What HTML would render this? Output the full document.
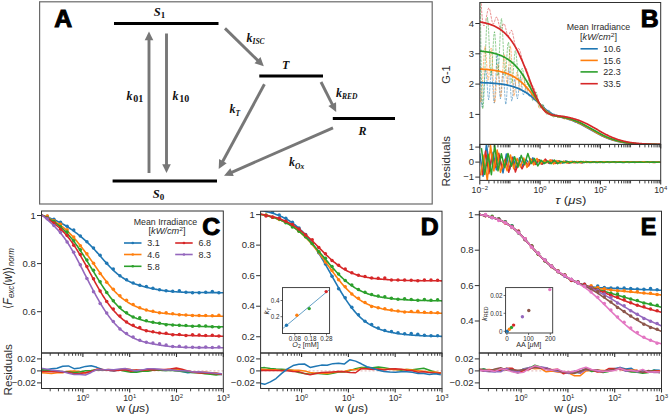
<!DOCTYPE html><html><head><meta charset="utf-8"><style>html,body{margin:0;padding:0;background:#fff;width:669px;height:416px;overflow:hidden}svg{display:block}text{stroke:none}</style></head><body>
<svg width="669" height="416" viewBox="0 0 669 416">
<rect x="0" y="0" width="669" height="416" fill="#fff"/>
<rect x="39.6" y="1.8" width="392.6" height="202.2" fill="none" stroke="#6a6a6a" stroke-width="1.2"/>
<text x="54.3" y="27.2" font-size="24.8" text-anchor="start" font-weight="bold" font-style="normal" font-family='"Liberation Sans", sans-serif' fill="#000" style="stroke:#000;stroke-width:1.0px">A</text>
<line x1="114" y1="23.6" x2="218.5" y2="23.6" stroke="#000" stroke-width="3" />
<line x1="112.6" y1="181" x2="217" y2="181" stroke="#000" stroke-width="3" />
<line x1="259.3" y1="76" x2="323" y2="76" stroke="#000" stroke-width="3" />
<line x1="332.8" y1="118.5" x2="395" y2="118.5" stroke="#000" stroke-width="3" />
<line x1="149" y1="173" x2="149" y2="39.3" stroke="#777777" stroke-width="2.9" />
<path d="M149,31.5 L153.3,40.3 L144.7,40.3 Z" fill="#777777"/>
<line x1="166.5" y1="33.5" x2="166.5" y2="165.2" stroke="#777777" stroke-width="2.9" />
<path d="M166.5,173 L162.2,164.2 L170.8,164.2 Z" fill="#777777"/>
<line x1="225" y1="28.4" x2="258.22" y2="60.85" stroke="#777777" stroke-width="2.9" />
<path d="M263.8,66.3 L254.5,63.23 L260.51,57.07 Z" fill="#777777"/>
<line x1="264.4" y1="84.3" x2="222.41" y2="162.04" stroke="#777777" stroke-width="2.9" />
<path d="M218.7,168.9 L219.1,159.11 L226.67,163.2 Z" fill="#777777"/>
<line x1="321" y1="82" x2="332.67" y2="105.04" stroke="#777777" stroke-width="2.9" />
<path d="M336.2,112 L328.39,106.09 L336.06,102.21 Z" fill="#777777"/>
<line x1="333" y1="127.8" x2="231.14" y2="172.56" stroke="#777777" stroke-width="2.9" />
<path d="M224,175.7 L230.33,168.22 L233.79,176.1 Z" fill="#777777"/>
<text x="126.6" y="99.5" font-family='"Liberation Serif", serif' fill="#111"><tspan font-size="12" font-weight="bold" font-style="italic">k</tspan><tspan font-size="10" font-weight="bold" font-style="normal" dy="2.5" dx="0.6">01</tspan></text>
<text x="172.6" y="99.5" font-family='"Liberation Serif", serif' fill="#111"><tspan font-size="12" font-weight="bold" font-style="italic">k</tspan><tspan font-size="10" font-weight="bold" font-style="normal" dy="2.5" dx="0.6">10</tspan></text>
<text x="246.5" y="41.5" font-family='"Liberation Serif", serif' fill="#111"><tspan font-size="12" font-weight="bold" font-style="italic">k</tspan><tspan font-size="7.5" font-weight="bold" font-style="italic" dy="2.5" dx="0">ISC</tspan></text>
<text x="229.5" y="113" font-family='"Liberation Serif", serif' fill="#111"><tspan font-size="12" font-weight="bold" font-style="italic">k</tspan><tspan font-size="7.5" font-weight="bold" font-style="italic" dy="2.5" dx="0">T</tspan></text>
<text x="336" y="96.5" font-family='"Liberation Serif", serif' fill="#111"><tspan font-size="12" font-weight="bold" font-style="italic">k</tspan><tspan font-size="7.5" font-weight="bold" font-style="italic" dy="2.5" dx="0">RED</tspan></text>
<text x="289" y="166" font-family='"Liberation Serif", serif' fill="#111"><tspan font-size="12" font-weight="bold" font-style="italic">k</tspan><tspan font-size="7.5" font-weight="bold" font-style="italic" dy="2.5" dx="0">Ox</tspan></text>
<text x="153.8" y="16.3" font-family='"Liberation Serif", serif' fill="#111"><tspan font-size="12.5" font-weight="bold" font-style="italic">S</tspan><tspan font-size="9" font-weight="bold" dy="2">1</tspan></text>
<text x="152.8" y="197.8" font-family='"Liberation Serif", serif' fill="#111"><tspan font-size="12.5" font-weight="bold" font-style="italic">S</tspan><tspan font-size="9" font-weight="bold" dy="2">0</tspan></text>
<text x="282" y="69" font-size="12" text-anchor="start" font-weight="bold" font-style="italic" font-family='"Liberation Serif", serif' fill="#111" >T</text>
<text x="358.5" y="135" font-size="12" text-anchor="start" font-weight="bold" font-style="italic" font-family='"Liberation Serif", serif' fill="#111" >R</text>
<defs>
<clipPath id="cB"><rect x="479.8" y="2.5" width="180.9" height="141.9"/></clipPath>
<clipPath id="cBr"><rect x="479.8" y="144.4" width="180.9" height="36"/></clipPath>
<clipPath id="cC"><rect x="41.5" y="211" width="181.8" height="142"/></clipPath>
<clipPath id="cCr"><rect x="41.5" y="353" width="181.8" height="35.5"/></clipPath>
<clipPath id="cD"><rect x="260.6" y="211.2" width="181.4" height="141.8"/></clipPath>
<clipPath id="cDr"><rect x="260.6" y="353" width="181.4" height="35.5"/></clipPath>
<clipPath id="cE"><rect x="479.3" y="211.2" width="182.2" height="141.8"/></clipPath>
<clipPath id="cEr"><rect x="479.3" y="353" width="182.2" height="35.5"/></clipPath>
</defs>
<g clip-path="url(#cB)">
<path d="M479.8,40.86 L480.39,73.38 L480.98,93.92 L481.57,104.51 L482.15,107.16 L482.74,103.89 L483.33,96.72 L483.92,87.66 L484.51,78.74 L485.1,71.97 L485.69,69.36 L486.28,72.54 L486.86,80.05 L487.45,89.01 L488.04,96.54 L488.63,99.74 L489.22,96.55 L489.81,88.89 L490.4,80 L490.99,73.06 L491.57,71.31 L492.16,76.57 L492.75,86.08 L493.34,96.12 L493.93,102.97 L494.52,102.9 L495.11,94.43 L495.7,81.1 L496.28,67.16 L496.87,56.87 L497.46,54.42 L498.05,60.94 L498.64,72.75 L499.23,85.71 L499.82,95.72 L500.41,98.78 L500.99,94.44 L501.58,86.1 L502.17,77.38 L502.76,71.9 L503.35,73.01 L503.94,80.26 L504.53,90.25 L505.12,99.48 L505.7,104.48 L506.29,102.23 L506.88,93.92 L507.47,83.04 L508.06,73.11 L508.65,67.63 L509.24,69.37 L509.83,76.78 L510.41,86.66 L511,95.84 L511.59,101.13 L512.18,100.32 L512.77,95.09 L513.36,88.05 L513.95,81.84 L514.53,79.07 L515.12,81.19 L515.71,86.46 L516.3,92.65 L516.89,97.52 L517.48,98.84 L518.07,95.78 L518.66,90.07 L519.24,83.72 L519.83,78.73 L520.42,77.05 L521.01,79.15 L521.6,83.56 L522.19,88.7 L522.78,92.97 L523.37,94.87 L523.95,94.23 L524.54,92.09 L525.13,89.53 L525.72,87.63 L526.31,87.4 L526.9,88.78 L527.49,91.06 L528.08,93.52 L528.66,95.44 L529.25,96.21 L529.84,96 L530.43,95.3 L531.02,94.6 L531.61,94.41 L532.2,95.1 L532.79,96.43 L533.37,97.99 L533.96,99.38 L534.55,100.17 L535.14,100.14 L535.73,99.59 L536.32,98.93 L536.91,98.57 L537.5,98.91 L538.08,100.12 L538.67,101.85 L539.26,103.66 L539.85,105.14 L540.44,105.87 L541.03,105.76 L541.62,105.19 L542.21,104.58 L542.79,104.37 L543.38,104.97 L543.97,106.38 L544.56,108.21 L545.15,110.04 L545.74,111.46 L546.33,112.07 L546.91,111.92 L547.5,111.34 L548.09,110.67 L548.68,110.26 L549.27,110.4 L549.86,111.04 L550.45,111.95 L551.04,112.9 L551.62,113.65 L552.21,114.01 L552.8,114.07 L553.39,114 L553.98,113.97 L554.57,114.17 L555.16,114.71 L555.75,115.45 L556.33,116.23 L556.92,116.87 L557.51,117.18 L558.1,117.08 L558.69,116.73 L559.28,116.3 L559.87,115.97 L560.46,115.93 L561.04,116.24 L561.63,116.77 L562.22,117.36 L562.81,117.85 L563.4,118.1 L563.99,118.08 L564.58,117.91 L565.17,117.73 L565.75,117.67 L566.34,117.85 L566.93,118.26 L567.52,118.79 L568.11,119.32 L568.7,119.7 L569.29,119.85 L569.88,119.78 L570.46,119.64 L571.05,119.56 L571.64,119.66 L572.23,120.05 L572.82,120.65 L573.41,121.34 L574,121.97 L574.59,122.39 L575.17,122.51 L575.76,122.42 L576.35,122.24 L576.94,122.1 L577.53,122.13 L578.12,122.41 L578.71,122.89 L579.3,123.49" fill="none" stroke="#1f77b4" stroke-width="0.6" stroke-linejoin="round" stroke-dasharray="2.6,1" opacity="0.85"/>
<path d="M479.8,89.54 L480.39,99.93 L480.98,102.16 L481.57,98.12 L482.15,89.66 L482.74,78.66 L483.33,66.96 L483.92,56.44 L484.51,48.97 L485.1,46.4 L485.69,49.91 L486.28,57.67 L486.86,67.06 L487.45,75.44 L488.04,80.19 L488.63,78.87 L489.22,72.07 L489.81,62.69 L490.4,53.7 L490.99,48.07 L491.57,48.77 L492.16,56.89 L492.75,69.63 L493.34,83.7 L493.93,95.8 L494.52,102.64 L495.11,101.58 L495.7,94.13 L496.28,83.48 L496.87,72.82 L497.46,65.33 L498.05,64.09 L498.64,69.36 L499.23,78.3 L499.82,87.92 L500.41,95.25 L500.99,97.28 L501.58,92.32 L502.17,82.58 L502.76,71.01 L503.35,60.59 L503.94,54.27 L504.53,54.67 L505.12,60.88 L505.7,69.98 L506.29,79.06 L506.88,85.18 L507.47,85.45 L508.06,79.16 L508.65,69.06 L509.24,58.14 L509.83,49.42 L510.41,45.91 L511,49.76 L511.59,59.22 L512.18,71.44 L512.77,83.55 L513.36,92.7 L513.95,96.19 L514.53,94 L515.12,88.29 L515.71,81.29 L516.3,75.21 L516.89,72.27 L517.48,73.58 L518.07,77.79 L518.66,83.24 L519.24,88.27 L519.83,91.21 L520.42,90.68 L521.01,87.29 L521.6,82.48 L522.19,77.71 L522.78,74.41 L523.37,73.98 L523.95,76.63 L524.54,81.15 L525.13,86.28 L525.72,90.73 L526.31,93.26 L526.9,93.05 L527.49,90.89 L528.08,87.85 L528.66,85.01 L529.25,83.45 L529.84,84.15 L530.43,86.89 L531.02,90.74 L531.61,94.79 L532.2,98.1 L532.79,99.75 L533.37,99.44 L533.96,97.89 L534.55,95.89 L535.14,94.26 L535.73,93.81 L536.32,95.12 L536.91,97.81 L537.5,101.18 L538.08,104.55 L538.67,107.21 L539.26,108.52 L539.85,108.45 L540.44,107.53 L541.03,106.3 L541.62,105.29 L542.21,105.05 L542.79,105.85 L543.38,107.38 L543.97,109.25 L544.56,111.05 L545.15,112.38 L545.74,112.91 L546.33,112.74 L546.91,112.19 L547.5,111.57 L548.09,111.17 L548.68,111.3 L549.27,112.02 L549.86,113.11 L550.45,114.32 L551.04,115.4 L551.62,116.13 L552.21,116.33 L552.8,116.13 L553.39,115.73 L553.98,115.31 L554.57,115.05 L555.16,115.14 L555.75,115.54 L556.33,116.1 L556.92,116.69 L557.51,117.14 L558.1,117.3 L558.69,117.15 L559.28,116.8 L559.87,116.41 L560.46,116.14 L561.04,116.13 L561.63,116.5 L562.22,117.14 L562.81,117.9 L563.4,118.59 L563.99,119.06 L564.58,119.14 L565.17,118.85 L565.75,118.35 L566.34,117.8 L566.93,117.38 L567.52,117.25 L568.11,117.5 L568.7,118.02 L569.29,118.68 L569.88,119.34 L570.46,119.87 L571.05,120.15 L571.64,120.22 L572.23,120.16 L572.82,120.08 L573.41,120.07 L574,120.23 L574.59,120.59 L575.17,121.1 L575.76,121.7 L576.35,122.32 L576.94,122.92 L577.53,123.44 L578.12,123.82 L578.71,123.99 L579.3,123.91" fill="none" stroke="#ff7f0e" stroke-width="0.6" stroke-linejoin="round" stroke-dasharray="2.6,1" opacity="0.85"/>
<path d="M479.8,-59.28 L480.39,6.1 L480.98,53.36 L481.57,84.74 L482.15,102.48 L482.74,108.82 L483.33,106 L483.92,96.24 L484.51,81.79 L485.1,64.88 L485.69,47.76 L486.28,32.65 L486.86,21.8 L487.45,17.44 L488.04,21.21 L488.63,31.33 L489.22,44.8 L489.81,58.61 L490.4,69.77 L490.99,75.28 L491.57,73.08 L492.16,65.05 L492.75,54.04 L493.34,42.91 L493.93,34.53 L494.52,31.76 L495.11,36.18 L495.7,45.59 L496.28,57.13 L496.87,67.92 L497.46,75.07 L498.05,75.74 L498.64,68.76 L499.23,56.71 L499.82,42.62 L500.41,29.54 L500.99,20.52 L501.58,18.55 L502.17,24.49 L502.76,35.74 L503.35,49.41 L503.94,62.59 L504.53,72.4 L505.12,76 L505.7,72.94 L506.29,65.55 L506.88,56.33 L507.47,47.78 L508.06,42.39 L508.65,42.55 L509.24,48.22 L509.83,57.26 L510.41,67.46 L511,76.6 L511.59,82.46 L512.18,83.02 L512.77,78.64 L513.36,71.26 L513.95,62.86 L514.53,55.39 L515.12,50.83 L515.71,50.89 L516.3,55.07 L516.89,61.78 L517.48,69.43 L518.07,76.43 L518.66,81.2 L519.24,82.46 L519.83,80.75 L520.42,77.29 L521.01,73.26 L521.6,69.87 L522.19,68.32 L522.78,69.47 L523.37,72.74 L523.95,77.16 L524.54,81.79 L525.13,85.65 L525.72,87.81 L526.31,87.69 L526.9,85.94 L527.49,83.42 L528.08,80.99 L528.66,79.53 L529.25,79.87 L529.84,82.41 L530.43,86.43 L531.02,91.12 L531.61,95.63 L532.2,99.14 L532.79,100.81 L533.37,100.4 L533.96,98.57 L534.55,96.09 L535.14,93.7 L535.73,92.16 L536.32,92.21 L536.91,93.97 L537.5,96.9 L538.08,100.36 L538.67,103.75 L539.26,106.46 L539.85,107.89 L540.44,108.01 L541.03,107.27 L541.62,106.15 L542.21,105.1 L542.79,104.61 L543.38,105.09 L543.97,106.51 L544.56,108.48 L545.15,110.64 L545.74,112.59 L546.33,113.98 L546.91,114.45 L547.5,114.13 L548.09,113.32 L548.68,112.35 L549.27,111.52 L549.86,111.15 L550.45,111.51 L551.04,112.46 L551.62,113.75 L552.21,115.12 L552.8,116.3 L553.39,117.05 L553.98,117.18 L554.57,116.8 L555.16,116.13 L555.75,115.37 L556.33,114.74 L556.92,114.42 L557.51,114.57 L558.1,115.05 L558.69,115.73 L559.28,116.44 L559.87,117.04 L560.46,117.37 L561.04,117.36 L561.63,117.1 L562.22,116.72 L562.81,116.33 L563.4,116.05 L563.99,116.01 L564.58,116.25 L565.17,116.69 L565.75,117.23 L566.34,117.8 L566.93,118.3 L567.52,118.64 L568.11,118.8 L568.7,118.84 L569.29,118.83 L569.88,118.82 L570.46,118.89 L571.05,119.1 L571.64,119.44 L572.23,119.86 L572.82,120.3 L573.41,120.72 L574,121.06 L574.59,121.25 L575.17,121.32 L575.76,121.29 L576.35,121.22 L576.94,121.14 L577.53,121.1 L578.12,121.13 L578.71,121.29 L579.3,121.6" fill="none" stroke="#2ca02c" stroke-width="0.6" stroke-linejoin="round" stroke-dasharray="2.6,1" opacity="0.85"/>
<path d="M479.8,-32.72 L480.39,-15.01 L480.98,-1.02 L481.57,9.64 L482.15,17.3 L482.74,22.34 L483.33,25.13 L483.92,26.01 L484.51,25.35 L485.1,23.52 L485.69,20.88 L486.28,17.79 L486.86,14.61 L487.45,11.7 L488.04,9.43 L488.63,8.16 L489.22,8.25 L489.81,9.83 L490.4,12.48 L490.99,15.68 L491.57,18.94 L492.16,21.74 L492.75,23.57 L493.34,24.01 L493.93,23.22 L494.52,21.66 L495.11,19.8 L495.7,18.11 L496.28,17.06 L496.87,17.1 L497.46,18.34 L498.05,20.41 L498.64,22.89 L499.23,25.36 L499.82,27.41 L500.41,28.61 L500.99,28.68 L501.58,27.86 L502.17,26.54 L502.76,25.12 L503.35,24.01 L503.94,23.58 L504.53,24.23 L505.12,25.9 L505.7,28.21 L506.29,30.76 L506.88,33.14 L507.47,34.97 L508.06,35.85 L508.65,35.57 L509.24,34.49 L509.83,33.02 L510.41,31.56 L511,30.55 L511.59,30.38 L512.18,31.43 L512.77,33.56 L513.36,36.39 L513.95,39.55 L514.53,42.66 L515.12,45.35 L515.71,47.23 L516.3,48.21 L516.89,48.53 L517.48,48.49 L518.07,48.38 L518.66,48.47 L519.24,49.07 L519.83,50.38 L520.42,52.3 L521.01,54.6 L521.6,57.08 L522.19,59.54 L522.78,61.75 L523.37,63.53 L523.95,64.85 L524.54,65.88 L525.13,66.75 L525.72,67.62 L526.31,68.64 L526.9,69.97 L527.49,71.69 L528.08,73.68 L528.66,75.83 L529.25,77.99 L529.84,80.04 L530.43,81.84 L531.02,83.27 L531.61,84.38 L532.2,85.3 L532.79,86.14 L533.37,87.03 L533.96,88.1 L534.55,89.47 L535.14,91.17 L535.73,93.09 L536.32,95.11 L536.91,97.11 L537.5,98.97 L538.08,100.57 L538.67,101.82 L539.26,102.78 L539.85,103.52 L540.44,104.14 L541.03,104.73 L541.62,105.38 L542.21,106.17 L542.79,107.11 L543.38,108.13 L543.97,109.18 L544.56,110.19 L545.15,111.09 L545.74,111.83 L546.33,112.36 L546.91,112.72 L547.5,112.96 L548.09,113.12 L548.68,113.26 L549.27,113.41 L549.86,113.62 L550.45,113.89 L551.04,114.19 L551.62,114.5 L552.21,114.79 L552.8,115.02 L553.39,115.18 L553.98,115.26 L554.57,115.27 L555.16,115.25 L555.75,115.23 L556.33,115.21 L556.92,115.24 L557.51,115.32 L558.1,115.45 L558.69,115.61 L559.28,115.78 L559.87,115.94 L560.46,116.07 L561.04,116.15 L561.63,116.18 L562.22,116.19 L562.81,116.18 L563.4,116.18 L563.99,116.21 L564.58,116.28 L565.17,116.4 L565.75,116.57 L566.34,116.76 L566.93,116.96 L567.52,117.15 L568.11,117.32 L568.7,117.46 L569.29,117.57 L569.88,117.66 L570.46,117.75 L571.05,117.84 L571.64,117.95 L572.23,118.1 L572.82,118.28 L573.41,118.49 L574,118.71 L574.59,118.93 L575.17,119.14 L575.76,119.32 L576.35,119.48 L576.94,119.6 L577.53,119.71 L578.12,119.81 L578.71,119.92 L579.3,120.05" fill="none" stroke="#d62728" stroke-width="0.6" stroke-linejoin="round" stroke-dasharray="2.6,1" opacity="0.85"/>
<path d="M479.8,82.64 L480.25,82.65 L480.71,82.67 L481.16,82.68 L481.61,82.69 L482.07,82.71 L482.52,82.72 L482.97,82.74 L483.43,82.75 L483.88,82.77 L484.33,82.79 L484.79,82.8 L485.24,82.82 L485.69,82.84 L486.15,82.86 L486.6,82.88 L487.05,82.9 L487.51,82.92 L487.96,82.95 L488.41,82.97 L488.87,82.99 L489.32,83.02 L489.77,83.04 L490.23,83.07 L490.68,83.1 L491.13,83.13 L491.59,83.16 L492.04,83.19 L492.49,83.22 L492.95,83.25 L493.4,83.28 L493.85,83.32 L494.31,83.35 L494.76,83.39 L495.22,83.43 L495.67,83.47 L496.12,83.51 L496.58,83.55 L497.03,83.6 L497.48,83.64 L497.94,83.69 L498.39,83.74 L498.84,83.79 L499.3,83.84 L499.75,83.89 L500.2,83.95 L500.66,84.01 L501.11,84.07 L501.56,84.13 L502.02,84.19 L502.47,84.25 L502.92,84.32 L503.38,84.39 L503.83,84.46 L504.28,84.54 L504.74,84.61 L505.19,84.69 L505.64,84.78 L506.1,84.86 L506.55,84.95 L507,85.04 L507.46,85.13 L507.91,85.23 L508.36,85.32 L508.82,85.43 L509.27,85.53 L509.72,85.64 L510.18,85.75 L510.63,85.87 L511.08,85.99 L511.54,86.11 L511.99,86.24 L512.44,86.37 L512.9,86.5 L513.35,86.64 L513.8,86.78 L514.26,86.93 L514.71,87.08 L515.16,87.23 L515.62,87.4 L516.07,87.56 L516.52,87.73 L516.98,87.91 L517.43,88.08 L517.88,88.27 L518.34,88.46 L518.79,88.66 L519.24,88.86 L519.7,89.06 L520.15,89.27 L520.6,89.49 L521.06,89.72 L521.51,89.94 L521.96,90.18 L522.42,90.42 L522.87,90.67 L523.32,90.92 L523.78,91.18 L524.23,91.45 L524.68,91.72 L525.14,92 L525.59,92.28 L526.05,92.58 L526.5,92.87 L526.95,93.18 L527.41,93.49 L527.86,93.81 L528.31,94.13 L528.77,94.46 L529.22,94.8 L529.67,95.14 L530.13,95.49 L530.58,95.84 L531.03,96.2 L531.49,96.57 L531.94,96.94 L532.39,97.32 L532.85,97.71 L533.3,98.09 L533.75,98.49 L534.21,98.89 L534.66,99.29 L535.11,99.7 L535.57,100.11 L536.02,100.52 L536.47,100.94 L536.93,101.36 L537.38,101.78 L537.83,102.21 L538.29,102.64 L538.74,103.06 L539.19,103.49 L539.65,103.92 L540.1,104.35 L540.55,104.78 L541.01,105.2 L541.46,105.63 L541.91,106.05 L542.37,106.47 L542.82,106.89 L543.27,107.3 L543.73,107.71 L544.18,108.11 L544.63,108.51 L545.09,108.9 L545.54,109.29 L545.99,109.67 L546.45,110.04 L546.9,110.4 L547.35,110.75 L547.81,111.1 L548.26,111.43 L548.71,111.76 L549.17,112.08 L549.62,112.38 L550.07,112.68 L550.53,112.97 L550.98,113.24 L551.43,113.51 L551.89,113.77 L552.34,114.01 L552.79,114.25 L553.25,114.47 L553.7,114.69 L554.15,114.89 L554.61,115.09 L555.06,115.28 L555.52,115.45 L555.97,115.63 L556.42,115.79 L556.88,115.95 L557.33,116.1 L557.78,116.24 L558.24,116.38 L558.69,116.51 L559.14,116.64 L559.6,116.77 L560.05,116.89 L560.5,117.01 L560.96,117.13 L561.41,117.24 L561.86,117.36 L562.32,117.47 L562.77,117.59 L563.22,117.7 L563.68,117.82 L564.13,117.93 L564.58,118.05 L565.04,118.17 L565.49,118.29 L565.94,118.41 L566.4,118.54 L566.85,118.66 L567.3,118.8 L567.76,118.93 L568.21,119.06 L568.66,119.2 L569.12,119.35 L569.57,119.49 L570.02,119.64 L570.48,119.79 L570.93,119.95 L571.38,120.11 L571.84,120.27 L572.29,120.43 L572.74,120.6 L573.2,120.78 L573.65,120.95 L574.1,121.13 L574.56,121.31 L575.01,121.5 L575.46,121.69 L575.92,121.88 L576.37,122.08 L576.82,122.28 L577.28,122.48 L577.73,122.69 L578.18,122.9 L578.64,123.11 L579.09,123.33 L579.54,123.55 L580,123.77 L580.45,124 L580.9,124.23 L581.36,124.46 L581.81,124.69 L582.26,124.93 L582.72,125.17 L583.17,125.41 L583.62,125.65 L584.08,125.9 L584.53,126.15 L584.98,126.4 L585.44,126.65 L585.89,126.9 L586.35,127.16 L586.8,127.41 L587.25,127.67 L587.71,127.93 L588.16,128.19 L588.61,128.45 L589.07,128.71 L589.52,128.97 L589.97,129.24 L590.43,129.5 L590.88,129.76 L591.33,130.02 L591.79,130.29 L592.24,130.55 L592.69,130.81 L593.15,131.07 L593.6,131.33 L594.05,131.58 L594.51,131.84 L594.96,132.1 L595.41,132.35 L595.87,132.6 L596.32,132.85 L596.77,133.1 L597.23,133.35 L597.68,133.6 L598.13,133.84 L598.59,134.08 L599.04,134.32 L599.49,134.55 L599.95,134.78 L600.4,135.01 L600.85,135.24 L601.31,135.46 L601.76,135.68 L602.21,135.9 L602.67,136.12 L603.12,136.33 L603.57,136.54 L604.03,136.74 L604.48,136.94 L604.93,137.14 L605.39,137.33 L605.84,137.53 L606.29,137.71 L606.75,137.9 L607.2,138.08 L607.65,138.26 L608.11,138.43 L608.56,138.6 L609.01,138.77 L609.47,138.93 L609.92,139.09 L610.37,139.25 L610.83,139.4 L611.28,139.55 L611.73,139.7 L612.19,139.84 L612.64,139.98 L613.09,140.12 L613.55,140.25 L614,140.38 L614.45,140.51 L614.91,140.63 L615.36,140.75 L615.82,140.87 L616.27,140.98 L616.72,141.09 L617.18,141.2 L617.63,141.31 L618.08,141.41 L618.54,141.51 L618.99,141.61 L619.44,141.7 L619.9,141.79 L620.35,141.88 L620.8,141.97 L621.26,142.06 L621.71,142.14 L622.16,142.22 L622.62,142.3 L623.07,142.37 L623.52,142.45 L623.98,142.52 L624.43,142.59 L624.88,142.65 L625.34,142.72 L625.79,142.78 L626.24,142.84 L626.7,142.9 L627.15,142.96 L627.6,143.02 L628.06,143.07 L628.51,143.12 L628.96,143.17 L629.42,143.22 L629.87,143.27 L630.32,143.32 L630.78,143.36 L631.23,143.41 L631.68,143.45 L632.14,143.49 L632.59,143.53 L633.04,143.57 L633.5,143.6 L633.95,143.64 L634.4,143.67 L634.86,143.71 L635.31,143.74 L635.76,143.77 L636.22,143.8 L636.67,143.83 L637.12,143.86 L637.58,143.89 L638.03,143.92 L638.48,143.94 L638.94,143.97 L639.39,143.99 L639.84,144.02 L640.3,144.04 L640.75,144.06 L641.2,144.08 L641.66,144.1 L642.11,144.12 L642.56,144.14 L643.02,144.16 L643.47,144.18 L643.92,144.2 L644.38,144.21 L644.83,144.23 L645.28,144.24 L645.74,144.26 L646.19,144.27 L646.65,144.29 L647.1,144.3 L647.55,144.32 L648.01,144.33 L648.46,144.34 L648.91,144.35 L649.37,144.37 L649.82,144.38 L650.27,144.39 L650.73,144.4 L651.18,144.41 L651.63,144.42 L652.09,144.43 L652.54,144.44 L652.99,144.45 L653.45,144.45 L653.9,144.46 L654.35,144.47 L654.81,144.48 L655.26,144.49 L655.71,144.49 L656.17,144.5 L656.62,144.51 L657.07,144.51 L657.53,144.52 L657.98,144.53 L658.43,144.53 L658.89,144.54 L659.34,144.54 L659.79,144.55 L660.25,144.55 L660.7,144.56" fill="none" stroke="#1f77b4" stroke-width="1.7" stroke-linejoin="round" />
<path d="M479.8,69.03 L480.25,69.05 L480.71,69.07 L481.16,69.1 L481.61,69.13 L482.07,69.15 L482.52,69.18 L482.97,69.21 L483.43,69.24 L483.88,69.27 L484.33,69.31 L484.79,69.34 L485.24,69.37 L485.69,69.41 L486.15,69.45 L486.6,69.49 L487.05,69.52 L487.51,69.57 L487.96,69.61 L488.41,69.65 L488.87,69.7 L489.32,69.74 L489.77,69.79 L490.23,69.84 L490.68,69.9 L491.13,69.95 L491.59,70 L492.04,70.06 L492.49,70.12 L492.95,70.18 L493.4,70.25 L493.85,70.31 L494.31,70.38 L494.76,70.45 L495.22,70.52 L495.67,70.6 L496.12,70.67 L496.58,70.75 L497.03,70.84 L497.48,70.92 L497.94,71.01 L498.39,71.1 L498.84,71.2 L499.3,71.29 L499.75,71.39 L500.2,71.5 L500.66,71.6 L501.11,71.72 L501.56,71.83 L502.02,71.95 L502.47,72.07 L502.92,72.2 L503.38,72.33 L503.83,72.46 L504.28,72.6 L504.74,72.74 L505.19,72.89 L505.64,73.04 L506.1,73.2 L506.55,73.36 L507,73.52 L507.46,73.69 L507.91,73.87 L508.36,74.05 L508.82,74.24 L509.27,74.44 L509.72,74.64 L510.18,74.84 L510.63,75.05 L511.08,75.27 L511.54,75.49 L511.99,75.73 L512.44,75.96 L512.9,76.21 L513.35,76.46 L513.8,76.72 L514.26,76.98 L514.71,77.26 L515.16,77.54 L515.62,77.83 L516.07,78.12 L516.52,78.43 L516.98,78.74 L517.43,79.06 L517.88,79.39 L518.34,79.73 L518.79,80.08 L519.24,80.43 L519.7,80.8 L520.15,81.17 L520.6,81.55 L521.06,81.94 L521.51,82.34 L521.96,82.75 L522.42,83.16 L522.87,83.59 L523.32,84.03 L523.78,84.47 L524.23,84.93 L524.68,85.39 L525.14,85.86 L525.59,86.34 L526.05,86.83 L526.5,87.33 L526.95,87.83 L527.41,88.35 L527.86,88.87 L528.31,89.4 L528.77,89.94 L529.22,90.48 L529.67,91.03 L530.13,91.59 L530.58,92.16 L531.03,92.73 L531.49,93.3 L531.94,93.88 L532.39,94.47 L532.85,95.06 L533.3,95.65 L533.75,96.25 L534.21,96.84 L534.66,97.44 L535.11,98.04 L535.57,98.65 L536.02,99.25 L536.47,99.84 L536.93,100.44 L537.38,101.04 L537.83,101.63 L538.29,102.21 L538.74,102.79 L539.19,103.37 L539.65,103.94 L540.1,104.5 L540.55,105.05 L541.01,105.6 L541.46,106.13 L541.91,106.66 L542.37,107.17 L542.82,107.67 L543.27,108.16 L543.73,108.63 L544.18,109.09 L544.63,109.54 L545.09,109.97 L545.54,110.39 L545.99,110.79 L546.45,111.18 L546.9,111.55 L547.35,111.91 L547.81,112.25 L548.26,112.57 L548.71,112.88 L549.17,113.17 L549.62,113.44 L550.07,113.71 L550.53,113.95 L550.98,114.19 L551.43,114.4 L551.89,114.61 L552.34,114.8 L552.79,114.98 L553.25,115.15 L553.7,115.32 L554.15,115.47 L554.61,115.61 L555.06,115.74 L555.52,115.87 L555.97,115.99 L556.42,116.1 L556.88,116.21 L557.33,116.32 L557.78,116.42 L558.24,116.52 L558.69,116.61 L559.14,116.71 L559.6,116.8 L560.05,116.89 L560.5,116.99 L560.96,117.08 L561.41,117.18 L561.86,117.27 L562.32,117.37 L562.77,117.46 L563.22,117.56 L563.68,117.67 L564.13,117.77 L564.58,117.88 L565.04,117.99 L565.49,118.1 L565.94,118.21 L566.4,118.33 L566.85,118.45 L567.3,118.57 L567.76,118.7 L568.21,118.83 L568.66,118.96 L569.12,119.1 L569.57,119.24 L570.02,119.38 L570.48,119.52 L570.93,119.67 L571.38,119.82 L571.84,119.98 L572.29,120.14 L572.74,120.3 L573.2,120.47 L573.65,120.64 L574.1,120.81 L574.56,120.99 L575.01,121.17 L575.46,121.35 L575.92,121.54 L576.37,121.73 L576.82,121.93 L577.28,122.12 L577.73,122.32 L578.18,122.53 L578.64,122.74 L579.09,122.95 L579.54,123.16 L580,123.38 L580.45,123.6 L580.9,123.82 L581.36,124.05 L581.81,124.28 L582.26,124.51 L582.72,124.74 L583.17,124.98 L583.62,125.22 L584.08,125.46 L584.53,125.71 L584.98,125.95 L585.44,126.2 L585.89,126.45 L586.35,126.7 L586.8,126.96 L587.25,127.21 L587.71,127.47 L588.16,127.73 L588.61,127.99 L589.07,128.25 L589.52,128.51 L589.97,128.77 L590.43,129.03 L590.88,129.29 L591.33,129.55 L591.79,129.82 L592.24,130.08 L592.69,130.34 L593.15,130.6 L593.6,130.86 L594.05,131.12 L594.51,131.38 L594.96,131.64 L595.41,131.9 L595.87,132.15 L596.32,132.41 L596.77,132.66 L597.23,132.91 L597.68,133.16 L598.13,133.4 L598.59,133.65 L599.04,133.89 L599.49,134.13 L599.95,134.37 L600.4,134.6 L600.85,134.83 L601.31,135.06 L601.76,135.29 L602.21,135.51 L602.67,135.73 L603.12,135.95 L603.57,136.16 L604.03,136.37 L604.48,136.58 L604.93,136.78 L605.39,136.98 L605.84,137.18 L606.29,137.38 L606.75,137.57 L607.2,137.75 L607.65,137.94 L608.11,138.12 L608.56,138.29 L609.01,138.47 L609.47,138.64 L609.92,138.8 L610.37,138.97 L610.83,139.13 L611.28,139.28 L611.73,139.43 L612.19,139.58 L612.64,139.73 L613.09,139.87 L613.55,140.01 L614,140.14 L614.45,140.28 L614.91,140.41 L615.36,140.53 L615.82,140.66 L616.27,140.77 L616.72,140.89 L617.18,141.01 L617.63,141.12 L618.08,141.22 L618.54,141.33 L618.99,141.43 L619.44,141.53 L619.9,141.63 L620.35,141.72 L620.8,141.81 L621.26,141.9 L621.71,141.99 L622.16,142.07 L622.62,142.16 L623.07,142.24 L623.52,142.31 L623.98,142.39 L624.43,142.46 L624.88,142.53 L625.34,142.6 L625.79,142.67 L626.24,142.73 L626.7,142.79 L627.15,142.86 L627.6,142.91 L628.06,142.97 L628.51,143.03 L628.96,143.08 L629.42,143.13 L629.87,143.18 L630.32,143.23 L630.78,143.28 L631.23,143.33 L631.68,143.37 L632.14,143.41 L632.59,143.46 L633.04,143.5 L633.5,143.54 L633.95,143.57 L634.4,143.61 L634.86,143.65 L635.31,143.68 L635.76,143.72 L636.22,143.75 L636.67,143.78 L637.12,143.81 L637.58,143.84 L638.03,143.87 L638.48,143.9 L638.94,143.92 L639.39,143.95 L639.84,143.97 L640.3,144 L640.75,144.02 L641.2,144.04 L641.66,144.06 L642.11,144.09 L642.56,144.11 L643.02,144.13 L643.47,144.15 L643.92,144.16 L644.38,144.18 L644.83,144.2 L645.28,144.22 L645.74,144.23 L646.19,144.25 L646.65,144.26 L647.1,144.28 L647.55,144.29 L648.01,144.31 L648.46,144.32 L648.91,144.33 L649.37,144.34 L649.82,144.36 L650.27,144.37 L650.73,144.38 L651.18,144.39 L651.63,144.4 L652.09,144.41 L652.54,144.42 L652.99,144.43 L653.45,144.44 L653.9,144.45 L654.35,144.46 L654.81,144.46 L655.26,144.47 L655.71,144.48 L656.17,144.49 L656.62,144.49 L657.07,144.5 L657.53,144.51 L657.98,144.51 L658.43,144.52 L658.89,144.53 L659.34,144.53 L659.79,144.54 L660.25,144.54 L660.7,144.55" fill="none" stroke="#ff7f0e" stroke-width="1.7" stroke-linejoin="round" />
<path d="M479.8,51.04 L480.25,51.08 L480.71,51.12 L481.16,51.17 L481.61,51.21 L482.07,51.26 L482.52,51.31 L482.97,51.36 L483.43,51.41 L483.88,51.46 L484.33,51.52 L484.79,51.58 L485.24,51.64 L485.69,51.7 L486.15,51.76 L486.6,51.83 L487.05,51.9 L487.51,51.97 L487.96,52.04 L488.41,52.11 L488.87,52.19 L489.32,52.27 L489.77,52.36 L490.23,52.44 L490.68,52.53 L491.13,52.62 L491.59,52.72 L492.04,52.82 L492.49,52.92 L492.95,53.02 L493.4,53.13 L493.85,53.24 L494.31,53.36 L494.76,53.48 L495.22,53.6 L495.67,53.73 L496.12,53.86 L496.58,54 L497.03,54.14 L497.48,54.29 L497.94,54.44 L498.39,54.59 L498.84,54.75 L499.3,54.92 L499.75,55.09 L500.2,55.27 L500.66,55.45 L501.11,55.64 L501.56,55.83 L502.02,56.03 L502.47,56.24 L502.92,56.45 L503.38,56.67 L503.83,56.9 L504.28,57.13 L504.74,57.37 L505.19,57.62 L505.64,57.87 L506.1,58.14 L506.55,58.41 L507,58.69 L507.46,58.98 L507.91,59.27 L508.36,59.58 L508.82,59.89 L509.27,60.22 L509.72,60.55 L510.18,60.89 L510.63,61.25 L511.08,61.61 L511.54,61.98 L511.99,62.36 L512.44,62.76 L512.9,63.16 L513.35,63.58 L513.8,64 L514.26,64.44 L514.71,64.89 L515.16,65.35 L515.62,65.83 L516.07,66.31 L516.52,66.81 L516.98,67.32 L517.43,67.84 L517.88,68.37 L518.34,68.92 L518.79,69.48 L519.24,70.05 L519.7,70.63 L520.15,71.23 L520.6,71.84 L521.06,72.46 L521.51,73.09 L521.96,73.74 L522.42,74.4 L522.87,75.07 L523.32,75.75 L523.78,76.44 L524.23,77.15 L524.68,77.87 L525.14,78.6 L525.59,79.34 L526.05,80.09 L526.5,80.84 L526.95,81.61 L527.41,82.39 L527.86,83.18 L528.31,83.97 L528.77,84.77 L529.22,85.58 L529.67,86.39 L530.13,87.21 L530.58,88.04 L531.03,88.86 L531.49,89.69 L531.94,90.52 L532.39,91.36 L532.85,92.19 L533.3,93.02 L533.75,93.85 L534.21,94.67 L534.66,95.49 L535.11,96.31 L535.57,97.12 L536.02,97.92 L536.47,98.71 L536.93,99.49 L537.38,100.27 L537.83,101.02 L538.29,101.77 L538.74,102.5 L539.19,103.22 L539.65,103.92 L540.1,104.6 L540.55,105.26 L541.01,105.91 L541.46,106.53 L541.91,107.14 L542.37,107.72 L542.82,108.28 L543.27,108.82 L543.73,109.34 L544.18,109.83 L544.63,110.3 L545.09,110.75 L545.54,111.18 L545.99,111.58 L546.45,111.96 L546.9,112.32 L547.35,112.65 L547.81,112.96 L548.26,113.26 L548.71,113.53 L549.17,113.79 L549.62,114.02 L550.07,114.24 L550.53,114.44 L550.98,114.63 L551.43,114.8 L551.89,114.96 L552.34,115.11 L552.79,115.25 L553.25,115.37 L553.7,115.49 L554.15,115.6 L554.61,115.7 L555.06,115.8 L555.52,115.89 L555.97,115.98 L556.42,116.06 L556.88,116.14 L557.33,116.22 L557.78,116.3 L558.24,116.37 L558.69,116.45 L559.14,116.53 L559.6,116.6 L560.05,116.68 L560.5,116.76 L560.96,116.84 L561.41,116.92 L561.86,117 L562.32,117.09 L562.77,117.17 L563.22,117.26 L563.68,117.35 L564.13,117.45 L564.58,117.55 L565.04,117.64 L565.49,117.75 L565.94,117.85 L566.4,117.96 L566.85,118.07 L567.3,118.18 L567.76,118.3 L568.21,118.42 L568.66,118.54 L569.12,118.66 L569.57,118.79 L570.02,118.92 L570.48,119.06 L570.93,119.2 L571.38,119.34 L571.84,119.48 L572.29,119.63 L572.74,119.78 L573.2,119.94 L573.65,120.1 L574.1,120.26 L574.56,120.42 L575.01,120.59 L575.46,120.76 L575.92,120.94 L576.37,121.12 L576.82,121.3 L577.28,121.49 L577.73,121.68 L578.18,121.87 L578.64,122.07 L579.09,122.27 L579.54,122.47 L580,122.68 L580.45,122.89 L580.9,123.1 L581.36,123.32 L581.81,123.54 L582.26,123.76 L582.72,123.99 L583.17,124.21 L583.62,124.45 L584.08,124.68 L584.53,124.92 L584.98,125.15 L585.44,125.4 L585.89,125.64 L586.35,125.89 L586.8,126.13 L587.25,126.38 L587.71,126.63 L588.16,126.89 L588.61,127.14 L589.07,127.4 L589.52,127.66 L589.97,127.92 L590.43,128.18 L590.88,128.44 L591.33,128.7 L591.79,128.96 L592.24,129.22 L592.69,129.48 L593.15,129.75 L593.6,130.01 L594.05,130.27 L594.51,130.53 L594.96,130.79 L595.41,131.05 L595.87,131.31 L596.32,131.57 L596.77,131.83 L597.23,132.08 L597.68,132.34 L598.13,132.59 L598.59,132.84 L599.04,133.09 L599.49,133.34 L599.95,133.58 L600.4,133.82 L600.85,134.06 L601.31,134.3 L601.76,134.54 L602.21,134.77 L602.67,135 L603.12,135.23 L603.57,135.45 L604.03,135.67 L604.48,135.89 L604.93,136.1 L605.39,136.31 L605.84,136.52 L606.29,136.73 L606.75,136.93 L607.2,137.13 L607.65,137.32 L608.11,137.51 L608.56,137.7 L609.01,137.89 L609.47,138.07 L609.92,138.25 L610.37,138.42 L610.83,138.59 L611.28,138.76 L611.73,138.92 L612.19,139.08 L612.64,139.24 L613.09,139.39 L613.55,139.54 L614,139.69 L614.45,139.83 L614.91,139.97 L615.36,140.11 L615.82,140.24 L616.27,140.37 L616.72,140.5 L617.18,140.62 L617.63,140.74 L618.08,140.86 L618.54,140.97 L618.99,141.09 L619.44,141.2 L619.9,141.3 L620.35,141.4 L620.8,141.5 L621.26,141.6 L621.71,141.7 L622.16,141.79 L622.62,141.88 L623.07,141.97 L623.52,142.05 L623.98,142.13 L624.43,142.21 L624.88,142.29 L625.34,142.37 L625.79,142.44 L626.24,142.51 L626.7,142.58 L627.15,142.65 L627.6,142.71 L628.06,142.78 L628.51,142.84 L628.96,142.9 L629.42,142.96 L629.87,143.01 L630.32,143.07 L630.78,143.12 L631.23,143.17 L631.68,143.22 L632.14,143.27 L632.59,143.31 L633.04,143.36 L633.5,143.4 L633.95,143.45 L634.4,143.49 L634.86,143.53 L635.31,143.56 L635.76,143.6 L636.22,143.64 L636.67,143.67 L637.12,143.71 L637.58,143.74 L638.03,143.77 L638.48,143.8 L638.94,143.83 L639.39,143.86 L639.84,143.89 L640.3,143.91 L640.75,143.94 L641.2,143.97 L641.66,143.99 L642.11,144.01 L642.56,144.04 L643.02,144.06 L643.47,144.08 L643.92,144.1 L644.38,144.12 L644.83,144.14 L645.28,144.16 L645.74,144.18 L646.19,144.19 L646.65,144.21 L647.1,144.23 L647.55,144.24 L648.01,144.26 L648.46,144.27 L648.91,144.29 L649.37,144.3 L649.82,144.32 L650.27,144.33 L650.73,144.34 L651.18,144.35 L651.63,144.36 L652.09,144.38 L652.54,144.39 L652.99,144.4 L653.45,144.41 L653.9,144.42 L654.35,144.43 L654.81,144.44 L655.26,144.45 L655.71,144.45 L656.17,144.46 L656.62,144.47 L657.07,144.48 L657.53,144.49 L657.98,144.49 L658.43,144.5 L658.89,144.51 L659.34,144.51 L659.79,144.52 L660.25,144.53 L660.7,144.53" fill="none" stroke="#2ca02c" stroke-width="1.7" stroke-linejoin="round" />
<path d="M479.8,21.95 L480.25,22.02 L480.71,22.1 L481.16,22.18 L481.61,22.26 L482.07,22.34 L482.52,22.43 L482.97,22.52 L483.43,22.61 L483.88,22.7 L484.33,22.8 L484.79,22.9 L485.24,23.01 L485.69,23.12 L486.15,23.23 L486.6,23.35 L487.05,23.47 L487.51,23.59 L487.96,23.72 L488.41,23.85 L488.87,23.99 L489.32,24.13 L489.77,24.28 L490.23,24.43 L490.68,24.59 L491.13,24.75 L491.59,24.92 L492.04,25.09 L492.49,25.27 L492.95,25.45 L493.4,25.65 L493.85,25.84 L494.31,26.05 L494.76,26.26 L495.22,26.47 L495.67,26.7 L496.12,26.93 L496.58,27.17 L497.03,27.42 L497.48,27.67 L497.94,27.93 L498.39,28.21 L498.84,28.49 L499.3,28.77 L499.75,29.07 L500.2,29.38 L500.66,29.7 L501.11,30.02 L501.56,30.36 L502.02,30.71 L502.47,31.07 L502.92,31.44 L503.38,31.82 L503.83,32.21 L504.28,32.62 L504.74,33.03 L505.19,33.46 L505.64,33.9 L506.1,34.36 L506.55,34.83 L507,35.31 L507.46,35.8 L507.91,36.31 L508.36,36.84 L508.82,37.38 L509.27,37.93 L509.72,38.5 L510.18,39.09 L510.63,39.69 L511.08,40.3 L511.54,40.94 L511.99,41.59 L512.44,42.26 L512.9,42.94 L513.35,43.64 L513.8,44.36 L514.26,45.1 L514.71,45.85 L515.16,46.62 L515.62,47.42 L516.07,48.22 L516.52,49.05 L516.98,49.9 L517.43,50.76 L517.88,51.64 L518.34,52.54 L518.79,53.46 L519.24,54.4 L519.7,55.35 L520.15,56.33 L520.6,57.32 L521.06,58.32 L521.51,59.35 L521.96,60.39 L522.42,61.44 L522.87,62.52 L523.32,63.6 L523.78,64.71 L524.23,65.82 L524.68,66.95 L525.14,68.09 L525.59,69.25 L526.05,70.41 L526.5,71.58 L526.95,72.76 L527.41,73.95 L527.86,75.15 L528.31,76.35 L528.77,77.56 L529.22,78.77 L529.67,79.98 L530.13,81.19 L530.58,82.39 L531.03,83.6 L531.49,84.8 L531.94,86 L532.39,87.18 L532.85,88.36 L533.3,89.53 L533.75,90.68 L534.21,91.82 L534.66,92.94 L535.11,94.05 L535.57,95.13 L536.02,96.2 L536.47,97.24 L536.93,98.26 L537.38,99.25 L537.83,100.22 L538.29,101.16 L538.74,102.07 L539.19,102.95 L539.65,103.79 L540.1,104.61 L540.55,105.39 L541.01,106.14 L541.46,106.85 L541.91,107.53 L542.37,108.18 L542.82,108.79 L543.27,109.37 L543.73,109.91 L544.18,110.42 L544.63,110.89 L545.09,111.34 L545.54,111.75 L545.99,112.13 L546.45,112.48 L546.9,112.81 L547.35,113.11 L547.81,113.38 L548.26,113.63 L548.71,113.85 L549.17,114.06 L549.62,114.24 L550.07,114.41 L550.53,114.56 L550.98,114.7 L551.43,114.82 L551.89,114.93 L552.34,115.03 L552.79,115.13 L553.25,115.21 L553.7,115.29 L554.15,115.36 L554.61,115.42 L555.06,115.48 L555.52,115.54 L555.97,115.6 L556.42,115.65 L556.88,115.71 L557.33,115.76 L557.78,115.81 L558.24,115.86 L558.69,115.92 L559.14,115.97 L559.6,116.02 L560.05,116.08 L560.5,116.14 L560.96,116.2 L561.41,116.26 L561.86,116.32 L562.32,116.38 L562.77,116.45 L563.22,116.51 L563.68,116.58 L564.13,116.65 L564.58,116.73 L565.04,116.8 L565.49,116.88 L565.94,116.96 L566.4,117.04 L566.85,117.13 L567.3,117.21 L567.76,117.3 L568.21,117.4 L568.66,117.49 L569.12,117.59 L569.57,117.69 L570.02,117.79 L570.48,117.9 L570.93,118 L571.38,118.12 L571.84,118.23 L572.29,118.35 L572.74,118.47 L573.2,118.59 L573.65,118.72 L574.1,118.85 L574.56,118.98 L575.01,119.12 L575.46,119.26 L575.92,119.4 L576.37,119.55 L576.82,119.7 L577.28,119.85 L577.73,120.01 L578.18,120.17 L578.64,120.33 L579.09,120.5 L579.54,120.67 L580,120.84 L580.45,121.02 L580.9,121.2 L581.36,121.38 L581.81,121.57 L582.26,121.76 L582.72,121.96 L583.17,122.15 L583.62,122.36 L584.08,122.56 L584.53,122.77 L584.98,122.98 L585.44,123.19 L585.89,123.41 L586.35,123.63 L586.8,123.86 L587.25,124.08 L587.71,124.31 L588.16,124.55 L588.61,124.78 L589.07,125.02 L589.52,125.26 L589.97,125.5 L590.43,125.74 L590.88,125.99 L591.33,126.24 L591.79,126.49 L592.24,126.74 L592.69,127 L593.15,127.25 L593.6,127.51 L594.05,127.77 L594.51,128.03 L594.96,128.29 L595.41,128.55 L595.87,128.81 L596.32,129.07 L596.77,129.33 L597.23,129.6 L597.68,129.86 L598.13,130.12 L598.59,130.38 L599.04,130.64 L599.49,130.9 L599.95,131.16 L600.4,131.42 L600.85,131.68 L601.31,131.94 L601.76,132.19 L602.21,132.45 L602.67,132.7 L603.12,132.95 L603.57,133.2 L604.03,133.44 L604.48,133.69 L604.93,133.93 L605.39,134.17 L605.84,134.4 L606.29,134.64 L606.75,134.87 L607.2,135.1 L607.65,135.32 L608.11,135.54 L608.56,135.76 L609.01,135.98 L609.47,136.19 L609.92,136.4 L610.37,136.61 L610.83,136.82 L611.28,137.02 L611.73,137.21 L612.19,137.41 L612.64,137.6 L613.09,137.78 L613.55,137.97 L614,138.15 L614.45,138.32 L614.91,138.49 L615.36,138.66 L615.82,138.83 L616.27,138.99 L616.72,139.15 L617.18,139.31 L617.63,139.46 L618.08,139.61 L618.54,139.75 L618.99,139.89 L619.44,140.03 L619.9,140.17 L620.35,140.3 L620.8,140.43 L621.26,140.55 L621.71,140.67 L622.16,140.79 L622.62,140.91 L623.07,141.02 L623.52,141.13 L623.98,141.24 L624.43,141.35 L624.88,141.45 L625.34,141.55 L625.79,141.64 L626.24,141.74 L626.7,141.83 L627.15,141.92 L627.6,142 L628.06,142.09 L628.51,142.17 L628.96,142.25 L629.42,142.32 L629.87,142.4 L630.32,142.47 L630.78,142.54 L631.23,142.61 L631.68,142.68 L632.14,142.74 L632.59,142.8 L633.04,142.86 L633.5,142.92 L633.95,142.98 L634.4,143.04 L634.86,143.09 L635.31,143.14 L635.76,143.19 L636.22,143.24 L636.67,143.29 L637.12,143.33 L637.58,143.38 L638.03,143.42 L638.48,143.46 L638.94,143.5 L639.39,143.54 L639.84,143.58 L640.3,143.62 L640.75,143.65 L641.2,143.69 L641.66,143.72 L642.11,143.75 L642.56,143.78 L643.02,143.81 L643.47,143.84 L643.92,143.87 L644.38,143.9 L644.83,143.93 L645.28,143.95 L645.74,143.98 L646.19,144 L646.65,144.02 L647.1,144.05 L647.55,144.07 L648.01,144.09 L648.46,144.11 L648.91,144.13 L649.37,144.15 L649.82,144.17 L650.27,144.18 L650.73,144.2 L651.18,144.22 L651.63,144.23 L652.09,144.25 L652.54,144.27 L652.99,144.28 L653.45,144.29 L653.9,144.31 L654.35,144.32 L654.81,144.33 L655.26,144.35 L655.71,144.36 L656.17,144.37 L656.62,144.38 L657.07,144.39 L657.53,144.4 L657.98,144.41 L658.43,144.42 L658.89,144.43 L659.34,144.44 L659.79,144.45 L660.25,144.46 L660.7,144.47" fill="none" stroke="#d62728" stroke-width="1.7" stroke-linejoin="round" />
</g>
<rect x="479.8" y="2.5" width="180.9" height="141.9" fill="none" stroke="#303030" stroke-width="1.0"/>
<line x1="475.3" y1="114.4" x2="479.8" y2="114.4" stroke="#303030" stroke-width="1.0" />
<text x="474.1" y="117.6" font-size="9.5" text-anchor="end" font-weight="normal" font-style="normal" font-family='"Liberation Sans", sans-serif' fill="#2b2b2b" >1</text>
<line x1="475.3" y1="84.1" x2="479.8" y2="84.1" stroke="#303030" stroke-width="1.0" />
<text x="474.1" y="87.3" font-size="9.5" text-anchor="end" font-weight="normal" font-style="normal" font-family='"Liberation Sans", sans-serif' fill="#2b2b2b" >2</text>
<line x1="475.3" y1="53.8" x2="479.8" y2="53.8" stroke="#303030" stroke-width="1.0" />
<text x="474.1" y="57" font-size="9.5" text-anchor="end" font-weight="normal" font-style="normal" font-family='"Liberation Sans", sans-serif' fill="#2b2b2b" >3</text>
<line x1="475.3" y1="23.5" x2="479.8" y2="23.5" stroke="#303030" stroke-width="1.0" />
<text x="474.1" y="26.7" font-size="9.5" text-anchor="end" font-weight="normal" font-style="normal" font-family='"Liberation Sans", sans-serif' fill="#2b2b2b" >4</text>
<g clip-path="url(#cBr)">
<path d="M479.8,153.34 L483.12,176.29 L486.43,144.45 L489.75,167.91 L493.07,152.3 L496.38,169.88 L499.7,158.28 L503.02,172.89 L506.33,154.09 L509.65,169.76 L512.97,157.04 L516.28,169.02 L519.6,157.78 L522.91,166.41 L526.23,159.65 L529.55,164.15 L532.86,157.77 L536.18,164.22 L539.5,159.79 L542.81,163.98 L546.13,160.6 L549.45,163.43 L552.76,160.34 L556.08,163.28 L559.4,161 L562.71,163.12 L566.03,160.9 L569.35,162.98 L572.66,161.38 L575.98,162.59 L579.3,161.8 L582.61,162.77 L585.93,161.49 L589.24,162.5 L592.56,161.66 L595.88,162.52 L599.19,161.73 L602.51,162.45 L605.83,161.88 L609.14,162.49 L612.46,161.95 L615.78,162.43 L619.09,161.81 L622.41,162.42 L625.73,161.71 L629.04,162.46 L632.36,161.96 L635.68,162.2 L638.99,161.81 L642.31,162.25 L645.63,161.88 L648.94,162.38 L652.26,162 L655.57,162.16 L658.89,161.88" fill="none" stroke="#1f77b4" stroke-width="1.5" stroke-linejoin="round" />
<path d="M482.24,175.24 L485.56,150.89 L488.88,173.72 L492.19,154.46 L495.51,167.08 L498.82,153.29 L502.14,168.32 L505.46,159.02 L508.77,172.31 L512.09,157.45 L515.41,172.08 L518.72,161.74 L522.04,168.82 L525.36,161.72 L528.67,166.03 L531.99,159.51 L535.31,164.37 L538.62,159.72 L541.94,164.29 L545.26,159.1 L548.57,162.98 L551.89,160.16 L555.21,163.41 L558.52,160.91 L561.84,162.64 L565.15,161.34 L568.47,163.04 L571.79,161.46 L575.1,162.73 L578.42,161.59 L581.74,162.82 L585.05,161.63 L588.37,162.22 L591.69,161.8 L595,162.22 L598.32,162.08 L601.64,162.32 L604.95,161.72 L608.27,162.37 L611.59,161.94 L614.9,162.27 L618.22,161.76 L621.54,162.36 L624.85,161.85 L628.17,162.33 L631.48,161.86 L634.8,162.39 L638.12,161.83 L641.43,162.34 L644.75,161.96 L648.07,162.35 L651.38,161.94 L654.7,162.39 L658.02,161.98 L661.33,162.29" fill="none" stroke="#d62728" stroke-width="1.5" stroke-linejoin="round" />
<path d="M480.61,175.39 L483.93,155.08 L487.25,180.72 L490.56,145.61 L493.88,170.85 L497.2,149.89 L500.51,172.37 L503.83,161 L507.15,170.69 L510.46,154.94 L513.78,168.85 L517.1,158.37 L520.41,166.73 L523.73,158.02 L527.05,167.38 L530.36,158.4 L533.68,164.98 L536.99,158.41 L540.31,163.74 L543.63,160.48 L546.94,162.78 L550.26,159.71 L553.58,163.98 L556.89,160.44 L560.21,163.48 L563.53,161.09 L566.84,162.99 L570.16,161.48 L573.48,162.69 L576.79,161.5 L580.11,162.92 L583.43,161.51 L586.74,162.54 L590.06,161.77 L593.38,162.39 L596.69,161.61 L600.01,162.42 L603.32,161.83 L606.64,162.33 L609.96,161.94 L613.27,162.35 L616.59,161.77 L619.91,162.32 L623.22,161.87 L626.54,162.32 L629.86,161.85 L633.17,162.21 L636.49,161.89 L639.81,162.26 L643.12,161.81 L646.44,162.26 L649.76,161.84 L653.07,162.42 L656.39,161.91 L659.71,162.26" fill="none" stroke="#ff7f0e" stroke-width="1.5" stroke-linejoin="round" />
<path d="M481.43,148.13 L484.74,174.48 L488.06,154.31 L491.38,174.68 L494.69,145.1 L498.01,170.84 L501.33,153.74 L504.64,167.56 L507.96,153.49 L511.28,166.15 L514.59,156.79 L517.91,167.3 L521.23,155.39 L524.54,164.46 L527.86,153.44 L531.18,163.63 L534.49,158.43 L537.81,165.94 L541.13,160.25 L544.44,163.57 L547.76,161.18 L551.07,163.65 L554.39,160.03 L557.71,163.73 L561.02,161.35 L564.34,162.77 L567.66,161.44 L570.97,162.83 L574.29,161.52 L577.61,162.72 L580.92,161.52 L584.24,162.54 L587.56,161.66 L590.87,162.53 L594.19,161.76 L597.51,162.46 L600.82,161.66 L604.14,162.42 L607.46,161.83 L610.77,162.21 L614.09,161.81 L617.4,162.19 L620.72,161.97 L624.04,162.41 L627.35,161.8 L630.67,162.32 L633.99,162 L637.3,162.3 L640.62,161.93 L643.94,162.37 L647.25,161.72 L650.57,162.33 L653.89,161.94 L657.2,162.23 L660.52,161.9" fill="none" stroke="#2ca02c" stroke-width="1.5" stroke-linejoin="round" />
</g>
<rect x="479.8" y="144.4" width="180.9" height="36" fill="none" stroke="#303030" stroke-width="1.0"/>
<line x1="475.3" y1="177.1" x2="479.8" y2="177.1" stroke="#303030" stroke-width="1.0" />
<text x="474.1" y="180.3" font-size="9.5" text-anchor="end" font-weight="normal" font-style="normal" font-family='"Liberation Sans", sans-serif' fill="#2b2b2b" >−1</text>
<line x1="475.3" y1="162.1" x2="479.8" y2="162.1" stroke="#303030" stroke-width="1.0" />
<text x="474.1" y="165.3" font-size="9.5" text-anchor="end" font-weight="normal" font-style="normal" font-family='"Liberation Sans", sans-serif' fill="#2b2b2b" >0</text>
<line x1="475.3" y1="147.1" x2="479.8" y2="147.1" stroke="#303030" stroke-width="1.0" />
<text x="474.1" y="150.3" font-size="9.5" text-anchor="end" font-weight="normal" font-style="normal" font-family='"Liberation Sans", sans-serif' fill="#2b2b2b" >1</text>
<line x1="479.8" y1="144.4" x2="479.8" y2="148.4" stroke="#303030" stroke-width="1.1" />
<line x1="488.88" y1="144.4" x2="488.88" y2="147.4" stroke="#303030" stroke-width="0.9" />
<line x1="494.19" y1="144.4" x2="494.19" y2="147.4" stroke="#303030" stroke-width="0.9" />
<line x1="497.95" y1="144.4" x2="497.95" y2="147.4" stroke="#303030" stroke-width="0.9" />
<line x1="500.87" y1="144.4" x2="500.87" y2="147.4" stroke="#303030" stroke-width="0.9" />
<line x1="503.26" y1="144.4" x2="503.26" y2="147.4" stroke="#303030" stroke-width="0.9" />
<line x1="505.28" y1="144.4" x2="505.28" y2="147.4" stroke="#303030" stroke-width="0.9" />
<line x1="507.03" y1="144.4" x2="507.03" y2="147.4" stroke="#303030" stroke-width="0.9" />
<line x1="508.57" y1="144.4" x2="508.57" y2="147.4" stroke="#303030" stroke-width="0.9" />
<line x1="509.95" y1="144.4" x2="509.95" y2="147.4" stroke="#303030" stroke-width="0.9" />
<line x1="519.03" y1="144.4" x2="519.03" y2="147.4" stroke="#303030" stroke-width="0.9" />
<line x1="524.34" y1="144.4" x2="524.34" y2="147.4" stroke="#303030" stroke-width="0.9" />
<line x1="528.1" y1="144.4" x2="528.1" y2="147.4" stroke="#303030" stroke-width="0.9" />
<line x1="531.02" y1="144.4" x2="531.02" y2="147.4" stroke="#303030" stroke-width="0.9" />
<line x1="533.41" y1="144.4" x2="533.41" y2="147.4" stroke="#303030" stroke-width="0.9" />
<line x1="535.43" y1="144.4" x2="535.43" y2="147.4" stroke="#303030" stroke-width="0.9" />
<line x1="537.18" y1="144.4" x2="537.18" y2="147.4" stroke="#303030" stroke-width="0.9" />
<line x1="538.72" y1="144.4" x2="538.72" y2="147.4" stroke="#303030" stroke-width="0.9" />
<line x1="540.1" y1="144.4" x2="540.1" y2="148.4" stroke="#303030" stroke-width="1.1" />
<line x1="549.18" y1="144.4" x2="549.18" y2="147.4" stroke="#303030" stroke-width="0.9" />
<line x1="554.49" y1="144.4" x2="554.49" y2="147.4" stroke="#303030" stroke-width="0.9" />
<line x1="558.25" y1="144.4" x2="558.25" y2="147.4" stroke="#303030" stroke-width="0.9" />
<line x1="561.17" y1="144.4" x2="561.17" y2="147.4" stroke="#303030" stroke-width="0.9" />
<line x1="563.56" y1="144.4" x2="563.56" y2="147.4" stroke="#303030" stroke-width="0.9" />
<line x1="565.58" y1="144.4" x2="565.58" y2="147.4" stroke="#303030" stroke-width="0.9" />
<line x1="567.33" y1="144.4" x2="567.33" y2="147.4" stroke="#303030" stroke-width="0.9" />
<line x1="568.87" y1="144.4" x2="568.87" y2="147.4" stroke="#303030" stroke-width="0.9" />
<line x1="570.25" y1="144.4" x2="570.25" y2="147.4" stroke="#303030" stroke-width="0.9" />
<line x1="579.33" y1="144.4" x2="579.33" y2="147.4" stroke="#303030" stroke-width="0.9" />
<line x1="584.64" y1="144.4" x2="584.64" y2="147.4" stroke="#303030" stroke-width="0.9" />
<line x1="588.4" y1="144.4" x2="588.4" y2="147.4" stroke="#303030" stroke-width="0.9" />
<line x1="591.32" y1="144.4" x2="591.32" y2="147.4" stroke="#303030" stroke-width="0.9" />
<line x1="593.71" y1="144.4" x2="593.71" y2="147.4" stroke="#303030" stroke-width="0.9" />
<line x1="595.73" y1="144.4" x2="595.73" y2="147.4" stroke="#303030" stroke-width="0.9" />
<line x1="597.48" y1="144.4" x2="597.48" y2="147.4" stroke="#303030" stroke-width="0.9" />
<line x1="599.02" y1="144.4" x2="599.02" y2="147.4" stroke="#303030" stroke-width="0.9" />
<line x1="600.4" y1="144.4" x2="600.4" y2="148.4" stroke="#303030" stroke-width="1.1" />
<line x1="609.48" y1="144.4" x2="609.48" y2="147.4" stroke="#303030" stroke-width="0.9" />
<line x1="614.79" y1="144.4" x2="614.79" y2="147.4" stroke="#303030" stroke-width="0.9" />
<line x1="618.55" y1="144.4" x2="618.55" y2="147.4" stroke="#303030" stroke-width="0.9" />
<line x1="621.47" y1="144.4" x2="621.47" y2="147.4" stroke="#303030" stroke-width="0.9" />
<line x1="623.86" y1="144.4" x2="623.86" y2="147.4" stroke="#303030" stroke-width="0.9" />
<line x1="625.88" y1="144.4" x2="625.88" y2="147.4" stroke="#303030" stroke-width="0.9" />
<line x1="627.63" y1="144.4" x2="627.63" y2="147.4" stroke="#303030" stroke-width="0.9" />
<line x1="629.17" y1="144.4" x2="629.17" y2="147.4" stroke="#303030" stroke-width="0.9" />
<line x1="630.55" y1="144.4" x2="630.55" y2="147.4" stroke="#303030" stroke-width="0.9" />
<line x1="639.63" y1="144.4" x2="639.63" y2="147.4" stroke="#303030" stroke-width="0.9" />
<line x1="644.94" y1="144.4" x2="644.94" y2="147.4" stroke="#303030" stroke-width="0.9" />
<line x1="648.7" y1="144.4" x2="648.7" y2="147.4" stroke="#303030" stroke-width="0.9" />
<line x1="651.62" y1="144.4" x2="651.62" y2="147.4" stroke="#303030" stroke-width="0.9" />
<line x1="654.01" y1="144.4" x2="654.01" y2="147.4" stroke="#303030" stroke-width="0.9" />
<line x1="656.03" y1="144.4" x2="656.03" y2="147.4" stroke="#303030" stroke-width="0.9" />
<line x1="657.78" y1="144.4" x2="657.78" y2="147.4" stroke="#303030" stroke-width="0.9" />
<line x1="659.32" y1="144.4" x2="659.32" y2="147.4" stroke="#303030" stroke-width="0.9" />
<line x1="660.7" y1="144.4" x2="660.7" y2="148.4" stroke="#303030" stroke-width="1.1" />
<line x1="479.8" y1="180.4" x2="479.8" y2="184.4" stroke="#303030" stroke-width="1.1" />
<line x1="488.88" y1="180.4" x2="488.88" y2="183.4" stroke="#303030" stroke-width="0.9" />
<line x1="494.19" y1="180.4" x2="494.19" y2="183.4" stroke="#303030" stroke-width="0.9" />
<line x1="497.95" y1="180.4" x2="497.95" y2="183.4" stroke="#303030" stroke-width="0.9" />
<line x1="500.87" y1="180.4" x2="500.87" y2="183.4" stroke="#303030" stroke-width="0.9" />
<line x1="503.26" y1="180.4" x2="503.26" y2="183.4" stroke="#303030" stroke-width="0.9" />
<line x1="505.28" y1="180.4" x2="505.28" y2="183.4" stroke="#303030" stroke-width="0.9" />
<line x1="507.03" y1="180.4" x2="507.03" y2="183.4" stroke="#303030" stroke-width="0.9" />
<line x1="508.57" y1="180.4" x2="508.57" y2="183.4" stroke="#303030" stroke-width="0.9" />
<line x1="509.95" y1="180.4" x2="509.95" y2="183.4" stroke="#303030" stroke-width="0.9" />
<line x1="519.03" y1="180.4" x2="519.03" y2="183.4" stroke="#303030" stroke-width="0.9" />
<line x1="524.34" y1="180.4" x2="524.34" y2="183.4" stroke="#303030" stroke-width="0.9" />
<line x1="528.1" y1="180.4" x2="528.1" y2="183.4" stroke="#303030" stroke-width="0.9" />
<line x1="531.02" y1="180.4" x2="531.02" y2="183.4" stroke="#303030" stroke-width="0.9" />
<line x1="533.41" y1="180.4" x2="533.41" y2="183.4" stroke="#303030" stroke-width="0.9" />
<line x1="535.43" y1="180.4" x2="535.43" y2="183.4" stroke="#303030" stroke-width="0.9" />
<line x1="537.18" y1="180.4" x2="537.18" y2="183.4" stroke="#303030" stroke-width="0.9" />
<line x1="538.72" y1="180.4" x2="538.72" y2="183.4" stroke="#303030" stroke-width="0.9" />
<line x1="540.1" y1="180.4" x2="540.1" y2="184.4" stroke="#303030" stroke-width="1.1" />
<line x1="549.18" y1="180.4" x2="549.18" y2="183.4" stroke="#303030" stroke-width="0.9" />
<line x1="554.49" y1="180.4" x2="554.49" y2="183.4" stroke="#303030" stroke-width="0.9" />
<line x1="558.25" y1="180.4" x2="558.25" y2="183.4" stroke="#303030" stroke-width="0.9" />
<line x1="561.17" y1="180.4" x2="561.17" y2="183.4" stroke="#303030" stroke-width="0.9" />
<line x1="563.56" y1="180.4" x2="563.56" y2="183.4" stroke="#303030" stroke-width="0.9" />
<line x1="565.58" y1="180.4" x2="565.58" y2="183.4" stroke="#303030" stroke-width="0.9" />
<line x1="567.33" y1="180.4" x2="567.33" y2="183.4" stroke="#303030" stroke-width="0.9" />
<line x1="568.87" y1="180.4" x2="568.87" y2="183.4" stroke="#303030" stroke-width="0.9" />
<line x1="570.25" y1="180.4" x2="570.25" y2="183.4" stroke="#303030" stroke-width="0.9" />
<line x1="579.33" y1="180.4" x2="579.33" y2="183.4" stroke="#303030" stroke-width="0.9" />
<line x1="584.64" y1="180.4" x2="584.64" y2="183.4" stroke="#303030" stroke-width="0.9" />
<line x1="588.4" y1="180.4" x2="588.4" y2="183.4" stroke="#303030" stroke-width="0.9" />
<line x1="591.32" y1="180.4" x2="591.32" y2="183.4" stroke="#303030" stroke-width="0.9" />
<line x1="593.71" y1="180.4" x2="593.71" y2="183.4" stroke="#303030" stroke-width="0.9" />
<line x1="595.73" y1="180.4" x2="595.73" y2="183.4" stroke="#303030" stroke-width="0.9" />
<line x1="597.48" y1="180.4" x2="597.48" y2="183.4" stroke="#303030" stroke-width="0.9" />
<line x1="599.02" y1="180.4" x2="599.02" y2="183.4" stroke="#303030" stroke-width="0.9" />
<line x1="600.4" y1="180.4" x2="600.4" y2="184.4" stroke="#303030" stroke-width="1.1" />
<line x1="609.48" y1="180.4" x2="609.48" y2="183.4" stroke="#303030" stroke-width="0.9" />
<line x1="614.79" y1="180.4" x2="614.79" y2="183.4" stroke="#303030" stroke-width="0.9" />
<line x1="618.55" y1="180.4" x2="618.55" y2="183.4" stroke="#303030" stroke-width="0.9" />
<line x1="621.47" y1="180.4" x2="621.47" y2="183.4" stroke="#303030" stroke-width="0.9" />
<line x1="623.86" y1="180.4" x2="623.86" y2="183.4" stroke="#303030" stroke-width="0.9" />
<line x1="625.88" y1="180.4" x2="625.88" y2="183.4" stroke="#303030" stroke-width="0.9" />
<line x1="627.63" y1="180.4" x2="627.63" y2="183.4" stroke="#303030" stroke-width="0.9" />
<line x1="629.17" y1="180.4" x2="629.17" y2="183.4" stroke="#303030" stroke-width="0.9" />
<line x1="630.55" y1="180.4" x2="630.55" y2="183.4" stroke="#303030" stroke-width="0.9" />
<line x1="639.63" y1="180.4" x2="639.63" y2="183.4" stroke="#303030" stroke-width="0.9" />
<line x1="644.94" y1="180.4" x2="644.94" y2="183.4" stroke="#303030" stroke-width="0.9" />
<line x1="648.7" y1="180.4" x2="648.7" y2="183.4" stroke="#303030" stroke-width="0.9" />
<line x1="651.62" y1="180.4" x2="651.62" y2="183.4" stroke="#303030" stroke-width="0.9" />
<line x1="654.01" y1="180.4" x2="654.01" y2="183.4" stroke="#303030" stroke-width="0.9" />
<line x1="656.03" y1="180.4" x2="656.03" y2="183.4" stroke="#303030" stroke-width="0.9" />
<line x1="657.78" y1="180.4" x2="657.78" y2="183.4" stroke="#303030" stroke-width="0.9" />
<line x1="659.32" y1="180.4" x2="659.32" y2="183.4" stroke="#303030" stroke-width="0.9" />
<line x1="660.7" y1="180.4" x2="660.7" y2="184.4" stroke="#303030" stroke-width="1.1" />
<text x="479.8" y="192.6" font-family='"Liberation Sans", sans-serif' fill="#2b2b2b" text-anchor="middle"><tspan font-size="8.7">10</tspan><tspan font-size="5.92" dy="-3.1">−2</tspan></text>
<text x="540.1" y="192.6" font-family='"Liberation Sans", sans-serif' fill="#2b2b2b" text-anchor="middle"><tspan font-size="8.7">10</tspan><tspan font-size="5.92" dy="-3.1">0</tspan></text>
<text x="600.4" y="192.6" font-family='"Liberation Sans", sans-serif' fill="#2b2b2b" text-anchor="middle"><tspan font-size="8.7">10</tspan><tspan font-size="5.92" dy="-3.1">2</tspan></text>
<text x="660.7" y="192.6" font-family='"Liberation Sans", sans-serif' fill="#2b2b2b" text-anchor="middle"><tspan font-size="8.7">10</tspan><tspan font-size="5.92" dy="-3.1">4</tspan></text>
<text x="570.8" y="204.3" font-size="11.8" text-anchor="middle" font-weight="normal" font-style="normal" font-family='"Liberation Sans", sans-serif' fill="#2b2b2b" textLength="31" lengthAdjust="spacingAndGlyphs"><tspan font-style="italic">τ</tspan> (<tspan font-style="italic">μ</tspan>s)</text>
<text x="450" y="74.5" font-size="11" text-anchor="middle" font-weight="normal" font-style="normal" font-family='"Liberation Sans", sans-serif' fill="#2b2b2b" transform="rotate(-90 450 74.5)" dy="0">G-1</text>
<text x="450" y="161.3" font-size="11.3" text-anchor="middle" font-weight="normal" font-style="normal" font-family='"Liberation Sans", sans-serif' fill="#2b2b2b" transform="rotate(-90 450 161.3)" textLength="50.5" lengthAdjust="spacingAndGlyphs">Residuals</text>
<text x="640.8" y="26.6" font-size="24.8" text-anchor="start" font-weight="bold" font-style="normal" font-family='"Liberation Sans", sans-serif' fill="#000" style="stroke:#000;stroke-width:1.0px">B</text>
<text x="598.5" y="30" font-size="8.2" text-anchor="middle" font-weight="normal" font-style="normal" font-family='"Liberation Sans", sans-serif' fill="#2b2b2b" textLength="63.5" lengthAdjust="spacingAndGlyphs">Mean Irradiance</text>
<text x="598.5" y="39.5" font-size="8.2" text-anchor="middle" font-family='"Liberation Sans", sans-serif' fill="#2b2b2b" textLength="37" lengthAdjust="spacingAndGlyphs">[<tspan font-style="italic">kW/cm</tspan><tspan font-size="6" dy="-3">2</tspan><tspan dy="3">]</tspan></text>
<line x1="580.5" y1="48.8" x2="597.8" y2="48.8" stroke="#1f77b4" stroke-width="1.6" />
<text x="603.3" y="52" font-size="9" text-anchor="start" font-weight="normal" font-style="normal" font-family='"Liberation Sans", sans-serif' fill="#2b2b2b" >10.6</text>
<line x1="580.5" y1="60.4" x2="597.8" y2="60.4" stroke="#ff7f0e" stroke-width="1.6" />
<text x="603.3" y="63.6" font-size="9" text-anchor="start" font-weight="normal" font-style="normal" font-family='"Liberation Sans", sans-serif' fill="#2b2b2b" >15.6</text>
<line x1="580.5" y1="71.9" x2="597.8" y2="71.9" stroke="#2ca02c" stroke-width="1.6" />
<text x="603.3" y="75.1" font-size="9" text-anchor="start" font-weight="normal" font-style="normal" font-family='"Liberation Sans", sans-serif' fill="#2b2b2b" >22.3</text>
<line x1="580.5" y1="83.7" x2="597.8" y2="83.7" stroke="#d62728" stroke-width="1.6" />
<text x="603.3" y="86.9" font-size="9" text-anchor="start" font-weight="normal" font-style="normal" font-family='"Liberation Sans", sans-serif' fill="#2b2b2b" >33.5</text>
<g clip-path="url(#cC)">
<path d="M38.44,215.07 L39.29,215.07 L40.15,215.07 L41,215.07 L41.86,215.21 L42.71,215.5 L43.57,215.8 L44.42,216.1 L45.28,216.4 L46.13,216.71 L46.99,217.01 L47.84,217.33 L48.7,217.64 L49.55,217.97 L50.41,218.3 L51.26,218.63 L52.12,218.97 L52.97,219.33 L53.83,219.69 L54.68,220.05 L55.54,220.43 L56.39,220.82 L57.25,221.22 L58.1,221.63 L58.96,222.05 L59.81,222.48 L60.66,222.92 L61.52,223.37 L62.37,223.84 L63.23,224.31 L64.08,224.8 L64.94,225.3 L65.79,225.81 L66.65,226.33 L67.5,226.86 L68.36,227.4 L69.21,227.96 L70.07,228.53 L70.92,229.11 L71.78,229.7 L72.63,230.3 L73.49,230.92 L74.34,231.54 L75.2,232.18 L76.05,232.82 L76.91,233.48 L77.76,234.14 L78.62,234.82 L79.47,235.5 L80.32,236.2 L81.18,236.9 L82.03,237.62 L82.89,238.35 L83.74,239.09 L84.6,239.84 L85.45,240.61 L86.31,241.39 L87.16,242.18 L88.02,242.99 L88.87,243.82 L89.73,244.65 L90.58,245.51 L91.44,246.38 L92.29,247.26 L93.15,248.16 L94,249.08 L94.86,250 L95.71,250.94 L96.57,251.89 L97.42,252.85 L98.28,253.82 L99.13,254.79 L99.99,255.77 L100.84,256.75 L101.69,257.73 L102.55,258.72 L103.4,259.69 L104.26,260.67 L105.11,261.63 L105.97,262.59 L106.82,263.54 L107.68,264.47 L108.53,265.39 L109.39,266.3 L110.24,267.19 L111.1,268.06 L111.95,268.91 L112.81,269.75 L113.66,270.56 L114.52,271.35 L115.37,272.13 L116.23,272.87 L117.08,273.6 L117.94,274.3 L118.79,274.98 L119.65,275.63 L120.5,276.26 L121.36,276.87 L122.21,277.45 L123.06,278.01 L123.92,278.55 L124.77,279.07 L125.63,279.57 L126.48,280.05 L127.34,280.51 L128.19,280.95 L129.05,281.37 L129.9,281.78 L130.76,282.17 L131.61,282.55 L132.47,282.91 L133.32,283.26 L134.18,283.59 L135.03,283.91 L135.89,284.22 L136.74,284.52 L137.6,284.81 L138.45,285.09 L139.31,285.35 L140.16,285.61 L141.02,285.86 L141.87,286.1 L142.72,286.34 L143.58,286.57 L144.43,286.79 L145.29,287 L146.14,287.21 L147,287.42 L147.85,287.62 L148.71,287.82 L149.56,288.02 L150.42,288.2 L151.27,288.39 L152.13,288.57 L152.98,288.74 L153.84,288.91 L154.69,289.08 L155.55,289.24 L156.4,289.4 L157.26,289.55 L158.11,289.7 L158.97,289.84 L159.82,289.98 L160.68,290.12 L161.53,290.25 L162.39,290.37 L163.24,290.5 L164.09,290.61 L164.95,290.73 L165.8,290.84 L166.66,290.94 L167.51,291.04 L168.37,291.14 L169.22,291.23 L170.08,291.32 L170.93,291.4 L171.79,291.48 L172.64,291.55 L173.5,291.63 L174.35,291.69 L175.21,291.76 L176.06,291.82 L176.92,291.87 L177.77,291.93 L178.63,291.98 L179.48,292.03 L180.34,292.07 L181.19,292.11 L182.05,292.15 L182.9,292.19 L183.76,292.22 L184.61,292.25 L185.46,292.28 L186.32,292.31 L187.17,292.33 L188.03,292.35 L188.88,292.37 L189.74,292.39 L190.59,292.41 L191.45,292.43 L192.3,292.44 L193.16,292.46 L194.01,292.47 L194.87,292.48 L195.72,292.49 L196.58,292.5 L197.43,292.51 L198.29,292.52 L199.14,292.53 L200,292.53 L200.85,292.54 L201.71,292.55 L202.56,292.56 L203.42,292.56 L204.27,292.57 L205.12,292.58 L205.98,292.58 L206.83,292.59 L207.69,292.6 L208.54,292.6 L209.4,292.61 L210.25,292.61 L211.11,292.62 L211.96,292.62 L212.82,292.63 L213.67,292.64 L214.53,292.64 L215.38,292.65 L216.24,292.65 L217.09,292.66 L217.95,292.66 L218.8,292.67 L219.66,292.67 L220.51,292.68 L221.37,292.68 L222.22,292.69 L223.08,292.69 L223.93,292.7 L224.79,292.7 L225.64,292.7" fill="none" stroke="#1f77b4" stroke-width="1.6" stroke-linejoin="round" />
<circle cx="47.33" cy="216.25" r="1.75" fill="#1f77b4"/>
<circle cx="53.93" cy="219.2" r="1.75" fill="#1f77b4"/>
<circle cx="60.53" cy="222.18" r="1.75" fill="#1f77b4"/>
<circle cx="67.13" cy="226.27" r="1.75" fill="#1f77b4"/>
<circle cx="73.73" cy="230.09" r="1.75" fill="#1f77b4"/>
<circle cx="80.33" cy="235.92" r="1.75" fill="#1f77b4"/>
<circle cx="86.92" cy="241.63" r="1.75" fill="#1f77b4"/>
<circle cx="93.52" cy="248.09" r="1.75" fill="#1f77b4"/>
<circle cx="100.12" cy="255.31" r="1.75" fill="#1f77b4"/>
<circle cx="106.72" cy="263.3" r="1.75" fill="#1f77b4"/>
<circle cx="113.32" cy="269.01" r="1.75" fill="#1f77b4"/>
<circle cx="119.92" cy="275.67" r="1.75" fill="#1f77b4"/>
<circle cx="126.52" cy="279.79" r="1.75" fill="#1f77b4"/>
<circle cx="133.12" cy="282.92" r="1.75" fill="#1f77b4"/>
<circle cx="139.72" cy="285.27" r="1.75" fill="#1f77b4"/>
<circle cx="146.31" cy="286.53" r="1.75" fill="#1f77b4"/>
<circle cx="152.91" cy="288.2" r="1.75" fill="#1f77b4"/>
<circle cx="159.51" cy="289.85" r="1.75" fill="#1f77b4"/>
<circle cx="166.11" cy="290.69" r="1.75" fill="#1f77b4"/>
<circle cx="172.71" cy="291.26" r="1.75" fill="#1f77b4"/>
<circle cx="179.31" cy="290.86" r="1.75" fill="#1f77b4"/>
<circle cx="185.91" cy="292.16" r="1.75" fill="#1f77b4"/>
<circle cx="192.51" cy="292.63" r="1.75" fill="#1f77b4"/>
<circle cx="199.1" cy="292.63" r="1.75" fill="#1f77b4"/>
<circle cx="205.7" cy="292.3" r="1.75" fill="#1f77b4"/>
<circle cx="212.3" cy="291.45" r="1.75" fill="#1f77b4"/>
<circle cx="218.9" cy="292.74" r="1.75" fill="#1f77b4"/>
<circle cx="225.5" cy="292.23" r="1.75" fill="#1f77b4"/>
<path d="M38.44,214.84 L39.29,214.84 L40.15,214.84 L41,214.84 L41.86,215.02 L42.71,215.41 L43.57,215.8 L44.42,216.2 L45.28,216.59 L46.13,217 L46.99,217.41 L47.84,217.82 L48.7,218.24 L49.55,218.68 L50.41,219.12 L51.26,219.57 L52.12,220.03 L52.97,220.51 L53.83,220.99 L54.68,221.5 L55.54,222.01 L56.39,222.55 L57.25,223.1 L58.1,223.67 L58.96,224.25 L59.81,224.86 L60.66,225.48 L61.52,226.12 L62.37,226.78 L63.23,227.47 L64.08,228.17 L64.94,228.89 L65.79,229.64 L66.65,230.41 L67.5,231.21 L68.36,232.03 L69.21,232.87 L70.07,233.73 L70.92,234.61 L71.78,235.52 L72.63,236.45 L73.49,237.39 L74.34,238.36 L75.2,239.34 L76.05,240.34 L76.91,241.36 L77.76,242.39 L78.62,243.44 L79.47,244.51 L80.32,245.59 L81.18,246.69 L82.03,247.79 L82.89,248.91 L83.74,250.05 L84.6,251.19 L85.45,252.34 L86.31,253.51 L87.16,254.68 L88.02,255.86 L88.87,257.05 L89.73,258.25 L90.58,259.45 L91.44,260.66 L92.29,261.88 L93.15,263.1 L94,264.32 L94.86,265.55 L95.71,266.78 L96.57,268 L97.42,269.23 L98.28,270.45 L99.13,271.66 L99.99,272.86 L100.84,274.06 L101.69,275.24 L102.55,276.41 L103.4,277.57 L104.26,278.72 L105.11,279.85 L105.97,280.97 L106.82,282.06 L107.68,283.15 L108.53,284.21 L109.39,285.26 L110.24,286.28 L111.1,287.29 L111.95,288.27 L112.81,289.24 L113.66,290.18 L114.52,291.09 L115.37,291.99 L116.23,292.86 L117.08,293.71 L117.94,294.53 L118.79,295.33 L119.65,296.1 L120.5,296.84 L121.36,297.56 L122.21,298.26 L123.06,298.93 L123.92,299.57 L124.77,300.19 L125.63,300.79 L126.48,301.37 L127.34,301.93 L128.19,302.47 L129.05,302.98 L129.9,303.48 L130.76,303.96 L131.61,304.42 L132.47,304.86 L133.32,305.29 L134.18,305.7 L135.03,306.1 L135.89,306.48 L136.74,306.85 L137.6,307.2 L138.45,307.54 L139.31,307.87 L140.16,308.18 L141.02,308.48 L141.87,308.77 L142.72,309.05 L143.58,309.32 L144.43,309.58 L145.29,309.82 L146.14,310.06 L147,310.29 L147.85,310.51 L148.71,310.72 L149.56,310.93 L150.42,311.12 L151.27,311.31 L152.13,311.49 L152.98,311.66 L153.84,311.82 L154.69,311.98 L155.55,312.13 L156.4,312.28 L157.26,312.42 L158.11,312.55 L158.97,312.68 L159.82,312.8 L160.68,312.91 L161.53,313.03 L162.39,313.13 L163.24,313.23 L164.09,313.33 L164.95,313.43 L165.8,313.52 L166.66,313.61 L167.51,313.69 L168.37,313.77 L169.22,313.85 L170.08,313.93 L170.93,314.01 L171.79,314.08 L172.64,314.15 L173.5,314.23 L174.35,314.3 L175.21,314.36 L176.06,314.43 L176.92,314.5 L177.77,314.56 L178.63,314.62 L179.48,314.69 L180.34,314.75 L181.19,314.81 L182.05,314.86 L182.9,314.92 L183.76,314.97 L184.61,315.03 L185.46,315.08 L186.32,315.13 L187.17,315.18 L188.03,315.23 L188.88,315.28 L189.74,315.32 L190.59,315.37 L191.45,315.41 L192.3,315.45 L193.16,315.49 L194.01,315.53 L194.87,315.57 L195.72,315.6 L196.58,315.64 L197.43,315.67 L198.29,315.71 L199.14,315.74 L200,315.77 L200.85,315.8 L201.71,315.83 L202.56,315.85 L203.42,315.88 L204.27,315.9 L205.12,315.93 L205.98,315.95 L206.83,315.97 L207.69,315.99 L208.54,316.01 L209.4,316.03 L210.25,316.05 L211.11,316.07 L211.96,316.09 L212.82,316.1 L213.67,316.12 L214.53,316.13 L215.38,316.15 L216.24,316.16 L217.09,316.17 L217.95,316.19 L218.8,316.2 L219.66,316.21 L220.51,316.23 L221.37,316.24 L222.22,316.25 L223.08,316.26 L223.93,316.27 L224.79,316.28 L225.64,316.3" fill="none" stroke="#ff7f0e" stroke-width="1.6" stroke-linejoin="round" />
<circle cx="47.33" cy="215.91" r="1.75" fill="#ff7f0e"/>
<circle cx="53.93" cy="220.84" r="1.75" fill="#ff7f0e"/>
<circle cx="60.53" cy="224.23" r="1.75" fill="#ff7f0e"/>
<circle cx="67.13" cy="229.81" r="1.75" fill="#ff7f0e"/>
<circle cx="73.73" cy="236.94" r="1.75" fill="#ff7f0e"/>
<circle cx="80.33" cy="245.83" r="1.75" fill="#ff7f0e"/>
<circle cx="86.92" cy="253.77" r="1.75" fill="#ff7f0e"/>
<circle cx="93.52" cy="263.37" r="1.75" fill="#ff7f0e"/>
<circle cx="100.12" cy="273.53" r="1.75" fill="#ff7f0e"/>
<circle cx="106.72" cy="282.33" r="1.75" fill="#ff7f0e"/>
<circle cx="113.32" cy="289.35" r="1.75" fill="#ff7f0e"/>
<circle cx="119.92" cy="295.82" r="1.75" fill="#ff7f0e"/>
<circle cx="126.52" cy="300.36" r="1.75" fill="#ff7f0e"/>
<circle cx="133.12" cy="304.44" r="1.75" fill="#ff7f0e"/>
<circle cx="139.72" cy="307.83" r="1.75" fill="#ff7f0e"/>
<circle cx="146.31" cy="309.91" r="1.75" fill="#ff7f0e"/>
<circle cx="152.91" cy="311.3" r="1.75" fill="#ff7f0e"/>
<circle cx="159.51" cy="312.85" r="1.75" fill="#ff7f0e"/>
<circle cx="166.11" cy="312.76" r="1.75" fill="#ff7f0e"/>
<circle cx="172.71" cy="313.73" r="1.75" fill="#ff7f0e"/>
<circle cx="179.31" cy="314.64" r="1.75" fill="#ff7f0e"/>
<circle cx="185.91" cy="315" r="1.75" fill="#ff7f0e"/>
<circle cx="192.51" cy="315.6" r="1.75" fill="#ff7f0e"/>
<circle cx="199.1" cy="315.54" r="1.75" fill="#ff7f0e"/>
<circle cx="205.7" cy="315.39" r="1.75" fill="#ff7f0e"/>
<circle cx="212.3" cy="315.87" r="1.75" fill="#ff7f0e"/>
<circle cx="218.9" cy="315.3" r="1.75" fill="#ff7f0e"/>
<circle cx="225.5" cy="315.07" r="1.75" fill="#ff7f0e"/>
<path d="M38.44,214.75 L39.29,214.75 L40.15,214.75 L41,214.75 L41.86,214.95 L42.71,215.41 L43.57,215.87 L44.42,216.33 L45.28,216.79 L46.13,217.26 L46.99,217.74 L47.84,218.23 L48.7,218.72 L49.55,219.22 L50.41,219.73 L51.26,220.26 L52.12,220.79 L52.97,221.35 L53.83,221.91 L54.68,222.5 L55.54,223.1 L56.39,223.72 L57.25,224.36 L58.1,225.01 L58.96,225.69 L59.81,226.39 L60.66,227.11 L61.52,227.86 L62.37,228.62 L63.23,229.41 L64.08,230.23 L64.94,231.07 L65.79,231.93 L66.65,232.83 L67.5,233.75 L68.36,234.7 L69.21,235.67 L70.07,236.67 L70.92,237.7 L71.78,238.75 L72.63,239.83 L73.49,240.93 L74.34,242.05 L75.2,243.2 L76.05,244.37 L76.91,245.56 L77.76,246.77 L78.62,248 L79.47,249.26 L80.32,250.53 L81.18,251.82 L82.03,253.12 L82.89,254.44 L83.74,255.78 L84.6,257.13 L85.45,258.49 L86.31,259.86 L87.16,261.23 L88.02,262.62 L88.87,264.01 L89.73,265.41 L90.58,266.82 L91.44,268.22 L92.29,269.63 L93.15,271.04 L94,272.45 L94.86,273.86 L95.71,275.27 L96.57,276.67 L97.42,278.06 L98.28,279.44 L99.13,280.82 L99.99,282.18 L100.84,283.53 L101.69,284.86 L102.55,286.18 L103.4,287.49 L104.26,288.77 L105.11,290.04 L105.97,291.28 L106.82,292.51 L107.68,293.71 L108.53,294.89 L109.39,296.05 L110.24,297.18 L111.1,298.29 L111.95,299.36 L112.81,300.42 L113.66,301.44 L114.52,302.43 L115.37,303.39 L116.23,304.33 L117.08,305.23 L117.94,306.11 L118.79,306.95 L119.65,307.76 L120.5,308.54 L121.36,309.3 L122.21,310.02 L123.06,310.71 L123.92,311.38 L124.77,312.01 L125.63,312.62 L126.48,313.21 L127.34,313.77 L128.19,314.3 L129.05,314.81 L129.9,315.3 L130.76,315.76 L131.61,316.2 L132.47,316.62 L133.32,317.02 L134.18,317.4 L135.03,317.77 L135.89,318.11 L136.74,318.44 L137.6,318.75 L138.45,319.04 L139.31,319.32 L140.16,319.59 L141.02,319.84 L141.87,320.08 L142.72,320.31 L143.58,320.53 L144.43,320.74 L145.29,320.94 L146.14,321.14 L147,321.32 L147.85,321.5 L148.71,321.67 L149.56,321.84 L150.42,322 L151.27,322.15 L152.13,322.3 L152.98,322.44 L153.84,322.58 L154.69,322.71 L155.55,322.84 L156.4,322.97 L157.26,323.09 L158.11,323.21 L158.97,323.33 L159.82,323.45 L160.68,323.56 L161.53,323.67 L162.39,323.78 L163.24,323.89 L164.09,323.99 L164.95,324.09 L165.8,324.19 L166.66,324.29 L167.51,324.38 L168.37,324.47 L169.22,324.56 L170.08,324.65 L170.93,324.73 L171.79,324.81 L172.64,324.89 L173.5,324.97 L174.35,325.04 L175.21,325.11 L176.06,325.18 L176.92,325.25 L177.77,325.32 L178.63,325.38 L179.48,325.44 L180.34,325.5 L181.19,325.55 L182.05,325.61 L182.9,325.66 L183.76,325.71 L184.61,325.76 L185.46,325.81 L186.32,325.85 L187.17,325.9 L188.03,325.94 L188.88,325.98 L189.74,326.02 L190.59,326.06 L191.45,326.09 L192.3,326.13 L193.16,326.16 L194.01,326.19 L194.87,326.22 L195.72,326.25 L196.58,326.28 L197.43,326.31 L198.29,326.34 L199.14,326.36 L200,326.39 L200.85,326.41 L201.71,326.44 L202.56,326.46 L203.42,326.48 L204.27,326.5 L205.12,326.52 L205.98,326.54 L206.83,326.56 L207.69,326.58 L208.54,326.6 L209.4,326.61 L210.25,326.63 L211.11,326.65 L211.96,326.66 L212.82,326.68 L213.67,326.69 L214.53,326.71 L215.38,326.72 L216.24,326.73 L217.09,326.75 L217.95,326.76 L218.8,326.77 L219.66,326.79 L220.51,326.8 L221.37,326.81 L222.22,326.82 L223.08,326.83 L223.93,326.85 L224.79,326.86 L225.64,326.87" fill="none" stroke="#2ca02c" stroke-width="1.6" stroke-linejoin="round" />
<circle cx="47.33" cy="217.83" r="1.75" fill="#2ca02c"/>
<circle cx="53.93" cy="221.56" r="1.75" fill="#2ca02c"/>
<circle cx="60.53" cy="226.75" r="1.75" fill="#2ca02c"/>
<circle cx="67.13" cy="232.09" r="1.75" fill="#2ca02c"/>
<circle cx="73.73" cy="240.66" r="1.75" fill="#2ca02c"/>
<circle cx="80.33" cy="249.83" r="1.75" fill="#2ca02c"/>
<circle cx="86.92" cy="260.02" r="1.75" fill="#2ca02c"/>
<circle cx="93.52" cy="270.14" r="1.75" fill="#2ca02c"/>
<circle cx="100.12" cy="281.83" r="1.75" fill="#2ca02c"/>
<circle cx="106.72" cy="292.41" r="1.75" fill="#2ca02c"/>
<circle cx="113.32" cy="300.82" r="1.75" fill="#2ca02c"/>
<circle cx="119.92" cy="307.32" r="1.75" fill="#2ca02c"/>
<circle cx="126.52" cy="312.82" r="1.75" fill="#2ca02c"/>
<circle cx="133.12" cy="316.91" r="1.75" fill="#2ca02c"/>
<circle cx="139.72" cy="317.67" r="1.75" fill="#2ca02c"/>
<circle cx="146.31" cy="320.71" r="1.75" fill="#2ca02c"/>
<circle cx="152.91" cy="322.3" r="1.75" fill="#2ca02c"/>
<circle cx="159.51" cy="323.35" r="1.75" fill="#2ca02c"/>
<circle cx="166.11" cy="324.68" r="1.75" fill="#2ca02c"/>
<circle cx="172.71" cy="325.07" r="1.75" fill="#2ca02c"/>
<circle cx="179.31" cy="325.18" r="1.75" fill="#2ca02c"/>
<circle cx="185.91" cy="325.58" r="1.75" fill="#2ca02c"/>
<circle cx="192.51" cy="326.13" r="1.75" fill="#2ca02c"/>
<circle cx="199.1" cy="325.69" r="1.75" fill="#2ca02c"/>
<circle cx="205.7" cy="326.11" r="1.75" fill="#2ca02c"/>
<circle cx="212.3" cy="326.72" r="1.75" fill="#2ca02c"/>
<circle cx="218.9" cy="327.35" r="1.75" fill="#2ca02c"/>
<circle cx="225.5" cy="326.39" r="1.75" fill="#2ca02c"/>
<path d="M38.44,214.81 L39.29,214.81 L40.15,214.81 L41,214.81 L41.86,215.05 L42.71,215.6 L43.57,216.15 L44.42,216.7 L45.28,217.25 L46.13,217.81 L46.99,218.38 L47.84,218.95 L48.7,219.53 L49.55,220.12 L50.41,220.72 L51.26,221.33 L52.12,221.95 L52.97,222.59 L53.83,223.24 L54.68,223.9 L55.54,224.59 L56.39,225.28 L57.25,226 L58.1,226.74 L58.96,227.5 L59.81,228.28 L60.66,229.08 L61.52,229.9 L62.37,230.76 L63.23,231.63 L64.08,232.54 L64.94,233.47 L65.79,234.43 L66.65,235.43 L67.5,236.45 L68.36,237.51 L69.21,238.6 L70.07,239.72 L70.92,240.87 L71.78,242.05 L72.63,243.25 L73.49,244.49 L74.34,245.75 L75.2,247.04 L76.05,248.36 L76.91,249.71 L77.76,251.08 L78.62,252.47 L79.47,253.89 L80.32,255.33 L81.18,256.8 L82.03,258.29 L82.89,259.79 L83.74,261.31 L84.6,262.85 L85.45,264.4 L86.31,265.96 L87.16,267.54 L88.02,269.12 L88.87,270.71 L89.73,272.3 L90.58,273.89 L91.44,275.48 L92.29,277.07 L93.15,278.66 L94,280.23 L94.86,281.8 L95.71,283.35 L96.57,284.89 L97.42,286.41 L98.28,287.91 L99.13,289.39 L99.99,290.86 L100.84,292.3 L101.69,293.71 L102.55,295.1 L103.4,296.46 L104.26,297.79 L105.11,299.1 L105.97,300.38 L106.82,301.63 L107.68,302.84 L108.53,304.03 L109.39,305.19 L110.24,306.31 L111.1,307.41 L111.95,308.47 L112.81,309.5 L113.66,310.5 L114.52,311.47 L115.37,312.41 L116.23,313.32 L117.08,314.21 L117.94,315.06 L118.79,315.88 L119.65,316.68 L120.5,317.45 L121.36,318.19 L122.21,318.9 L123.06,319.59 L123.92,320.25 L124.77,320.89 L125.63,321.51 L126.48,322.1 L127.34,322.67 L128.19,323.21 L129.05,323.74 L129.9,324.24 L130.76,324.72 L131.61,325.18 L132.47,325.63 L133.32,326.05 L134.18,326.46 L135.03,326.85 L135.89,327.22 L136.74,327.58 L137.6,327.92 L138.45,328.24 L139.31,328.55 L140.16,328.85 L141.02,329.13 L141.87,329.4 L142.72,329.66 L143.58,329.91 L144.43,330.15 L145.29,330.37 L146.14,330.59 L147,330.8 L147.85,331 L148.71,331.19 L149.56,331.37 L150.42,331.54 L151.27,331.71 L152.13,331.87 L152.98,332.02 L153.84,332.17 L154.69,332.32 L155.55,332.46 L156.4,332.59 L157.26,332.72 L158.11,332.84 L158.97,332.97 L159.82,333.09 L160.68,333.2 L161.53,333.31 L162.39,333.42 L163.24,333.53 L164.09,333.64 L164.95,333.74 L165.8,333.83 L166.66,333.93 L167.51,334.02 L168.37,334.11 L169.22,334.19 L170.08,334.28 L170.93,334.36 L171.79,334.43 L172.64,334.51 L173.5,334.58 L174.35,334.65 L175.21,334.71 L176.06,334.78 L176.92,334.84 L177.77,334.89 L178.63,334.95 L179.48,335 L180.34,335.05 L181.19,335.1 L182.05,335.15 L182.9,335.2 L183.76,335.24 L184.61,335.28 L185.46,335.32 L186.32,335.36 L187.17,335.39 L188.03,335.43 L188.88,335.46 L189.74,335.49 L190.59,335.52 L191.45,335.55 L192.3,335.58 L193.16,335.61 L194.01,335.63 L194.87,335.66 L195.72,335.68 L196.58,335.7 L197.43,335.73 L198.29,335.75 L199.14,335.77 L200,335.79 L200.85,335.81 L201.71,335.83 L202.56,335.85 L203.42,335.87 L204.27,335.88 L205.12,335.9 L205.98,335.92 L206.83,335.93 L207.69,335.95 L208.54,335.97 L209.4,335.98 L210.25,336 L211.11,336.01 L211.96,336.03 L212.82,336.04 L213.67,336.06 L214.53,336.07 L215.38,336.09 L216.24,336.1 L217.09,336.11 L217.95,336.13 L218.8,336.14 L219.66,336.15 L220.51,336.17 L221.37,336.18 L222.22,336.19 L223.08,336.2 L223.93,336.22 L224.79,336.23 L225.64,336.24" fill="none" stroke="#d62728" stroke-width="1.6" stroke-linejoin="round" />
<circle cx="47.33" cy="218.18" r="1.75" fill="#d62728"/>
<circle cx="53.93" cy="223.02" r="1.75" fill="#d62728"/>
<circle cx="60.53" cy="229.22" r="1.75" fill="#d62728"/>
<circle cx="67.13" cy="235.58" r="1.75" fill="#d62728"/>
<circle cx="73.73" cy="245.18" r="1.75" fill="#d62728"/>
<circle cx="80.33" cy="254.45" r="1.75" fill="#d62728"/>
<circle cx="86.92" cy="266.6" r="1.75" fill="#d62728"/>
<circle cx="93.52" cy="278.85" r="1.75" fill="#d62728"/>
<circle cx="100.12" cy="291.08" r="1.75" fill="#d62728"/>
<circle cx="106.72" cy="301.6" r="1.75" fill="#d62728"/>
<circle cx="113.32" cy="308.95" r="1.75" fill="#d62728"/>
<circle cx="119.92" cy="316.07" r="1.75" fill="#d62728"/>
<circle cx="126.52" cy="321.89" r="1.75" fill="#d62728"/>
<circle cx="133.12" cy="325.22" r="1.75" fill="#d62728"/>
<circle cx="139.72" cy="327.53" r="1.75" fill="#d62728"/>
<circle cx="146.31" cy="330.75" r="1.75" fill="#d62728"/>
<circle cx="152.91" cy="331.86" r="1.75" fill="#d62728"/>
<circle cx="159.51" cy="332.89" r="1.75" fill="#d62728"/>
<circle cx="166.11" cy="333.23" r="1.75" fill="#d62728"/>
<circle cx="172.71" cy="334.63" r="1.75" fill="#d62728"/>
<circle cx="179.31" cy="334.47" r="1.75" fill="#d62728"/>
<circle cx="185.91" cy="335.49" r="1.75" fill="#d62728"/>
<circle cx="192.51" cy="334.73" r="1.75" fill="#d62728"/>
<circle cx="199.1" cy="334.94" r="1.75" fill="#d62728"/>
<circle cx="205.7" cy="335.61" r="1.75" fill="#d62728"/>
<circle cx="212.3" cy="335.28" r="1.75" fill="#d62728"/>
<circle cx="218.9" cy="336.08" r="1.75" fill="#d62728"/>
<circle cx="225.5" cy="335.97" r="1.75" fill="#d62728"/>
<path d="M38.44,214.68 L39.29,214.68 L40.15,214.68 L41,214.68 L41.86,215 L42.71,215.72 L43.57,216.44 L44.42,217.17 L45.28,217.9 L46.13,218.63 L46.99,219.38 L47.84,220.13 L48.7,220.88 L49.55,221.65 L50.41,222.44 L51.26,223.23 L52.12,224.04 L52.97,224.86 L53.83,225.7 L54.68,226.56 L55.54,227.44 L56.39,228.34 L57.25,229.26 L58.1,230.2 L58.96,231.17 L59.81,232.17 L60.66,233.19 L61.52,234.24 L62.37,235.32 L63.23,236.44 L64.08,237.58 L64.94,238.76 L65.79,239.98 L66.65,241.24 L67.5,242.53 L68.36,243.86 L69.21,245.23 L70.07,246.63 L70.92,248.06 L71.78,249.52 L72.63,251.02 L73.49,252.53 L74.34,254.08 L75.2,255.64 L76.05,257.23 L76.91,258.83 L77.76,260.45 L78.62,262.08 L79.47,263.73 L80.32,265.39 L81.18,267.06 L82.03,268.73 L82.89,270.41 L83.74,272.09 L84.6,273.77 L85.45,275.45 L86.31,277.13 L87.16,278.81 L88.02,280.47 L88.87,282.14 L89.73,283.79 L90.58,285.43 L91.44,287.07 L92.29,288.69 L93.15,290.3 L94,291.9 L94.86,293.49 L95.71,295.06 L96.57,296.61 L97.42,298.15 L98.28,299.66 L99.13,301.16 L99.99,302.63 L100.84,304.08 L101.69,305.5 L102.55,306.89 L103.4,308.26 L104.26,309.6 L105.11,310.91 L105.97,312.19 L106.82,313.43 L107.68,314.65 L108.53,315.84 L109.39,316.99 L110.24,318.11 L111.1,319.21 L111.95,320.27 L112.81,321.3 L113.66,322.3 L114.52,323.27 L115.37,324.22 L116.23,325.13 L117.08,326.02 L117.94,326.87 L118.79,327.7 L119.65,328.5 L120.5,329.28 L121.36,330.02 L122.21,330.74 L123.06,331.43 L123.92,332.1 L124.77,332.74 L125.63,333.36 L126.48,333.95 L127.34,334.52 L128.19,335.07 L129.05,335.59 L129.9,336.09 L130.76,336.57 L131.61,337.03 L132.47,337.47 L133.32,337.89 L134.18,338.29 L135.03,338.67 L135.89,339.04 L136.74,339.39 L137.6,339.72 L138.45,340.04 L139.31,340.34 L140.16,340.64 L141.02,340.91 L141.87,341.18 L142.72,341.44 L143.58,341.68 L144.43,341.92 L145.29,342.15 L146.14,342.37 L147,342.59 L147.85,342.79 L148.71,342.99 L149.56,343.19 L150.42,343.37 L151.27,343.56 L152.13,343.73 L152.98,343.9 L153.84,344.07 L154.69,344.23 L155.55,344.38 L156.4,344.53 L157.26,344.68 L158.11,344.83 L158.97,344.97 L159.82,345.1 L160.68,345.24 L161.53,345.37 L162.39,345.49 L163.24,345.61 L164.09,345.73 L164.95,345.85 L165.8,345.96 L166.66,346.06 L167.51,346.16 L168.37,346.26 L169.22,346.36 L170.08,346.44 L170.93,346.53 L171.79,346.61 L172.64,346.69 L173.5,346.76 L174.35,346.82 L175.21,346.89 L176.06,346.95 L176.92,347 L177.77,347.06 L178.63,347.11 L179.48,347.15 L180.34,347.2 L181.19,347.24 L182.05,347.27 L182.9,347.31 L183.76,347.34 L184.61,347.37 L185.46,347.4 L186.32,347.42 L187.17,347.44 L188.03,347.46 L188.88,347.48 L189.74,347.5 L190.59,347.52 L191.45,347.53 L192.3,347.54 L193.16,347.55 L194.01,347.56 L194.87,347.57 L195.72,347.58 L196.58,347.59 L197.43,347.6 L198.29,347.6 L199.14,347.61 L200,347.62 L200.85,347.62 L201.71,347.63 L202.56,347.63 L203.42,347.64 L204.27,347.65 L205.12,347.65 L205.98,347.66 L206.83,347.66 L207.69,347.67 L208.54,347.68 L209.4,347.68 L210.25,347.69 L211.11,347.69 L211.96,347.7 L212.82,347.7 L213.67,347.71 L214.53,347.71 L215.38,347.72 L216.24,347.72 L217.09,347.73 L217.95,347.73 L218.8,347.74 L219.66,347.74 L220.51,347.75 L221.37,347.75 L222.22,347.76 L223.08,347.76 L223.93,347.77 L224.79,347.77 L225.64,347.78" fill="none" stroke="#9467bd" stroke-width="1.6" stroke-linejoin="round" />
<circle cx="47.33" cy="218.81" r="1.75" fill="#9467bd"/>
<circle cx="53.93" cy="225.44" r="1.75" fill="#9467bd"/>
<circle cx="60.53" cy="232.45" r="1.75" fill="#9467bd"/>
<circle cx="67.13" cy="242.01" r="1.75" fill="#9467bd"/>
<circle cx="73.73" cy="252.25" r="1.75" fill="#9467bd"/>
<circle cx="80.33" cy="264.77" r="1.75" fill="#9467bd"/>
<circle cx="86.92" cy="278.55" r="1.75" fill="#9467bd"/>
<circle cx="93.52" cy="291.73" r="1.75" fill="#9467bd"/>
<circle cx="100.12" cy="303.46" r="1.75" fill="#9467bd"/>
<circle cx="106.72" cy="312.92" r="1.75" fill="#9467bd"/>
<circle cx="113.32" cy="321.61" r="1.75" fill="#9467bd"/>
<circle cx="119.92" cy="329.12" r="1.75" fill="#9467bd"/>
<circle cx="126.52" cy="333.51" r="1.75" fill="#9467bd"/>
<circle cx="133.12" cy="336.9" r="1.75" fill="#9467bd"/>
<circle cx="139.72" cy="340.14" r="1.75" fill="#9467bd"/>
<circle cx="146.31" cy="342.24" r="1.75" fill="#9467bd"/>
<circle cx="152.91" cy="343.07" r="1.75" fill="#9467bd"/>
<circle cx="159.51" cy="343.83" r="1.75" fill="#9467bd"/>
<circle cx="166.11" cy="344.88" r="1.75" fill="#9467bd"/>
<circle cx="172.71" cy="346.62" r="1.75" fill="#9467bd"/>
<circle cx="179.31" cy="346.36" r="1.75" fill="#9467bd"/>
<circle cx="185.91" cy="346.94" r="1.75" fill="#9467bd"/>
<circle cx="192.51" cy="347.25" r="1.75" fill="#9467bd"/>
<circle cx="199.1" cy="347.52" r="1.75" fill="#9467bd"/>
<circle cx="205.7" cy="347.09" r="1.75" fill="#9467bd"/>
<circle cx="212.3" cy="347.55" r="1.75" fill="#9467bd"/>
<circle cx="218.9" cy="346.89" r="1.75" fill="#9467bd"/>
<circle cx="225.5" cy="347.2" r="1.75" fill="#9467bd"/>
</g>
<rect x="41.5" y="211" width="181.8" height="142" fill="none" stroke="#303030" stroke-width="1.0"/>
<line x1="37" y1="311.7" x2="41.5" y2="311.7" stroke="#303030" stroke-width="1.0" />
<text x="35.8" y="314.9" font-size="9.5" text-anchor="end" font-weight="normal" font-style="normal" font-family='"Liberation Sans", sans-serif' fill="#2b2b2b" >0.6</text>
<line x1="37" y1="263.6" x2="41.5" y2="263.6" stroke="#303030" stroke-width="1.0" />
<text x="35.8" y="266.8" font-size="9.5" text-anchor="end" font-weight="normal" font-style="normal" font-family='"Liberation Sans", sans-serif' fill="#2b2b2b" >0.8</text>
<line x1="37" y1="215.5" x2="41.5" y2="215.5" stroke="#303030" stroke-width="1.0" />
<text x="35.8" y="218.7" font-size="9.5" text-anchor="end" font-weight="normal" font-style="normal" font-family='"Liberation Sans", sans-serif' fill="#2b2b2b" >1</text>
<g clip-path="url(#cCr)">
<line x1="41.5" y1="370.9" x2="223.3" y2="370.9" stroke="#c98080" stroke-width="0.6" stroke-dasharray="2,2"/>
<path d="M40,370.53 L45.68,370.09 L51.36,368.83 L57.05,368.26 L62.73,366.18 L68.41,365.94 L74.09,368.65 L79.77,367.92 L85.45,366.38 L91.14,365.81 L96.82,367.34 L102.5,369.45 L108.18,370.37 L113.86,370.99 L119.55,369.75 L125.23,369.68 L130.91,370.55 L136.59,371.27 L142.27,370.46 L147.95,369.04 L153.64,369.27 L159.32,369.76 L165,370.6 L170.68,369.67 L176.36,369.54 L182.05,371.47 L187.73,372.79 L193.41,372.16 L199.09,372.29 L204.77,373.14 L210.45,372.92 L216.14,374.13 L221.82,374.81" fill="none" stroke="#1f77b4" stroke-width="1.5" stroke-linejoin="round" />
<path d="M40,372.59 L45.68,372.94 L51.36,373.62 L57.05,372.68 L62.73,372.71 L68.41,371.13 L74.09,370.98 L79.77,371.54 L85.45,373.06 L91.14,371.17 L96.82,369.26 L102.5,370.25 L108.18,369.61 L113.86,370.06 L119.55,369.71 L125.23,368.66 L130.91,369.4 L136.59,370.01 L142.27,370.37 L147.95,370.48 L153.64,370.29 L159.32,370.27 L165,370.08 L170.68,369.35 L176.36,368.73 L182.05,370.54 L187.73,370.94 L193.41,372.12 L199.09,372.43 L204.77,371.96 L210.45,372.64 L216.14,372.77 L221.82,374.44" fill="none" stroke="#ff7f0e" stroke-width="1.5" stroke-linejoin="round" />
<path d="M40,369.47 L45.68,370.26 L51.36,371.02 L57.05,371.11 L62.73,371.75 L68.41,371.86 L74.09,372.47 L79.77,371.99 L85.45,370.79 L91.14,370.45 L96.82,369.84 L102.5,370.32 L108.18,369.82 L113.86,370.23 L119.55,370.05 L125.23,371.34 L130.91,372.27 L136.59,372.31 L142.27,371.28 L147.95,371.2 L153.64,370.01 L159.32,370.17 L165,370.59 L170.68,370.33 L176.36,371.04 L182.05,371.58 L187.73,371.68 L193.41,372.73 L199.09,372.75 L204.77,373.71 L210.45,374.25 L216.14,374.93 L221.82,374.06" fill="none" stroke="#2ca02c" stroke-width="1.5" stroke-linejoin="round" />
<path d="M40,371.43 L45.68,371.42 L51.36,371.71 L57.05,371.83 L62.73,372.34 L68.41,372.15 L74.09,373.68 L79.77,373.44 L85.45,372.82 L91.14,371.51 L96.82,369.34 L102.5,369.51 L108.18,370.34 L113.86,370.68 L119.55,370.31 L125.23,369.68 L130.91,371.2 L136.59,369.99 L142.27,370.41 L147.95,369.45 L153.64,370 L159.32,369.43 L165,369.59 L170.68,369.11 L176.36,367.98 L182.05,369.32 L187.73,370.89 L193.41,372.2 L199.09,373.02 L204.77,372.94 L210.45,373.26 L216.14,373.73 L221.82,374.19" fill="none" stroke="#d62728" stroke-width="1.5" stroke-linejoin="round" />
<path d="M40,368.03 L45.68,368.88 L51.36,370.1 L57.05,370.85 L62.73,371.59 L68.41,373.26 L74.09,374.43 L79.77,374.47 L85.45,374.95 L91.14,372.44 L96.82,369.63 L102.5,369.99 L108.18,369.4 L113.86,369.65 L119.55,368.96 L125.23,368.54 L130.91,369.75 L136.59,370.84 L142.27,369.86 L147.95,368.67 L153.64,368.73 L159.32,369.16 L165,369.99 L170.68,369.82 L176.36,370.67 L182.05,370.78 L187.73,371.05 L193.41,372.07 L199.09,371.74 L204.77,372.17 L210.45,372.74 L216.14,373.29 L221.82,373.73" fill="none" stroke="#9467bd" stroke-width="1.5" stroke-linejoin="round" />
</g>
<rect x="41.5" y="353" width="181.8" height="35.5" fill="none" stroke="#303030" stroke-width="1.0"/>
<line x1="37" y1="358.9" x2="41.5" y2="358.9" stroke="#303030" stroke-width="1.0" />
<text x="35.8" y="362.1" font-size="9.5" text-anchor="end" font-weight="normal" font-style="normal" font-family='"Liberation Sans", sans-serif' fill="#2b2b2b" >0.02</text>
<line x1="37" y1="370.9" x2="41.5" y2="370.9" stroke="#303030" stroke-width="1.0" />
<text x="35.8" y="374.1" font-size="9.5" text-anchor="end" font-weight="normal" font-style="normal" font-family='"Liberation Sans", sans-serif' fill="#2b2b2b" >0</text>
<line x1="37" y1="382.9" x2="41.5" y2="382.9" stroke="#303030" stroke-width="1.0" />
<text x="35.8" y="386.1" font-size="9.5" text-anchor="end" font-weight="normal" font-style="normal" font-family='"Liberation Sans", sans-serif' fill="#2b2b2b" >−0.02</text>
<line x1="50.19" y1="353" x2="50.19" y2="355.8" stroke="#303030" stroke-width="0.9" />
<line x1="58.43" y1="353" x2="58.43" y2="355.8" stroke="#303030" stroke-width="0.9" />
<line x1="64.28" y1="353" x2="64.28" y2="355.8" stroke="#303030" stroke-width="0.9" />
<line x1="68.81" y1="353" x2="68.81" y2="355.8" stroke="#303030" stroke-width="0.9" />
<line x1="72.52" y1="353" x2="72.52" y2="355.8" stroke="#303030" stroke-width="0.9" />
<line x1="75.65" y1="353" x2="75.65" y2="355.8" stroke="#303030" stroke-width="0.9" />
<line x1="78.36" y1="353" x2="78.36" y2="355.8" stroke="#303030" stroke-width="0.9" />
<line x1="80.76" y1="353" x2="80.76" y2="355.8" stroke="#303030" stroke-width="0.9" />
<line x1="82.9" y1="353" x2="82.9" y2="357" stroke="#303030" stroke-width="1.1" />
<line x1="96.99" y1="353" x2="96.99" y2="355.8" stroke="#303030" stroke-width="0.9" />
<line x1="105.23" y1="353" x2="105.23" y2="355.8" stroke="#303030" stroke-width="0.9" />
<line x1="111.08" y1="353" x2="111.08" y2="355.8" stroke="#303030" stroke-width="0.9" />
<line x1="115.61" y1="353" x2="115.61" y2="355.8" stroke="#303030" stroke-width="0.9" />
<line x1="119.32" y1="353" x2="119.32" y2="355.8" stroke="#303030" stroke-width="0.9" />
<line x1="122.45" y1="353" x2="122.45" y2="355.8" stroke="#303030" stroke-width="0.9" />
<line x1="125.16" y1="353" x2="125.16" y2="355.8" stroke="#303030" stroke-width="0.9" />
<line x1="127.56" y1="353" x2="127.56" y2="355.8" stroke="#303030" stroke-width="0.9" />
<line x1="129.7" y1="353" x2="129.7" y2="357" stroke="#303030" stroke-width="1.1" />
<line x1="143.79" y1="353" x2="143.79" y2="355.8" stroke="#303030" stroke-width="0.9" />
<line x1="152.03" y1="353" x2="152.03" y2="355.8" stroke="#303030" stroke-width="0.9" />
<line x1="157.88" y1="353" x2="157.88" y2="355.8" stroke="#303030" stroke-width="0.9" />
<line x1="162.41" y1="353" x2="162.41" y2="355.8" stroke="#303030" stroke-width="0.9" />
<line x1="166.12" y1="353" x2="166.12" y2="355.8" stroke="#303030" stroke-width="0.9" />
<line x1="169.25" y1="353" x2="169.25" y2="355.8" stroke="#303030" stroke-width="0.9" />
<line x1="171.96" y1="353" x2="171.96" y2="355.8" stroke="#303030" stroke-width="0.9" />
<line x1="174.36" y1="353" x2="174.36" y2="355.8" stroke="#303030" stroke-width="0.9" />
<line x1="176.5" y1="353" x2="176.5" y2="357" stroke="#303030" stroke-width="1.1" />
<line x1="190.59" y1="353" x2="190.59" y2="355.8" stroke="#303030" stroke-width="0.9" />
<line x1="198.83" y1="353" x2="198.83" y2="355.8" stroke="#303030" stroke-width="0.9" />
<line x1="204.68" y1="353" x2="204.68" y2="355.8" stroke="#303030" stroke-width="0.9" />
<line x1="209.21" y1="353" x2="209.21" y2="355.8" stroke="#303030" stroke-width="0.9" />
<line x1="212.92" y1="353" x2="212.92" y2="355.8" stroke="#303030" stroke-width="0.9" />
<line x1="216.05" y1="353" x2="216.05" y2="355.8" stroke="#303030" stroke-width="0.9" />
<line x1="218.76" y1="353" x2="218.76" y2="355.8" stroke="#303030" stroke-width="0.9" />
<line x1="221.16" y1="353" x2="221.16" y2="355.8" stroke="#303030" stroke-width="0.9" />
<line x1="223.3" y1="353" x2="223.3" y2="357" stroke="#303030" stroke-width="1.1" />
<line x1="50.19" y1="388.5" x2="50.19" y2="391.3" stroke="#303030" stroke-width="0.9" />
<line x1="58.43" y1="388.5" x2="58.43" y2="391.3" stroke="#303030" stroke-width="0.9" />
<line x1="64.28" y1="388.5" x2="64.28" y2="391.3" stroke="#303030" stroke-width="0.9" />
<line x1="68.81" y1="388.5" x2="68.81" y2="391.3" stroke="#303030" stroke-width="0.9" />
<line x1="72.52" y1="388.5" x2="72.52" y2="391.3" stroke="#303030" stroke-width="0.9" />
<line x1="75.65" y1="388.5" x2="75.65" y2="391.3" stroke="#303030" stroke-width="0.9" />
<line x1="78.36" y1="388.5" x2="78.36" y2="391.3" stroke="#303030" stroke-width="0.9" />
<line x1="80.76" y1="388.5" x2="80.76" y2="391.3" stroke="#303030" stroke-width="0.9" />
<line x1="82.9" y1="388.5" x2="82.9" y2="392.5" stroke="#303030" stroke-width="1.1" />
<line x1="96.99" y1="388.5" x2="96.99" y2="391.3" stroke="#303030" stroke-width="0.9" />
<line x1="105.23" y1="388.5" x2="105.23" y2="391.3" stroke="#303030" stroke-width="0.9" />
<line x1="111.08" y1="388.5" x2="111.08" y2="391.3" stroke="#303030" stroke-width="0.9" />
<line x1="115.61" y1="388.5" x2="115.61" y2="391.3" stroke="#303030" stroke-width="0.9" />
<line x1="119.32" y1="388.5" x2="119.32" y2="391.3" stroke="#303030" stroke-width="0.9" />
<line x1="122.45" y1="388.5" x2="122.45" y2="391.3" stroke="#303030" stroke-width="0.9" />
<line x1="125.16" y1="388.5" x2="125.16" y2="391.3" stroke="#303030" stroke-width="0.9" />
<line x1="127.56" y1="388.5" x2="127.56" y2="391.3" stroke="#303030" stroke-width="0.9" />
<line x1="129.7" y1="388.5" x2="129.7" y2="392.5" stroke="#303030" stroke-width="1.1" />
<line x1="143.79" y1="388.5" x2="143.79" y2="391.3" stroke="#303030" stroke-width="0.9" />
<line x1="152.03" y1="388.5" x2="152.03" y2="391.3" stroke="#303030" stroke-width="0.9" />
<line x1="157.88" y1="388.5" x2="157.88" y2="391.3" stroke="#303030" stroke-width="0.9" />
<line x1="162.41" y1="388.5" x2="162.41" y2="391.3" stroke="#303030" stroke-width="0.9" />
<line x1="166.12" y1="388.5" x2="166.12" y2="391.3" stroke="#303030" stroke-width="0.9" />
<line x1="169.25" y1="388.5" x2="169.25" y2="391.3" stroke="#303030" stroke-width="0.9" />
<line x1="171.96" y1="388.5" x2="171.96" y2="391.3" stroke="#303030" stroke-width="0.9" />
<line x1="174.36" y1="388.5" x2="174.36" y2="391.3" stroke="#303030" stroke-width="0.9" />
<line x1="176.5" y1="388.5" x2="176.5" y2="392.5" stroke="#303030" stroke-width="1.1" />
<line x1="190.59" y1="388.5" x2="190.59" y2="391.3" stroke="#303030" stroke-width="0.9" />
<line x1="198.83" y1="388.5" x2="198.83" y2="391.3" stroke="#303030" stroke-width="0.9" />
<line x1="204.68" y1="388.5" x2="204.68" y2="391.3" stroke="#303030" stroke-width="0.9" />
<line x1="209.21" y1="388.5" x2="209.21" y2="391.3" stroke="#303030" stroke-width="0.9" />
<line x1="212.92" y1="388.5" x2="212.92" y2="391.3" stroke="#303030" stroke-width="0.9" />
<line x1="216.05" y1="388.5" x2="216.05" y2="391.3" stroke="#303030" stroke-width="0.9" />
<line x1="218.76" y1="388.5" x2="218.76" y2="391.3" stroke="#303030" stroke-width="0.9" />
<line x1="221.16" y1="388.5" x2="221.16" y2="391.3" stroke="#303030" stroke-width="0.9" />
<line x1="223.3" y1="388.5" x2="223.3" y2="392.5" stroke="#303030" stroke-width="1.1" />
<text x="82.9" y="401.2" font-family='"Liberation Sans", sans-serif' fill="#2b2b2b" text-anchor="middle"><tspan font-size="8.7">10</tspan><tspan font-size="5.92" dy="-3.1">0</tspan></text>
<text x="129.7" y="401.2" font-family='"Liberation Sans", sans-serif' fill="#2b2b2b" text-anchor="middle"><tspan font-size="8.7">10</tspan><tspan font-size="5.92" dy="-3.1">1</tspan></text>
<text x="176.5" y="401.2" font-family='"Liberation Sans", sans-serif' fill="#2b2b2b" text-anchor="middle"><tspan font-size="8.7">10</tspan><tspan font-size="5.92" dy="-3.1">2</tspan></text>
<text x="223.3" y="401.2" font-family='"Liberation Sans", sans-serif' fill="#2b2b2b" text-anchor="middle"><tspan font-size="8.7">10</tspan><tspan font-size="5.92" dy="-3.1">3</tspan></text>
<text x="132.7" y="412.2" font-size="11.8" text-anchor="middle" font-family='"Liberation Sans", sans-serif' fill="#2b2b2b" textLength="33" lengthAdjust="spacingAndGlyphs">w (<tspan font-style="italic">μ</tspan>s)</text>
<text x="202.3" y="234.6" font-size="24.8" text-anchor="start" font-weight="bold" font-style="normal" font-family='"Liberation Sans", sans-serif' fill="#000" style="stroke:#000;stroke-width:1.0px">C</text>
<text x="12" y="278.7" font-size="12" text-anchor="middle" font-weight="normal" font-style="normal" font-family='"Liberation Sans", sans-serif' fill="#2b2b2b" transform="rotate(-90 12 278.7)" textLength="61" lengthAdjust="spacingAndGlyphs">⟨<tspan font-style="italic">F</tspan><tspan font-size="8.8" dy="2.3" font-style="italic">exc</tspan><tspan dy="-2.3">(</tspan><tspan font-style="italic">w</tspan>)⟩<tspan font-size="8.8" dy="2.3" font-style="italic">norm</tspan></text>
<text x="12" y="369.8" font-size="11.5" text-anchor="middle" font-weight="normal" font-style="normal" font-family='"Liberation Sans", sans-serif' fill="#2b2b2b" transform="rotate(-90 12 369.8)" textLength="51.5" lengthAdjust="spacingAndGlyphs">Residuals</text>
<text x="165.5" y="225" font-size="8.2" text-anchor="middle" font-weight="normal" font-style="normal" font-family='"Liberation Sans", sans-serif' fill="#2b2b2b" textLength="63.5" lengthAdjust="spacingAndGlyphs">Mean Irradiance</text>
<text x="167" y="234.3" font-size="8.2" text-anchor="middle" font-family='"Liberation Sans", sans-serif' fill="#2b2b2b" textLength="37" lengthAdjust="spacingAndGlyphs">[<tspan font-style="italic">kW/cm</tspan><tspan font-size="6" dy="-3">2</tspan><tspan dy="3">]</tspan></text>
<line x1="124" y1="243" x2="141.5" y2="243" stroke="#1f77b4" stroke-width="1.6" />
<circle cx="132.75" cy="243" r="1.3" fill="#1f77b4"/>
<text x="147.3" y="246.2" font-size="9" text-anchor="start" font-weight="normal" font-style="normal" font-family='"Liberation Sans", sans-serif' fill="#2b2b2b" >3.1</text>
<line x1="124" y1="254.5" x2="141.5" y2="254.5" stroke="#ff7f0e" stroke-width="1.6" />
<circle cx="132.75" cy="254.5" r="1.3" fill="#ff7f0e"/>
<text x="147.3" y="257.7" font-size="9" text-anchor="start" font-weight="normal" font-style="normal" font-family='"Liberation Sans", sans-serif' fill="#2b2b2b" >4.6</text>
<line x1="124" y1="266.3" x2="141.5" y2="266.3" stroke="#2ca02c" stroke-width="1.6" />
<circle cx="132.75" cy="266.3" r="1.3" fill="#2ca02c"/>
<text x="147.3" y="269.5" font-size="9" text-anchor="start" font-weight="normal" font-style="normal" font-family='"Liberation Sans", sans-serif' fill="#2b2b2b" >5.8</text>
<line x1="175.2" y1="243" x2="192.7" y2="243" stroke="#d62728" stroke-width="1.6" />
<circle cx="183.95" cy="243" r="1.3" fill="#d62728"/>
<text x="198.5" y="246.2" font-size="9" text-anchor="start" font-weight="normal" font-style="normal" font-family='"Liberation Sans", sans-serif' fill="#2b2b2b" >6.8</text>
<line x1="175.2" y1="254.5" x2="192.7" y2="254.5" stroke="#9467bd" stroke-width="1.6" />
<circle cx="183.95" cy="254.5" r="1.3" fill="#9467bd"/>
<text x="198.5" y="257.7" font-size="9" text-anchor="start" font-weight="normal" font-style="normal" font-family='"Liberation Sans", sans-serif' fill="#2b2b2b" >8.3</text>
<g clip-path="url(#cD)">
<path d="M257.14,209.67 L257.99,209.84 L258.85,210.01 L259.7,210.18 L260.56,210.35 L261.41,210.52 L262.27,210.7 L263.12,210.89 L263.98,211.07 L264.83,211.26 L265.69,211.46 L266.54,211.66 L267.4,211.87 L268.25,212.09 L269.11,212.31 L269.96,212.54 L270.82,212.78 L271.67,213.03 L272.53,213.28 L273.38,213.55 L274.24,213.83 L275.09,214.11 L275.95,214.41 L276.8,214.72 L277.66,215.04 L278.51,215.37 L279.36,215.72 L280.22,216.08 L281.07,216.45 L281.93,216.84 L282.78,217.24 L283.64,217.66 L284.49,218.09 L285.35,218.54 L286.2,219.01 L287.06,219.49 L287.91,219.99 L288.77,220.51 L289.62,221.05 L290.48,221.61 L291.33,222.18 L292.19,222.78 L293.04,223.4 L293.9,224.04 L294.75,224.7 L295.61,225.38 L296.46,226.08 L297.32,226.81 L298.17,227.56 L299.02,228.34 L299.88,229.14 L300.73,229.96 L301.59,230.81 L302.44,231.68 L303.3,232.58 L304.15,233.51 L305.01,234.46 L305.86,235.43 L306.72,236.44 L307.57,237.47 L308.43,238.52 L309.28,239.61 L310.14,240.71 L310.99,241.85 L311.85,243.01 L312.7,244.19 L313.56,245.4 L314.41,246.64 L315.27,247.9 L316.12,249.18 L316.98,250.49 L317.83,251.82 L318.69,253.17 L319.54,254.54 L320.39,255.93 L321.25,257.34 L322.1,258.77 L322.96,260.21 L323.81,261.67 L324.67,263.15 L325.52,264.63 L326.38,266.13 L327.23,267.64 L328.09,269.15 L328.94,270.67 L329.8,272.2 L330.65,273.73 L331.51,275.26 L332.36,276.79 L333.22,278.32 L334.07,279.85 L334.93,281.37 L335.78,282.88 L336.64,284.39 L337.49,285.88 L338.35,287.36 L339.2,288.83 L340.06,290.28 L340.91,291.72 L341.76,293.13 L342.62,294.53 L343.47,295.9 L344.33,297.26 L345.18,298.58 L346.04,299.89 L346.89,301.17 L347.75,302.42 L348.6,303.64 L349.46,304.83 L350.31,305.99 L351.17,307.13 L352.02,308.23 L352.88,309.31 L353.73,310.35 L354.59,311.36 L355.44,312.35 L356.3,313.3 L357.15,314.22 L358.01,315.11 L358.86,315.97 L359.72,316.8 L360.57,317.6 L361.42,318.37 L362.28,319.11 L363.13,319.83 L363.99,320.52 L364.84,321.18 L365.7,321.82 L366.55,322.43 L367.41,323.01 L368.26,323.58 L369.12,324.12 L369.97,324.63 L370.83,325.13 L371.68,325.61 L372.54,326.06 L373.39,326.5 L374.25,326.92 L375.1,327.32 L375.96,327.7 L376.81,328.07 L377.67,328.42 L378.52,328.76 L379.38,329.08 L380.23,329.39 L381.09,329.69 L381.94,329.97 L382.79,330.24 L383.65,330.5 L384.5,330.75 L385.36,330.99 L386.21,331.22 L387.07,331.44 L387.92,331.65 L388.78,331.86 L389.63,332.05 L390.49,332.24 L391.34,332.41 L392.2,332.59 L393.05,332.75 L393.91,332.91 L394.76,333.06 L395.62,333.2 L396.47,333.34 L397.33,333.48 L398.18,333.61 L399.04,333.73 L399.89,333.85 L400.75,333.96 L401.6,334.07 L402.46,334.18 L403.31,334.28 L404.16,334.37 L405.02,334.47 L405.87,334.56 L406.73,334.64 L407.58,334.73 L408.44,334.81 L409.29,334.88 L410.15,334.96 L411,335.03 L411.86,335.09 L412.71,335.16 L413.57,335.22 L414.42,335.28 L415.28,335.34 L416.13,335.39 L416.99,335.45 L417.84,335.5 L418.7,335.55 L419.55,335.59 L420.41,335.64 L421.26,335.68 L422.12,335.73 L422.97,335.77 L423.82,335.8 L424.68,335.84 L425.53,335.88 L426.39,335.91 L427.24,335.94 L428.1,335.97 L428.95,336 L429.81,336.03 L430.66,336.06 L431.52,336.09 L432.37,336.11 L433.23,336.14 L434.08,336.16 L434.94,336.19 L435.79,336.21 L436.65,336.23 L437.5,336.25 L438.36,336.27 L439.21,336.29 L440.07,336.31 L440.92,336.33 L441.78,336.35 L442.63,336.37 L443.49,336.39 L444.34,336.41" fill="none" stroke="#1f77b4" stroke-width="1.6" stroke-linejoin="round" />
<circle cx="266.03" cy="210.54" r="1.75" fill="#1f77b4"/>
<circle cx="272.63" cy="212.06" r="1.75" fill="#1f77b4"/>
<circle cx="279.23" cy="215.12" r="1.75" fill="#1f77b4"/>
<circle cx="285.83" cy="218.36" r="1.75" fill="#1f77b4"/>
<circle cx="292.43" cy="222.19" r="1.75" fill="#1f77b4"/>
<circle cx="299.03" cy="227.98" r="1.75" fill="#1f77b4"/>
<circle cx="305.62" cy="234.44" r="1.75" fill="#1f77b4"/>
<circle cx="312.22" cy="243.4" r="1.75" fill="#1f77b4"/>
<circle cx="318.82" cy="252.63" r="1.75" fill="#1f77b4"/>
<circle cx="325.42" cy="264.03" r="1.75" fill="#1f77b4"/>
<circle cx="332.02" cy="276.27" r="1.75" fill="#1f77b4"/>
<circle cx="338.62" cy="288.72" r="1.75" fill="#1f77b4"/>
<circle cx="345.22" cy="297.73" r="1.75" fill="#1f77b4"/>
<circle cx="351.82" cy="307.34" r="1.75" fill="#1f77b4"/>
<circle cx="358.42" cy="314.7" r="1.75" fill="#1f77b4"/>
<circle cx="365.01" cy="321.3" r="1.75" fill="#1f77b4"/>
<circle cx="371.61" cy="324.59" r="1.75" fill="#1f77b4"/>
<circle cx="378.21" cy="328" r="1.75" fill="#1f77b4"/>
<circle cx="384.81" cy="330.43" r="1.75" fill="#1f77b4"/>
<circle cx="391.41" cy="331.54" r="1.75" fill="#1f77b4"/>
<circle cx="398.01" cy="332.7" r="1.75" fill="#1f77b4"/>
<circle cx="404.61" cy="333.79" r="1.75" fill="#1f77b4"/>
<circle cx="411.21" cy="333.59" r="1.75" fill="#1f77b4"/>
<circle cx="417.8" cy="334.37" r="1.75" fill="#1f77b4"/>
<circle cx="424.4" cy="335.22" r="1.75" fill="#1f77b4"/>
<circle cx="431" cy="335.75" r="1.75" fill="#1f77b4"/>
<circle cx="437.6" cy="335.76" r="1.75" fill="#1f77b4"/>
<circle cx="444.2" cy="335.12" r="1.75" fill="#1f77b4"/>
<path d="M257.14,213.73 L257.99,213.9 L258.85,214.07 L259.7,214.23 L260.56,214.41 L261.41,214.58 L262.27,214.76 L263.12,214.94 L263.98,215.12 L264.83,215.31 L265.69,215.5 L266.54,215.7 L267.4,215.9 L268.25,216.12 L269.11,216.33 L269.96,216.56 L270.82,216.79 L271.67,217.03 L272.53,217.28 L273.38,217.54 L274.24,217.81 L275.09,218.08 L275.95,218.37 L276.8,218.67 L277.66,218.97 L278.51,219.29 L279.36,219.63 L280.22,219.97 L281.07,220.32 L281.93,220.69 L282.78,221.07 L283.64,221.47 L284.49,221.88 L285.35,222.3 L286.2,222.74 L287.06,223.19 L287.91,223.66 L288.77,224.15 L289.62,224.65 L290.48,225.17 L291.33,225.7 L292.19,226.25 L293.04,226.82 L293.9,227.41 L294.75,228.01 L295.61,228.63 L296.46,229.28 L297.32,229.94 L298.17,230.62 L299.02,231.31 L299.88,232.03 L300.73,232.77 L301.59,233.53 L302.44,234.31 L303.3,235.1 L304.15,235.92 L305.01,236.76 L305.86,237.61 L306.72,238.49 L307.57,239.39 L308.43,240.3 L309.28,241.23 L310.14,242.19 L310.99,243.16 L311.85,244.15 L312.7,245.15 L313.56,246.18 L314.41,247.22 L315.27,248.27 L316.12,249.35 L316.98,250.43 L317.83,251.53 L318.69,252.64 L319.54,253.77 L320.39,254.9 L321.25,256.05 L322.1,257.2 L322.96,258.36 L323.81,259.53 L324.67,260.7 L325.52,261.88 L326.38,263.06 L327.23,264.25 L328.09,265.43 L328.94,266.61 L329.8,267.79 L330.65,268.97 L331.51,270.14 L332.36,271.31 L333.22,272.47 L334.07,273.62 L334.93,274.77 L335.78,275.9 L336.64,277.01 L337.49,278.12 L338.35,279.21 L339.2,280.29 L340.06,281.35 L340.91,282.39 L341.76,283.41 L342.62,284.42 L343.47,285.4 L344.33,286.37 L345.18,287.31 L346.04,288.23 L346.89,289.13 L347.75,290.01 L348.6,290.87 L349.46,291.7 L350.31,292.51 L351.17,293.29 L352.02,294.05 L352.88,294.79 L353.73,295.51 L354.59,296.2 L355.44,296.87 L356.3,297.52 L357.15,298.14 L358.01,298.74 L358.86,299.32 L359.72,299.88 L360.57,300.42 L361.42,300.94 L362.28,301.44 L363.13,301.92 L363.99,302.38 L364.84,302.83 L365.7,303.25 L366.55,303.66 L367.41,304.05 L368.26,304.43 L369.12,304.79 L369.97,305.14 L370.83,305.47 L371.68,305.79 L372.54,306.1 L373.39,306.39 L374.25,306.67 L375.1,306.94 L375.96,307.2 L376.81,307.45 L377.67,307.69 L378.52,307.91 L379.38,308.13 L380.23,308.34 L381.09,308.54 L381.94,308.74 L382.79,308.92 L383.65,309.1 L384.5,309.27 L385.36,309.44 L386.21,309.59 L387.07,309.74 L387.92,309.89 L388.78,310.03 L389.63,310.16 L390.49,310.29 L391.34,310.42 L392.2,310.53 L393.05,310.65 L393.91,310.76 L394.76,310.86 L395.62,310.97 L396.47,311.06 L397.33,311.16 L398.18,311.25 L399.04,311.33 L399.89,311.42 L400.75,311.5 L401.6,311.58 L402.46,311.65 L403.31,311.72 L404.16,311.79 L405.02,311.86 L405.87,311.92 L406.73,311.98 L407.58,312.04 L408.44,312.1 L409.29,312.15 L410.15,312.2 L411,312.25 L411.86,312.3 L412.71,312.35 L413.57,312.39 L414.42,312.43 L415.28,312.48 L416.13,312.52 L416.99,312.55 L417.84,312.59 L418.7,312.63 L419.55,312.66 L420.41,312.69 L421.26,312.72 L422.12,312.75 L422.97,312.78 L423.82,312.81 L424.68,312.84 L425.53,312.86 L426.39,312.89 L427.24,312.91 L428.1,312.93 L428.95,312.95 L429.81,312.98 L430.66,313 L431.52,313.02 L432.37,313.03 L433.23,313.05 L434.08,313.07 L434.94,313.09 L435.79,313.1 L436.65,313.12 L437.5,313.14 L438.36,313.15 L439.21,313.17 L440.07,313.18 L440.92,313.19 L441.78,313.21 L442.63,313.22 L443.49,313.24 L444.34,313.25" fill="none" stroke="#ff7f0e" stroke-width="1.6" stroke-linejoin="round" />
<circle cx="266.03" cy="214.95" r="1.75" fill="#ff7f0e"/>
<circle cx="272.63" cy="217.31" r="1.75" fill="#ff7f0e"/>
<circle cx="279.23" cy="219.45" r="1.75" fill="#ff7f0e"/>
<circle cx="285.83" cy="222.11" r="1.75" fill="#ff7f0e"/>
<circle cx="292.43" cy="225.57" r="1.75" fill="#ff7f0e"/>
<circle cx="299.03" cy="231.23" r="1.75" fill="#ff7f0e"/>
<circle cx="305.62" cy="236.68" r="1.75" fill="#ff7f0e"/>
<circle cx="312.22" cy="243.61" r="1.75" fill="#ff7f0e"/>
<circle cx="318.82" cy="252.02" r="1.75" fill="#ff7f0e"/>
<circle cx="325.42" cy="262.06" r="1.75" fill="#ff7f0e"/>
<circle cx="332.02" cy="270.56" r="1.75" fill="#ff7f0e"/>
<circle cx="338.62" cy="279.74" r="1.75" fill="#ff7f0e"/>
<circle cx="345.22" cy="286.71" r="1.75" fill="#ff7f0e"/>
<circle cx="351.82" cy="293.94" r="1.75" fill="#ff7f0e"/>
<circle cx="358.42" cy="298.32" r="1.75" fill="#ff7f0e"/>
<circle cx="365.01" cy="302.43" r="1.75" fill="#ff7f0e"/>
<circle cx="371.61" cy="306.61" r="1.75" fill="#ff7f0e"/>
<circle cx="378.21" cy="307.82" r="1.75" fill="#ff7f0e"/>
<circle cx="384.81" cy="308.68" r="1.75" fill="#ff7f0e"/>
<circle cx="391.41" cy="309.98" r="1.75" fill="#ff7f0e"/>
<circle cx="398.01" cy="310.99" r="1.75" fill="#ff7f0e"/>
<circle cx="404.61" cy="312.03" r="1.75" fill="#ff7f0e"/>
<circle cx="411.21" cy="311.62" r="1.75" fill="#ff7f0e"/>
<circle cx="417.8" cy="311.32" r="1.75" fill="#ff7f0e"/>
<circle cx="424.4" cy="312.29" r="1.75" fill="#ff7f0e"/>
<circle cx="431" cy="312.61" r="1.75" fill="#ff7f0e"/>
<circle cx="437.6" cy="312.79" r="1.75" fill="#ff7f0e"/>
<circle cx="444.2" cy="313.51" r="1.75" fill="#ff7f0e"/>
<path d="M257.14,213.54 L257.99,213.71 L258.85,213.89 L259.7,214.06 L260.56,214.24 L261.41,214.43 L262.27,214.61 L263.12,214.8 L263.98,214.99 L264.83,215.19 L265.69,215.39 L266.54,215.6 L267.4,215.81 L268.25,216.03 L269.11,216.25 L269.96,216.49 L270.82,216.73 L271.67,216.98 L272.53,217.23 L273.38,217.5 L274.24,217.78 L275.09,218.06 L275.95,218.36 L276.8,218.66 L277.66,218.98 L278.51,219.3 L279.36,219.64 L280.22,219.99 L281.07,220.35 L281.93,220.73 L282.78,221.11 L283.64,221.51 L284.49,221.93 L285.35,222.35 L286.2,222.79 L287.06,223.25 L287.91,223.72 L288.77,224.2 L289.62,224.7 L290.48,225.22 L291.33,225.75 L292.19,226.29 L293.04,226.86 L293.9,227.43 L294.75,228.03 L295.61,228.64 L296.46,229.27 L297.32,229.91 L298.17,230.57 L299.02,231.25 L299.88,231.95 L300.73,232.66 L301.59,233.39 L302.44,234.14 L303.3,234.9 L304.15,235.68 L305.01,236.48 L305.86,237.29 L306.72,238.12 L307.57,238.96 L308.43,239.82 L309.28,240.7 L310.14,241.58 L310.99,242.49 L311.85,243.4 L312.7,244.33 L313.56,245.28 L314.41,246.23 L315.27,247.19 L316.12,248.17 L316.98,249.15 L317.83,250.15 L318.69,251.15 L319.54,252.16 L320.39,253.17 L321.25,254.19 L322.1,255.21 L322.96,256.24 L323.81,257.27 L324.67,258.29 L325.52,259.32 L326.38,260.35 L327.23,261.37 L328.09,262.39 L328.94,263.41 L329.8,264.42 L330.65,265.43 L331.51,266.42 L332.36,267.41 L333.22,268.39 L334.07,269.35 L334.93,270.31 L335.78,271.25 L336.64,272.18 L337.49,273.09 L338.35,273.99 L339.2,274.87 L340.06,275.74 L340.91,276.58 L341.76,277.41 L342.62,278.23 L343.47,279.02 L344.33,279.8 L345.18,280.55 L346.04,281.29 L346.89,282 L347.75,282.7 L348.6,283.38 L349.46,284.03 L350.31,284.67 L351.17,285.29 L352.02,285.88 L352.88,286.46 L353.73,287.02 L354.59,287.56 L355.44,288.08 L356.3,288.58 L357.15,289.07 L358.01,289.53 L358.86,289.98 L359.72,290.41 L360.57,290.83 L361.42,291.23 L362.28,291.62 L363.13,291.99 L363.99,292.34 L364.84,292.68 L365.7,293.01 L366.55,293.33 L367.41,293.63 L368.26,293.92 L369.12,294.2 L369.97,294.47 L370.83,294.72 L371.68,294.97 L372.54,295.21 L373.39,295.43 L374.25,295.65 L375.1,295.86 L375.96,296.06 L376.81,296.25 L377.67,296.44 L378.52,296.62 L379.38,296.79 L380.23,296.95 L381.09,297.11 L381.94,297.26 L382.79,297.41 L383.65,297.55 L384.5,297.68 L385.36,297.81 L386.21,297.93 L387.07,298.05 L387.92,298.17 L388.78,298.28 L389.63,298.38 L390.49,298.48 L391.34,298.58 L392.2,298.68 L393.05,298.77 L393.91,298.86 L394.76,298.94 L395.62,299.02 L396.47,299.1 L397.33,299.17 L398.18,299.24 L399.04,299.31 L399.89,299.38 L400.75,299.45 L401.6,299.51 L402.46,299.57 L403.31,299.62 L404.16,299.68 L405.02,299.73 L405.87,299.78 L406.73,299.83 L407.58,299.88 L408.44,299.93 L409.29,299.97 L410.15,300.01 L411,300.05 L411.86,300.09 L412.71,300.13 L413.57,300.16 L414.42,300.2 L415.28,300.23 L416.13,300.26 L416.99,300.3 L417.84,300.33 L418.7,300.35 L419.55,300.38 L420.41,300.41 L421.26,300.43 L422.12,300.46 L422.97,300.48 L423.82,300.5 L424.68,300.53 L425.53,300.55 L426.39,300.57 L427.24,300.59 L428.1,300.6 L428.95,300.62 L429.81,300.64 L430.66,300.66 L431.52,300.67 L432.37,300.69 L433.23,300.7 L434.08,300.72 L434.94,300.73 L435.79,300.74 L436.65,300.76 L437.5,300.77 L438.36,300.78 L439.21,300.8 L440.07,300.81 L440.92,300.82 L441.78,300.83 L442.63,300.84 L443.49,300.85 L444.34,300.87" fill="none" stroke="#2ca02c" stroke-width="1.6" stroke-linejoin="round" />
<circle cx="266.03" cy="215.23" r="1.75" fill="#2ca02c"/>
<circle cx="272.63" cy="217.27" r="1.75" fill="#2ca02c"/>
<circle cx="279.23" cy="218.64" r="1.75" fill="#2ca02c"/>
<circle cx="285.83" cy="222.63" r="1.75" fill="#2ca02c"/>
<circle cx="292.43" cy="227.1" r="1.75" fill="#2ca02c"/>
<circle cx="299.03" cy="231.24" r="1.75" fill="#2ca02c"/>
<circle cx="305.62" cy="236.79" r="1.75" fill="#2ca02c"/>
<circle cx="312.22" cy="243.49" r="1.75" fill="#2ca02c"/>
<circle cx="318.82" cy="251.8" r="1.75" fill="#2ca02c"/>
<circle cx="325.42" cy="258.34" r="1.75" fill="#2ca02c"/>
<circle cx="332.02" cy="266.56" r="1.75" fill="#2ca02c"/>
<circle cx="338.62" cy="274.1" r="1.75" fill="#2ca02c"/>
<circle cx="345.22" cy="280.55" r="1.75" fill="#2ca02c"/>
<circle cx="351.82" cy="285.12" r="1.75" fill="#2ca02c"/>
<circle cx="358.42" cy="289.5" r="1.75" fill="#2ca02c"/>
<circle cx="365.01" cy="292.21" r="1.75" fill="#2ca02c"/>
<circle cx="371.61" cy="294.61" r="1.75" fill="#2ca02c"/>
<circle cx="378.21" cy="296.09" r="1.75" fill="#2ca02c"/>
<circle cx="384.81" cy="296.76" r="1.75" fill="#2ca02c"/>
<circle cx="391.41" cy="298.18" r="1.75" fill="#2ca02c"/>
<circle cx="398.01" cy="299.27" r="1.75" fill="#2ca02c"/>
<circle cx="404.61" cy="298.82" r="1.75" fill="#2ca02c"/>
<circle cx="411.21" cy="299.54" r="1.75" fill="#2ca02c"/>
<circle cx="417.8" cy="300.26" r="1.75" fill="#2ca02c"/>
<circle cx="424.4" cy="299.58" r="1.75" fill="#2ca02c"/>
<circle cx="431" cy="300.35" r="1.75" fill="#2ca02c"/>
<circle cx="437.6" cy="299.84" r="1.75" fill="#2ca02c"/>
<circle cx="444.2" cy="301.03" r="1.75" fill="#2ca02c"/>
<path d="M257.14,213.55 L257.99,213.69 L258.85,213.84 L259.7,213.98 L260.56,214.12 L261.41,214.27 L262.27,214.42 L263.12,214.58 L263.98,214.74 L264.83,214.9 L265.69,215.06 L266.54,215.24 L267.4,215.41 L268.25,215.6 L269.11,215.79 L269.96,215.98 L270.82,216.19 L271.67,216.4 L272.53,216.62 L273.38,216.85 L274.24,217.09 L275.09,217.33 L275.95,217.59 L276.8,217.85 L277.66,218.13 L278.51,218.42 L279.36,218.72 L280.22,219.02 L281.07,219.35 L281.93,219.68 L282.78,220.03 L283.64,220.39 L284.49,220.76 L285.35,221.14 L286.2,221.54 L287.06,221.96 L287.91,222.38 L288.77,222.83 L289.62,223.28 L290.48,223.75 L291.33,224.24 L292.19,224.74 L293.04,225.26 L293.9,225.8 L294.75,226.35 L295.61,226.91 L296.46,227.49 L297.32,228.09 L298.17,228.7 L299.02,229.33 L299.88,229.98 L300.73,230.64 L301.59,231.31 L302.44,232 L303.3,232.71 L304.15,233.43 L305.01,234.16 L305.86,234.91 L306.72,235.67 L307.57,236.45 L308.43,237.23 L309.28,238.03 L310.14,238.84 L310.99,239.66 L311.85,240.48 L312.7,241.32 L313.56,242.16 L314.41,243.01 L315.27,243.87 L316.12,244.73 L316.98,245.59 L317.83,246.46 L318.69,247.33 L319.54,248.2 L320.39,249.07 L321.25,249.93 L322.1,250.8 L322.96,251.66 L323.81,252.51 L324.67,253.36 L325.52,254.21 L326.38,255.04 L327.23,255.87 L328.09,256.68 L328.94,257.49 L329.8,258.28 L330.65,259.06 L331.51,259.82 L332.36,260.58 L333.22,261.31 L334.07,262.03 L334.93,262.74 L335.78,263.43 L336.64,264.1 L337.49,264.75 L338.35,265.39 L339.2,266.01 L340.06,266.61 L340.91,267.19 L341.76,267.75 L342.62,268.3 L343.47,268.82 L344.33,269.33 L345.18,269.82 L346.04,270.29 L346.89,270.75 L347.75,271.18 L348.6,271.6 L349.46,272.01 L350.31,272.39 L351.17,272.76 L352.02,273.12 L352.88,273.46 L353.73,273.79 L354.59,274.1 L355.44,274.4 L356.3,274.69 L357.15,274.96 L358.01,275.22 L358.86,275.47 L359.72,275.71 L360.57,275.93 L361.42,276.15 L362.28,276.36 L363.13,276.56 L363.99,276.75 L364.84,276.93 L365.7,277.1 L366.55,277.26 L367.41,277.42 L368.26,277.57 L369.12,277.71 L369.97,277.85 L370.83,277.98 L371.68,278.1 L372.54,278.22 L373.39,278.34 L374.25,278.45 L375.1,278.55 L375.96,278.65 L376.81,278.74 L377.67,278.84 L378.52,278.92 L379.38,279.01 L380.23,279.09 L381.09,279.16 L381.94,279.24 L382.79,279.31 L383.65,279.37 L384.5,279.44 L385.36,279.5 L386.21,279.56 L387.07,279.61 L387.92,279.67 L388.78,279.72 L389.63,279.77 L390.49,279.82 L391.34,279.86 L392.2,279.91 L393.05,279.95 L393.91,279.99 L394.76,280.03 L395.62,280.06 L396.47,280.1 L397.33,280.13 L398.18,280.17 L399.04,280.2 L399.89,280.23 L400.75,280.26 L401.6,280.28 L402.46,280.31 L403.31,280.34 L404.16,280.36 L405.02,280.38 L405.87,280.41 L406.73,280.43 L407.58,280.45 L408.44,280.47 L409.29,280.49 L410.15,280.5 L411,280.52 L411.86,280.54 L412.71,280.55 L413.57,280.57 L414.42,280.58 L415.28,280.6 L416.13,280.61 L416.99,280.62 L417.84,280.64 L418.7,280.65 L419.55,280.66 L420.41,280.67 L421.26,280.68 L422.12,280.69 L422.97,280.7 L423.82,280.71 L424.68,280.72 L425.53,280.72 L426.39,280.73 L427.24,280.74 L428.1,280.75 L428.95,280.75 L429.81,280.76 L430.66,280.77 L431.52,280.77 L432.37,280.78 L433.23,280.78 L434.08,280.79 L434.94,280.8 L435.79,280.8 L436.65,280.81 L437.5,280.81 L438.36,280.81 L439.21,280.82 L440.07,280.82 L440.92,280.83 L441.78,280.83 L442.63,280.84 L443.49,280.84 L444.34,280.84" fill="none" stroke="#d62728" stroke-width="1.6" stroke-linejoin="round" />
<circle cx="266.03" cy="215.89" r="1.75" fill="#d62728"/>
<circle cx="272.63" cy="217.26" r="1.75" fill="#d62728"/>
<circle cx="279.23" cy="218.16" r="1.75" fill="#d62728"/>
<circle cx="285.83" cy="221.34" r="1.75" fill="#d62728"/>
<circle cx="292.43" cy="224.55" r="1.75" fill="#d62728"/>
<circle cx="299.03" cy="228.99" r="1.75" fill="#d62728"/>
<circle cx="305.62" cy="235.08" r="1.75" fill="#d62728"/>
<circle cx="312.22" cy="239.79" r="1.75" fill="#d62728"/>
<circle cx="318.82" cy="247.59" r="1.75" fill="#d62728"/>
<circle cx="325.42" cy="253.68" r="1.75" fill="#d62728"/>
<circle cx="332.02" cy="260.58" r="1.75" fill="#d62728"/>
<circle cx="338.62" cy="265.28" r="1.75" fill="#d62728"/>
<circle cx="345.22" cy="269.1" r="1.75" fill="#d62728"/>
<circle cx="351.82" cy="272.78" r="1.75" fill="#d62728"/>
<circle cx="358.42" cy="275.31" r="1.75" fill="#d62728"/>
<circle cx="365.01" cy="276.58" r="1.75" fill="#d62728"/>
<circle cx="371.61" cy="277.94" r="1.75" fill="#d62728"/>
<circle cx="378.21" cy="278.23" r="1.75" fill="#d62728"/>
<circle cx="384.81" cy="277.99" r="1.75" fill="#d62728"/>
<circle cx="391.41" cy="279.92" r="1.75" fill="#d62728"/>
<circle cx="398.01" cy="280.11" r="1.75" fill="#d62728"/>
<circle cx="404.61" cy="280.05" r="1.75" fill="#d62728"/>
<circle cx="411.21" cy="280.16" r="1.75" fill="#d62728"/>
<circle cx="417.8" cy="280.75" r="1.75" fill="#d62728"/>
<circle cx="424.4" cy="280.08" r="1.75" fill="#d62728"/>
<circle cx="431" cy="280.02" r="1.75" fill="#d62728"/>
<circle cx="437.6" cy="280.32" r="1.75" fill="#d62728"/>
<circle cx="444.2" cy="281.04" r="1.75" fill="#d62728"/>
</g>
<rect x="260.6" y="211.2" width="181.4" height="141.8" fill="none" stroke="#303030" stroke-width="1.0"/>
<line x1="256.1" y1="336.76" x2="260.6" y2="336.76" stroke="#303030" stroke-width="1.0" />
<text x="254.9" y="339.96" font-size="9.5" text-anchor="end" font-weight="normal" font-style="normal" font-family='"Liberation Sans", sans-serif' fill="#2b2b2b" >0.2</text>
<line x1="256.1" y1="306.22" x2="260.6" y2="306.22" stroke="#303030" stroke-width="1.0" />
<text x="254.9" y="309.42" font-size="9.5" text-anchor="end" font-weight="normal" font-style="normal" font-family='"Liberation Sans", sans-serif' fill="#2b2b2b" >0.4</text>
<line x1="256.1" y1="275.68" x2="260.6" y2="275.68" stroke="#303030" stroke-width="1.0" />
<text x="254.9" y="278.88" font-size="9.5" text-anchor="end" font-weight="normal" font-style="normal" font-family='"Liberation Sans", sans-serif' fill="#2b2b2b" >0.6</text>
<line x1="256.1" y1="245.14" x2="260.6" y2="245.14" stroke="#303030" stroke-width="1.0" />
<text x="254.9" y="248.34" font-size="9.5" text-anchor="end" font-weight="normal" font-style="normal" font-family='"Liberation Sans", sans-serif' fill="#2b2b2b" >0.8</text>
<line x1="256.1" y1="214.6" x2="260.6" y2="214.6" stroke="#303030" stroke-width="1.0" />
<text x="254.9" y="217.8" font-size="9.5" text-anchor="end" font-weight="normal" font-style="normal" font-family='"Liberation Sans", sans-serif' fill="#2b2b2b" >1</text>
<g clip-path="url(#cDr)">
<line x1="260.6" y1="370.9" x2="442" y2="370.9" stroke="#c98080" stroke-width="0.6" stroke-dasharray="2,2"/>
<path d="M259,367.99 L264.68,367.62 L270.36,368.43 L276.05,369.08 L281.73,369.34 L287.41,369.69 L293.09,370.5 L298.77,372.46 L304.45,373.4 L310.14,374.3 L315.82,373.25 L321.5,373.82 L327.18,374.2 L332.86,373.15 L338.55,371.9 L344.23,371.97 L349.91,370.6 L355.59,368.61 L361.27,367.45 L366.95,367.38 L372.64,367.81 L378.32,366.93 L384,367.67 L389.68,368.75 L395.36,369.37 L401.05,370.34 L406.73,369.38 L412.41,369.68 L418.09,368.89 L423.77,368.23 L429.45,370.21 L435.14,372.31 L440.82,373.17" fill="none" stroke="#2ca02c" stroke-width="1.5" stroke-linejoin="round" />
<path d="M259,369.31 L264.68,369.39 L270.36,369.72 L276.05,369.85 L281.73,370.79 L287.41,369.74 L293.09,370.37 L298.77,370.35 L304.45,370.89 L310.14,372.45 L315.82,373.29 L321.5,373.16 L327.18,373.46 L332.86,372.45 L338.55,371.48 L344.23,371.47 L349.91,369.87 L355.59,369.78 L361.27,368.37 L366.95,368.71 L372.64,368.97 L378.32,369.07 L384,369.24 L389.68,369.27 L395.36,369.65 L401.05,369.62 L406.73,369.52 L412.41,370.04 L418.09,370.65 L423.77,371.25 L429.45,372.13 L435.14,371.94 L440.82,373.04" fill="none" stroke="#ff7f0e" stroke-width="1.5" stroke-linejoin="round" />
<path d="M259,370.49 L264.68,370.57 L270.36,370.43 L276.05,370.62 L281.73,370.5 L287.41,370.86 L293.09,371.59 L298.77,371.63 L304.45,373.62 L310.14,374.81 L315.82,373.59 L321.5,372.58 L327.18,372.29 L332.86,371.96 L338.55,371.56 L344.23,371.79 L349.91,372.55 L355.59,372.75 L361.27,368.72 L366.95,368.83 L372.64,369.42 L378.32,369.08 L384,369.94 L389.68,369.1 L395.36,368.67 L401.05,369.19 L406.73,370.15 L412.41,370.82 L418.09,372.28 L423.77,371.84 L429.45,372.62 L435.14,373.15 L440.82,373.11" fill="none" stroke="#d62728" stroke-width="1.5" stroke-linejoin="round" />
<path d="M259,383.01 L264.68,384.34 L270.36,381.91 L276.05,378.53 L281.73,373.4 L287.41,368.91 L293.09,365.52 L298.77,364.21 L304.45,364 L310.14,367.44 L315.82,366.19 L321.5,365.12 L327.18,365.22 L332.86,363.63 L338.55,363.22 L344.23,364.08 L349.91,359.7 L355.59,361.13 L361.27,363.8 L366.95,366.73 L372.64,368.25 L378.32,370.17 L384,371.44 L389.68,372.02 L395.36,372.31 L401.05,371.74 L406.73,371.84 L412.41,372.37 L418.09,373.4 L423.77,373.59 L429.45,374.51 L435.14,373.78 L440.82,374.69" fill="none" stroke="#1f77b4" stroke-width="1.5" stroke-linejoin="round" />
</g>
<rect x="260.6" y="353" width="181.4" height="35.5" fill="none" stroke="#303030" stroke-width="1.0"/>
<line x1="256.1" y1="358.9" x2="260.6" y2="358.9" stroke="#303030" stroke-width="1.0" />
<text x="254.9" y="362.1" font-size="9.5" text-anchor="end" font-weight="normal" font-style="normal" font-family='"Liberation Sans", sans-serif' fill="#2b2b2b" >0.02</text>
<line x1="256.1" y1="370.9" x2="260.6" y2="370.9" stroke="#303030" stroke-width="1.0" />
<text x="254.9" y="374.1" font-size="9.5" text-anchor="end" font-weight="normal" font-style="normal" font-family='"Liberation Sans", sans-serif' fill="#2b2b2b" >0</text>
<line x1="256.1" y1="382.9" x2="260.6" y2="382.9" stroke="#303030" stroke-width="1.0" />
<text x="254.9" y="386.1" font-size="9.5" text-anchor="end" font-weight="normal" font-style="normal" font-family='"Liberation Sans", sans-serif' fill="#2b2b2b" >−0.02</text>
<line x1="268.89" y1="353" x2="268.89" y2="355.8" stroke="#303030" stroke-width="0.9" />
<line x1="277.13" y1="353" x2="277.13" y2="355.8" stroke="#303030" stroke-width="0.9" />
<line x1="282.98" y1="353" x2="282.98" y2="355.8" stroke="#303030" stroke-width="0.9" />
<line x1="287.51" y1="353" x2="287.51" y2="355.8" stroke="#303030" stroke-width="0.9" />
<line x1="291.22" y1="353" x2="291.22" y2="355.8" stroke="#303030" stroke-width="0.9" />
<line x1="294.35" y1="353" x2="294.35" y2="355.8" stroke="#303030" stroke-width="0.9" />
<line x1="297.06" y1="353" x2="297.06" y2="355.8" stroke="#303030" stroke-width="0.9" />
<line x1="299.46" y1="353" x2="299.46" y2="355.8" stroke="#303030" stroke-width="0.9" />
<line x1="301.6" y1="353" x2="301.6" y2="357" stroke="#303030" stroke-width="1.1" />
<line x1="315.69" y1="353" x2="315.69" y2="355.8" stroke="#303030" stroke-width="0.9" />
<line x1="323.93" y1="353" x2="323.93" y2="355.8" stroke="#303030" stroke-width="0.9" />
<line x1="329.78" y1="353" x2="329.78" y2="355.8" stroke="#303030" stroke-width="0.9" />
<line x1="334.31" y1="353" x2="334.31" y2="355.8" stroke="#303030" stroke-width="0.9" />
<line x1="338.02" y1="353" x2="338.02" y2="355.8" stroke="#303030" stroke-width="0.9" />
<line x1="341.15" y1="353" x2="341.15" y2="355.8" stroke="#303030" stroke-width="0.9" />
<line x1="343.86" y1="353" x2="343.86" y2="355.8" stroke="#303030" stroke-width="0.9" />
<line x1="346.26" y1="353" x2="346.26" y2="355.8" stroke="#303030" stroke-width="0.9" />
<line x1="348.4" y1="353" x2="348.4" y2="357" stroke="#303030" stroke-width="1.1" />
<line x1="362.49" y1="353" x2="362.49" y2="355.8" stroke="#303030" stroke-width="0.9" />
<line x1="370.73" y1="353" x2="370.73" y2="355.8" stroke="#303030" stroke-width="0.9" />
<line x1="376.58" y1="353" x2="376.58" y2="355.8" stroke="#303030" stroke-width="0.9" />
<line x1="381.11" y1="353" x2="381.11" y2="355.8" stroke="#303030" stroke-width="0.9" />
<line x1="384.82" y1="353" x2="384.82" y2="355.8" stroke="#303030" stroke-width="0.9" />
<line x1="387.95" y1="353" x2="387.95" y2="355.8" stroke="#303030" stroke-width="0.9" />
<line x1="390.66" y1="353" x2="390.66" y2="355.8" stroke="#303030" stroke-width="0.9" />
<line x1="393.06" y1="353" x2="393.06" y2="355.8" stroke="#303030" stroke-width="0.9" />
<line x1="395.2" y1="353" x2="395.2" y2="357" stroke="#303030" stroke-width="1.1" />
<line x1="409.29" y1="353" x2="409.29" y2="355.8" stroke="#303030" stroke-width="0.9" />
<line x1="417.53" y1="353" x2="417.53" y2="355.8" stroke="#303030" stroke-width="0.9" />
<line x1="423.38" y1="353" x2="423.38" y2="355.8" stroke="#303030" stroke-width="0.9" />
<line x1="427.91" y1="353" x2="427.91" y2="355.8" stroke="#303030" stroke-width="0.9" />
<line x1="431.62" y1="353" x2="431.62" y2="355.8" stroke="#303030" stroke-width="0.9" />
<line x1="434.75" y1="353" x2="434.75" y2="355.8" stroke="#303030" stroke-width="0.9" />
<line x1="437.46" y1="353" x2="437.46" y2="355.8" stroke="#303030" stroke-width="0.9" />
<line x1="439.86" y1="353" x2="439.86" y2="355.8" stroke="#303030" stroke-width="0.9" />
<line x1="442" y1="353" x2="442" y2="357" stroke="#303030" stroke-width="1.1" />
<line x1="268.89" y1="388.5" x2="268.89" y2="391.3" stroke="#303030" stroke-width="0.9" />
<line x1="277.13" y1="388.5" x2="277.13" y2="391.3" stroke="#303030" stroke-width="0.9" />
<line x1="282.98" y1="388.5" x2="282.98" y2="391.3" stroke="#303030" stroke-width="0.9" />
<line x1="287.51" y1="388.5" x2="287.51" y2="391.3" stroke="#303030" stroke-width="0.9" />
<line x1="291.22" y1="388.5" x2="291.22" y2="391.3" stroke="#303030" stroke-width="0.9" />
<line x1="294.35" y1="388.5" x2="294.35" y2="391.3" stroke="#303030" stroke-width="0.9" />
<line x1="297.06" y1="388.5" x2="297.06" y2="391.3" stroke="#303030" stroke-width="0.9" />
<line x1="299.46" y1="388.5" x2="299.46" y2="391.3" stroke="#303030" stroke-width="0.9" />
<line x1="301.6" y1="388.5" x2="301.6" y2="392.5" stroke="#303030" stroke-width="1.1" />
<line x1="315.69" y1="388.5" x2="315.69" y2="391.3" stroke="#303030" stroke-width="0.9" />
<line x1="323.93" y1="388.5" x2="323.93" y2="391.3" stroke="#303030" stroke-width="0.9" />
<line x1="329.78" y1="388.5" x2="329.78" y2="391.3" stroke="#303030" stroke-width="0.9" />
<line x1="334.31" y1="388.5" x2="334.31" y2="391.3" stroke="#303030" stroke-width="0.9" />
<line x1="338.02" y1="388.5" x2="338.02" y2="391.3" stroke="#303030" stroke-width="0.9" />
<line x1="341.15" y1="388.5" x2="341.15" y2="391.3" stroke="#303030" stroke-width="0.9" />
<line x1="343.86" y1="388.5" x2="343.86" y2="391.3" stroke="#303030" stroke-width="0.9" />
<line x1="346.26" y1="388.5" x2="346.26" y2="391.3" stroke="#303030" stroke-width="0.9" />
<line x1="348.4" y1="388.5" x2="348.4" y2="392.5" stroke="#303030" stroke-width="1.1" />
<line x1="362.49" y1="388.5" x2="362.49" y2="391.3" stroke="#303030" stroke-width="0.9" />
<line x1="370.73" y1="388.5" x2="370.73" y2="391.3" stroke="#303030" stroke-width="0.9" />
<line x1="376.58" y1="388.5" x2="376.58" y2="391.3" stroke="#303030" stroke-width="0.9" />
<line x1="381.11" y1="388.5" x2="381.11" y2="391.3" stroke="#303030" stroke-width="0.9" />
<line x1="384.82" y1="388.5" x2="384.82" y2="391.3" stroke="#303030" stroke-width="0.9" />
<line x1="387.95" y1="388.5" x2="387.95" y2="391.3" stroke="#303030" stroke-width="0.9" />
<line x1="390.66" y1="388.5" x2="390.66" y2="391.3" stroke="#303030" stroke-width="0.9" />
<line x1="393.06" y1="388.5" x2="393.06" y2="391.3" stroke="#303030" stroke-width="0.9" />
<line x1="395.2" y1="388.5" x2="395.2" y2="392.5" stroke="#303030" stroke-width="1.1" />
<line x1="409.29" y1="388.5" x2="409.29" y2="391.3" stroke="#303030" stroke-width="0.9" />
<line x1="417.53" y1="388.5" x2="417.53" y2="391.3" stroke="#303030" stroke-width="0.9" />
<line x1="423.38" y1="388.5" x2="423.38" y2="391.3" stroke="#303030" stroke-width="0.9" />
<line x1="427.91" y1="388.5" x2="427.91" y2="391.3" stroke="#303030" stroke-width="0.9" />
<line x1="431.62" y1="388.5" x2="431.62" y2="391.3" stroke="#303030" stroke-width="0.9" />
<line x1="434.75" y1="388.5" x2="434.75" y2="391.3" stroke="#303030" stroke-width="0.9" />
<line x1="437.46" y1="388.5" x2="437.46" y2="391.3" stroke="#303030" stroke-width="0.9" />
<line x1="439.86" y1="388.5" x2="439.86" y2="391.3" stroke="#303030" stroke-width="0.9" />
<line x1="442" y1="388.5" x2="442" y2="392.5" stroke="#303030" stroke-width="1.1" />
<text x="301.6" y="401.2" font-family='"Liberation Sans", sans-serif' fill="#2b2b2b" text-anchor="middle"><tspan font-size="8.7">10</tspan><tspan font-size="5.92" dy="-3.1">0</tspan></text>
<text x="348.4" y="401.2" font-family='"Liberation Sans", sans-serif' fill="#2b2b2b" text-anchor="middle"><tspan font-size="8.7">10</tspan><tspan font-size="5.92" dy="-3.1">1</tspan></text>
<text x="395.2" y="401.2" font-family='"Liberation Sans", sans-serif' fill="#2b2b2b" text-anchor="middle"><tspan font-size="8.7">10</tspan><tspan font-size="5.92" dy="-3.1">2</tspan></text>
<text x="442" y="401.2" font-family='"Liberation Sans", sans-serif' fill="#2b2b2b" text-anchor="middle"><tspan font-size="8.7">10</tspan><tspan font-size="5.92" dy="-3.1">3</tspan></text>
<text x="351.6" y="412.2" font-size="11.8" text-anchor="middle" font-family='"Liberation Sans", sans-serif' fill="#2b2b2b" textLength="33" lengthAdjust="spacingAndGlyphs">w (<tspan font-style="italic">μ</tspan>s)</text>
<text x="420.8" y="234.6" font-size="24.8" text-anchor="start" font-weight="bold" font-style="normal" font-family='"Liberation Sans", sans-serif' fill="#000" style="stroke:#000;stroke-width:1.0px">D</text>
<rect x="282.5" y="287.6" width="47.1" height="45.9" fill="#fff" stroke="#303030" stroke-width="0.9"/>
<line x1="283.1" y1="328.3" x2="329" y2="290" stroke="#3a86b8" stroke-width="0.8" />
<circle cx="286.5" cy="325.3" r="1.7" fill="#1f77b4"/>
<circle cx="296.9" cy="315.3" r="1.7" fill="#ff7f0e"/>
<circle cx="309.2" cy="308.6" r="1.7" fill="#2ca02c"/>
<circle cx="326.2" cy="291.6" r="1.7" fill="#d62728"/>
<line x1="280.5" y1="300.5" x2="282.5" y2="300.5" stroke="#303030" stroke-width="0.7" />
<text x="279.5" y="302.7" font-size="6.3" text-anchor="end" font-weight="normal" font-style="normal" font-family='"Liberation Sans", sans-serif' fill="#2b2b2b" >0.4</text>
<line x1="280.5" y1="316.7" x2="282.5" y2="316.7" stroke="#303030" stroke-width="0.7" />
<text x="279.5" y="318.9" font-size="6.3" text-anchor="end" font-weight="normal" font-style="normal" font-family='"Liberation Sans", sans-serif' fill="#2b2b2b" >0.2</text>
<line x1="294.8" y1="333.5" x2="294.8" y2="335.5" stroke="#303030" stroke-width="0.7" />
<text x="294.8" y="341" font-size="6.3" text-anchor="middle" font-weight="normal" font-style="normal" font-family='"Liberation Sans", sans-serif' fill="#2b2b2b" >0.08</text>
<line x1="310.4" y1="333.5" x2="310.4" y2="335.5" stroke="#303030" stroke-width="0.7" />
<text x="310.4" y="341" font-size="6.3" text-anchor="middle" font-weight="normal" font-style="normal" font-family='"Liberation Sans", sans-serif' fill="#2b2b2b" >0.18</text>
<line x1="326.5" y1="333.5" x2="326.5" y2="335.5" stroke="#303030" stroke-width="0.7" />
<text x="326.5" y="341" font-size="6.3" text-anchor="middle" font-weight="normal" font-style="normal" font-family='"Liberation Sans", sans-serif' fill="#2b2b2b" >0.28</text>
<text x="305.5" y="346.8" font-size="7.2" text-anchor="middle" font-family='"Liberation Sans", sans-serif' fill="#2b2b2b"><tspan font-style="italic">O</tspan><tspan font-size="5" dy="1.5">2</tspan><tspan dy="-1.5"> [mM]</tspan></text>
<text x="269" y="311" font-size="7.2" text-anchor="middle" font-family='"Liberation Sans", sans-serif' fill="#2b2b2b" transform="rotate(-90 269 311)"><tspan font-style="italic">k</tspan><tspan font-size="5" dy="1.5" font-style="italic">T</tspan></text>
<g clip-path="url(#cE)">
<path d="M476.64,214.41 L477.49,214.41 L478.35,214.41 L479.2,214.46 L480.06,214.63 L480.91,214.81 L481.77,214.99 L482.62,215.16 L483.48,215.35 L484.33,215.53 L485.19,215.72 L486.04,215.91 L486.9,216.11 L487.75,216.31 L488.61,216.52 L489.46,216.74 L490.32,216.96 L491.17,217.19 L492.03,217.43 L492.88,217.68 L493.74,217.94 L494.59,218.2 L495.45,218.48 L496.3,218.77 L497.16,219.08 L498.01,219.4 L498.86,219.73 L499.72,220.07 L500.57,220.43 L501.43,220.81 L502.28,221.21 L503.14,221.62 L503.99,222.06 L504.85,222.51 L505.7,222.98 L506.56,223.47 L507.41,223.99 L508.27,224.53 L509.12,225.09 L509.98,225.68 L510.83,226.28 L511.69,226.91 L512.54,227.57 L513.4,228.24 L514.25,228.94 L515.11,229.65 L515.96,230.39 L516.82,231.15 L517.67,231.92 L518.52,232.72 L519.38,233.54 L520.23,234.38 L521.09,235.24 L521.94,236.11 L522.8,237 L523.65,237.92 L524.51,238.84 L525.36,239.78 L526.22,240.73 L527.07,241.69 L527.93,242.66 L528.78,243.63 L529.64,244.6 L530.49,245.58 L531.35,246.55 L532.2,247.52 L533.06,248.48 L533.91,249.44 L534.77,250.39 L535.62,251.32 L536.48,252.25 L537.33,253.16 L538.19,254.05 L539.04,254.93 L539.89,255.8 L540.75,256.66 L541.6,257.51 L542.46,258.34 L543.31,259.16 L544.17,259.97 L545.02,260.78 L545.88,261.56 L546.73,262.34 L547.59,263.11 L548.44,263.87 L549.3,264.62 L550.15,265.36 L551.01,266.1 L551.86,266.82 L552.72,267.53 L553.57,268.23 L554.43,268.92 L555.28,269.6 L556.14,270.27 L556.99,270.93 L557.85,271.58 L558.7,272.21 L559.56,272.84 L560.41,273.45 L561.26,274.04 L562.12,274.63 L562.97,275.2 L563.83,275.76 L564.68,276.3 L565.54,276.83 L566.39,277.35 L567.25,277.85 L568.1,278.34 L568.96,278.82 L569.81,279.28 L570.67,279.73 L571.52,280.17 L572.38,280.59 L573.23,281 L574.09,281.4 L574.94,281.79 L575.8,282.16 L576.65,282.52 L577.51,282.86 L578.36,283.2 L579.22,283.52 L580.07,283.82 L580.92,284.12 L581.78,284.4 L582.63,284.67 L583.49,284.93 L584.34,285.18 L585.2,285.41 L586.05,285.63 L586.91,285.84 L587.76,286.04 L588.62,286.22 L589.47,286.4 L590.33,286.56 L591.18,286.71 L592.04,286.85 L592.89,286.98 L593.75,287.09 L594.6,287.2 L595.46,287.3 L596.31,287.39 L597.17,287.48 L598.02,287.55 L598.88,287.62 L599.73,287.69 L600.59,287.75 L601.44,287.8 L602.29,287.85 L603.15,287.9 L604,287.94 L604.86,287.98 L605.71,288.02 L606.57,288.06 L607.42,288.1 L608.28,288.13 L609.13,288.17 L609.99,288.21 L610.84,288.24 L611.7,288.28 L612.55,288.31 L613.41,288.35 L614.26,288.38 L615.12,288.42 L615.97,288.45 L616.83,288.49 L617.68,288.52 L618.54,288.56 L619.39,288.59 L620.25,288.62 L621.1,288.66 L621.96,288.69 L622.81,288.73 L623.66,288.76 L624.52,288.8 L625.37,288.83 L626.23,288.86 L627.08,288.9 L627.94,288.93 L628.79,288.97 L629.65,289 L630.5,289.04 L631.36,289.07 L632.21,289.11 L633.07,289.14 L633.92,289.17 L634.78,289.21 L635.63,289.24 L636.49,289.28 L637.34,289.31 L638.2,289.35 L639.05,289.38 L639.91,289.41 L640.76,289.45 L641.62,289.48 L642.47,289.52 L643.32,289.55 L644.18,289.59 L645.03,289.62 L645.89,289.66 L646.74,289.69 L647.6,289.72 L648.45,289.76 L649.31,289.79 L650.16,289.83 L651.02,289.86 L651.87,289.9 L652.73,289.93 L653.58,289.97 L654.44,290 L655.29,290.03 L656.15,290.07 L657,290.1 L657.86,290.14 L658.71,290.17 L659.57,290.21 L660.42,290.24 L661.28,290.28 L662.13,290.31 L662.99,290.34 L663.84,290.38" fill="none" stroke="#1f77b4" stroke-width="1.6" stroke-linejoin="round" />
<circle cx="485.53" cy="215.61" r="1.75" fill="#1f77b4"/>
<circle cx="492.13" cy="217.58" r="1.75" fill="#1f77b4"/>
<circle cx="498.73" cy="219.03" r="1.75" fill="#1f77b4"/>
<circle cx="505.33" cy="221.96" r="1.75" fill="#1f77b4"/>
<circle cx="511.93" cy="225.87" r="1.75" fill="#1f77b4"/>
<circle cx="518.53" cy="231.86" r="1.75" fill="#1f77b4"/>
<circle cx="525.12" cy="239.39" r="1.75" fill="#1f77b4"/>
<circle cx="531.72" cy="246.6" r="1.75" fill="#1f77b4"/>
<circle cx="538.32" cy="253.29" r="1.75" fill="#1f77b4"/>
<circle cx="544.92" cy="260.09" r="1.75" fill="#1f77b4"/>
<circle cx="551.52" cy="266.15" r="1.75" fill="#1f77b4"/>
<circle cx="558.12" cy="271.63" r="1.75" fill="#1f77b4"/>
<circle cx="564.72" cy="275.63" r="1.75" fill="#1f77b4"/>
<circle cx="571.32" cy="279.54" r="1.75" fill="#1f77b4"/>
<circle cx="577.92" cy="281.71" r="1.75" fill="#1f77b4"/>
<circle cx="584.51" cy="284.25" r="1.75" fill="#1f77b4"/>
<circle cx="591.11" cy="287.11" r="1.75" fill="#1f77b4"/>
<circle cx="597.71" cy="286.03" r="1.75" fill="#1f77b4"/>
<circle cx="604.31" cy="287.39" r="1.75" fill="#1f77b4"/>
<circle cx="610.91" cy="287.95" r="1.75" fill="#1f77b4"/>
<circle cx="617.51" cy="287.93" r="1.75" fill="#1f77b4"/>
<circle cx="624.11" cy="287.98" r="1.75" fill="#1f77b4"/>
<circle cx="630.71" cy="288.61" r="1.75" fill="#1f77b4"/>
<circle cx="637.3" cy="288.91" r="1.75" fill="#1f77b4"/>
<circle cx="643.9" cy="289.14" r="1.75" fill="#1f77b4"/>
<circle cx="650.5" cy="288.5" r="1.75" fill="#1f77b4"/>
<circle cx="657.1" cy="289.63" r="1.75" fill="#1f77b4"/>
<circle cx="663.7" cy="289.55" r="1.75" fill="#1f77b4"/>
<path d="M476.64,214.41 L477.49,214.41 L478.35,214.41 L479.2,214.46 L480.06,214.63 L480.91,214.81 L481.77,214.99 L482.62,215.16 L483.48,215.35 L484.33,215.53 L485.19,215.72 L486.04,215.91 L486.9,216.11 L487.75,216.31 L488.61,216.52 L489.46,216.74 L490.32,216.96 L491.17,217.19 L492.03,217.43 L492.88,217.68 L493.74,217.94 L494.59,218.2 L495.45,218.48 L496.3,218.77 L497.16,219.08 L498.01,219.4 L498.86,219.73 L499.72,220.07 L500.57,220.43 L501.43,220.81 L502.28,221.21 L503.14,221.62 L503.99,222.06 L504.85,222.51 L505.7,222.98 L506.56,223.47 L507.41,223.99 L508.27,224.53 L509.12,225.09 L509.98,225.68 L510.83,226.28 L511.69,226.91 L512.54,227.57 L513.4,228.24 L514.25,228.94 L515.11,229.65 L515.96,230.39 L516.82,231.15 L517.67,231.93 L518.52,232.72 L519.38,233.54 L520.23,234.38 L521.09,235.24 L521.94,236.11 L522.8,237.01 L523.65,237.92 L524.51,238.84 L525.36,239.78 L526.22,240.73 L527.07,241.69 L527.93,242.66 L528.78,243.63 L529.64,244.61 L530.49,245.58 L531.35,246.55 L532.2,247.52 L533.06,248.49 L533.91,249.44 L534.77,250.39 L535.62,251.33 L536.48,252.25 L537.33,253.16 L538.19,254.05 L539.04,254.94 L539.89,255.81 L540.75,256.66 L541.6,257.51 L542.46,258.34 L543.31,259.16 L544.17,259.97 L545.02,260.77 L545.88,261.56 L546.73,262.34 L547.59,263.11 L548.44,263.87 L549.3,264.61 L550.15,265.35 L551.01,266.08 L551.86,266.8 L552.72,267.51 L553.57,268.21 L554.43,268.9 L555.28,269.58 L556.14,270.25 L556.99,270.9 L557.85,271.55 L558.7,272.18 L559.56,272.8 L560.41,273.41 L561.26,274 L562.12,274.58 L562.97,275.15 L563.83,275.71 L564.68,276.25 L565.54,276.77 L566.39,277.29 L567.25,277.79 L568.1,278.28 L568.96,278.75 L569.81,279.21 L570.67,279.66 L571.52,280.1 L572.38,280.52 L573.23,280.93 L574.09,281.33 L574.94,281.72 L575.8,282.09 L576.65,282.46 L577.51,282.81 L578.36,283.15 L579.22,283.48 L580.07,283.8 L580.92,284.11 L581.78,284.41 L582.63,284.7 L583.49,284.97 L584.34,285.24 L585.2,285.5 L586.05,285.75 L586.91,285.99 L587.76,286.22 L588.62,286.44 L589.47,286.65 L590.33,286.85 L591.18,287.05 L592.04,287.24 L592.89,287.42 L593.75,287.59 L594.6,287.76 L595.46,287.92 L596.31,288.07 L597.17,288.22 L598.02,288.36 L598.88,288.5 L599.73,288.63 L600.59,288.76 L601.44,288.88 L602.29,289 L603.15,289.11 L604,289.22 L604.86,289.33 L605.71,289.43 L606.57,289.53 L607.42,289.63 L608.28,289.73 L609.13,289.83 L609.99,289.92 L610.84,290.01 L611.7,290.1 L612.55,290.19 L613.41,290.28 L614.26,290.37 L615.12,290.45 L615.97,290.54 L616.83,290.62 L617.68,290.7 L618.54,290.78 L619.39,290.87 L620.25,290.95 L621.1,291.03 L621.96,291.11 L622.81,291.19 L623.66,291.27 L624.52,291.35 L625.37,291.43 L626.23,291.51 L627.08,291.59 L627.94,291.67 L628.79,291.76 L629.65,291.84 L630.5,291.92 L631.36,292 L632.21,292.09 L633.07,292.17 L633.92,292.25 L634.78,292.33 L635.63,292.42 L636.49,292.5 L637.34,292.58 L638.2,292.67 L639.05,292.75 L639.91,292.83 L640.76,292.92 L641.62,293 L642.47,293.08 L643.32,293.17 L644.18,293.25 L645.03,293.33 L645.89,293.42 L646.74,293.5 L647.6,293.58 L648.45,293.67 L649.31,293.75 L650.16,293.83 L651.02,293.92 L651.87,294 L652.73,294.08 L653.58,294.16 L654.44,294.25 L655.29,294.33 L656.15,294.41 L657,294.5 L657.86,294.58 L658.71,294.66 L659.57,294.74 L660.42,294.83 L661.28,294.91 L662.13,294.99 L662.99,295.08 L663.84,295.16" fill="none" stroke="#ff7f0e" stroke-width="1.6" stroke-linejoin="round" />
<circle cx="485.53" cy="215.12" r="1.75" fill="#ff7f0e"/>
<circle cx="492.13" cy="217.17" r="1.75" fill="#ff7f0e"/>
<circle cx="498.73" cy="219.59" r="1.75" fill="#ff7f0e"/>
<circle cx="505.33" cy="222.82" r="1.75" fill="#ff7f0e"/>
<circle cx="511.93" cy="226.45" r="1.75" fill="#ff7f0e"/>
<circle cx="518.53" cy="232.79" r="1.75" fill="#ff7f0e"/>
<circle cx="525.12" cy="239.71" r="1.75" fill="#ff7f0e"/>
<circle cx="531.72" cy="247.15" r="1.75" fill="#ff7f0e"/>
<circle cx="538.32" cy="254.49" r="1.75" fill="#ff7f0e"/>
<circle cx="544.92" cy="260.2" r="1.75" fill="#ff7f0e"/>
<circle cx="551.52" cy="266.03" r="1.75" fill="#ff7f0e"/>
<circle cx="558.12" cy="271.76" r="1.75" fill="#ff7f0e"/>
<circle cx="564.72" cy="275.18" r="1.75" fill="#ff7f0e"/>
<circle cx="571.32" cy="279.7" r="1.75" fill="#ff7f0e"/>
<circle cx="577.92" cy="282.31" r="1.75" fill="#ff7f0e"/>
<circle cx="584.51" cy="284.71" r="1.75" fill="#ff7f0e"/>
<circle cx="591.11" cy="285.76" r="1.75" fill="#ff7f0e"/>
<circle cx="597.71" cy="287.47" r="1.75" fill="#ff7f0e"/>
<circle cx="604.31" cy="288.85" r="1.75" fill="#ff7f0e"/>
<circle cx="610.91" cy="290.06" r="1.75" fill="#ff7f0e"/>
<circle cx="617.51" cy="290.78" r="1.75" fill="#ff7f0e"/>
<circle cx="624.11" cy="290.87" r="1.75" fill="#ff7f0e"/>
<circle cx="630.71" cy="291.45" r="1.75" fill="#ff7f0e"/>
<circle cx="637.3" cy="291.77" r="1.75" fill="#ff7f0e"/>
<circle cx="643.9" cy="293.02" r="1.75" fill="#ff7f0e"/>
<circle cx="650.5" cy="293.34" r="1.75" fill="#ff7f0e"/>
<circle cx="657.1" cy="294.41" r="1.75" fill="#ff7f0e"/>
<circle cx="663.7" cy="295.62" r="1.75" fill="#ff7f0e"/>
<path d="M476.64,214.41 L477.49,214.41 L478.35,214.41 L479.2,214.46 L480.06,214.63 L480.91,214.81 L481.77,214.99 L482.62,215.16 L483.48,215.35 L484.33,215.53 L485.19,215.72 L486.04,215.91 L486.9,216.11 L487.75,216.31 L488.61,216.52 L489.46,216.74 L490.32,216.96 L491.17,217.19 L492.03,217.43 L492.88,217.68 L493.74,217.94 L494.59,218.2 L495.45,218.48 L496.3,218.77 L497.16,219.08 L498.01,219.39 L498.86,219.73 L499.72,220.07 L500.57,220.43 L501.43,220.81 L502.28,221.21 L503.14,221.62 L503.99,222.06 L504.85,222.51 L505.7,222.98 L506.56,223.47 L507.41,223.99 L508.27,224.53 L509.12,225.09 L509.98,225.68 L510.83,226.28 L511.69,226.91 L512.54,227.57 L513.4,228.24 L514.25,228.94 L515.11,229.65 L515.96,230.39 L516.82,231.15 L517.67,231.93 L518.52,232.73 L519.38,233.54 L520.23,234.38 L521.09,235.24 L521.94,236.11 L522.8,237.01 L523.65,237.92 L524.51,238.85 L525.36,239.79 L526.22,240.74 L527.07,241.7 L527.93,242.66 L528.78,243.64 L529.64,244.61 L530.49,245.59 L531.35,246.56 L532.2,247.53 L533.06,248.49 L533.91,249.45 L534.77,250.4 L535.62,251.33 L536.48,252.25 L537.33,253.16 L538.19,254.06 L539.04,254.94 L539.89,255.81 L540.75,256.67 L541.6,257.51 L542.46,258.34 L543.31,259.16 L544.17,259.97 L545.02,260.77 L545.88,261.56 L546.73,262.34 L547.59,263.1 L548.44,263.86 L549.3,264.61 L550.15,265.34 L551.01,266.07 L551.86,266.79 L552.72,267.49 L553.57,268.19 L554.43,268.87 L555.28,269.55 L556.14,270.21 L556.99,270.86 L557.85,271.5 L558.7,272.13 L559.56,272.74 L560.41,273.35 L561.26,273.94 L562.12,274.51 L562.97,275.07 L563.83,275.62 L564.68,276.16 L565.54,276.68 L566.39,277.19 L567.25,277.68 L568.1,278.16 L568.96,278.63 L569.81,279.09 L570.67,279.53 L571.52,279.97 L572.38,280.39 L573.23,280.8 L574.09,281.2 L574.94,281.58 L575.8,281.96 L576.65,282.33 L577.51,282.69 L578.36,283.04 L579.22,283.38 L580.07,283.71 L580.92,284.03 L581.78,284.35 L582.63,284.66 L583.49,284.96 L584.34,285.25 L585.2,285.55 L586.05,285.83 L586.91,286.11 L587.76,286.39 L588.62,286.66 L589.47,286.93 L590.33,287.2 L591.18,287.47 L592.04,287.73 L592.89,287.99 L593.75,288.25 L594.6,288.51 L595.46,288.77 L596.31,289.02 L597.17,289.28 L598.02,289.53 L598.88,289.78 L599.73,290.03 L600.59,290.29 L601.44,290.54 L602.29,290.79 L603.15,291.04 L604,291.28 L604.86,291.53 L605.71,291.78 L606.57,292.03 L607.42,292.28 L608.28,292.53 L609.13,292.78 L609.99,293.03 L610.84,293.29 L611.7,293.54 L612.55,293.79 L613.41,294.04 L614.26,294.29 L615.12,294.54 L615.97,294.8 L616.83,295.05 L617.68,295.3 L618.54,295.56 L619.39,295.81 L620.25,296.06 L621.1,296.32 L621.96,296.57 L622.81,296.82 L623.66,297.07 L624.52,297.33 L625.37,297.58 L626.23,297.83 L627.08,298.09 L627.94,298.34 L628.79,298.59 L629.65,298.84 L630.5,299.09 L631.36,299.34 L632.21,299.59 L633.07,299.84 L633.92,300.08 L634.78,300.33 L635.63,300.57 L636.49,300.81 L637.34,301.06 L638.2,301.29 L639.05,301.53 L639.91,301.77 L640.76,302 L641.62,302.24 L642.47,302.47 L643.32,302.69 L644.18,302.92 L645.03,303.15 L645.89,303.37 L646.74,303.59 L647.6,303.81 L648.45,304.03 L649.31,304.24 L650.16,304.46 L651.02,304.67 L651.87,304.88 L652.73,305.1 L653.58,305.31 L654.44,305.52 L655.29,305.72 L656.15,305.93 L657,306.14 L657.86,306.35 L658.71,306.55 L659.57,306.76 L660.42,306.96 L661.28,307.17 L662.13,307.37 L662.99,307.57 L663.84,307.78" fill="none" stroke="#2ca02c" stroke-width="1.6" stroke-linejoin="round" />
<circle cx="485.53" cy="215.38" r="1.75" fill="#2ca02c"/>
<circle cx="492.13" cy="216.31" r="1.75" fill="#2ca02c"/>
<circle cx="498.73" cy="218.84" r="1.75" fill="#2ca02c"/>
<circle cx="505.33" cy="221.64" r="1.75" fill="#2ca02c"/>
<circle cx="511.93" cy="226.1" r="1.75" fill="#2ca02c"/>
<circle cx="518.53" cy="232.98" r="1.75" fill="#2ca02c"/>
<circle cx="525.12" cy="239.24" r="1.75" fill="#2ca02c"/>
<circle cx="531.72" cy="245.83" r="1.75" fill="#2ca02c"/>
<circle cx="538.32" cy="254.13" r="1.75" fill="#2ca02c"/>
<circle cx="544.92" cy="260.91" r="1.75" fill="#2ca02c"/>
<circle cx="551.52" cy="265.92" r="1.75" fill="#2ca02c"/>
<circle cx="558.12" cy="270.97" r="1.75" fill="#2ca02c"/>
<circle cx="564.72" cy="275.61" r="1.75" fill="#2ca02c"/>
<circle cx="571.32" cy="279.6" r="1.75" fill="#2ca02c"/>
<circle cx="577.92" cy="282.78" r="1.75" fill="#2ca02c"/>
<circle cx="584.51" cy="285.5" r="1.75" fill="#2ca02c"/>
<circle cx="591.11" cy="287.65" r="1.75" fill="#2ca02c"/>
<circle cx="597.71" cy="289.63" r="1.75" fill="#2ca02c"/>
<circle cx="604.31" cy="291.65" r="1.75" fill="#2ca02c"/>
<circle cx="610.91" cy="293.24" r="1.75" fill="#2ca02c"/>
<circle cx="617.51" cy="294.09" r="1.75" fill="#2ca02c"/>
<circle cx="624.11" cy="296.74" r="1.75" fill="#2ca02c"/>
<circle cx="630.71" cy="298.91" r="1.75" fill="#2ca02c"/>
<circle cx="637.3" cy="300.45" r="1.75" fill="#2ca02c"/>
<circle cx="643.9" cy="302.9" r="1.75" fill="#2ca02c"/>
<circle cx="650.5" cy="303.96" r="1.75" fill="#2ca02c"/>
<circle cx="657.1" cy="305.3" r="1.75" fill="#2ca02c"/>
<circle cx="663.7" cy="308.07" r="1.75" fill="#2ca02c"/>
<path d="M476.64,214.41 L477.49,214.41 L478.35,214.41 L479.2,214.46 L480.06,214.63 L480.91,214.81 L481.77,214.99 L482.62,215.16 L483.48,215.35 L484.33,215.53 L485.19,215.72 L486.04,215.91 L486.9,216.11 L487.75,216.31 L488.61,216.52 L489.46,216.74 L490.32,216.96 L491.17,217.19 L492.03,217.43 L492.88,217.68 L493.74,217.94 L494.59,218.2 L495.45,218.48 L496.3,218.77 L497.16,219.08 L498.01,219.39 L498.86,219.73 L499.72,220.07 L500.57,220.43 L501.43,220.81 L502.28,221.21 L503.14,221.62 L503.99,222.06 L504.85,222.51 L505.7,222.98 L506.56,223.47 L507.41,223.99 L508.27,224.53 L509.12,225.09 L509.98,225.68 L510.83,226.29 L511.69,226.92 L512.54,227.57 L513.4,228.24 L514.25,228.94 L515.11,229.65 L515.96,230.39 L516.82,231.15 L517.67,231.93 L518.52,232.73 L519.38,233.55 L520.23,234.38 L521.09,235.24 L521.94,236.12 L522.8,237.01 L523.65,237.92 L524.51,238.85 L525.36,239.79 L526.22,240.74 L527.07,241.7 L527.93,242.67 L528.78,243.64 L529.64,244.61 L530.49,245.59 L531.35,246.56 L532.2,247.53 L533.06,248.5 L533.91,249.45 L534.77,250.4 L535.62,251.34 L536.48,252.26 L537.33,253.17 L538.19,254.06 L539.04,254.94 L539.89,255.81 L540.75,256.67 L541.6,257.51 L542.46,258.35 L543.31,259.17 L544.17,259.97 L545.02,260.77 L545.88,261.56 L546.73,262.33 L547.59,263.1 L548.44,263.85 L549.3,264.6 L550.15,265.33 L551.01,266.06 L551.86,266.78 L552.72,267.48 L553.57,268.17 L554.43,268.86 L555.28,269.53 L556.14,270.19 L556.99,270.84 L557.85,271.47 L558.7,272.1 L559.56,272.71 L560.41,273.31 L561.26,273.89 L562.12,274.47 L562.97,275.03 L563.83,275.57 L564.68,276.1 L565.54,276.62 L566.39,277.12 L567.25,277.61 L568.1,278.09 L568.96,278.56 L569.81,279.01 L570.67,279.45 L571.52,279.88 L572.38,280.3 L573.23,280.71 L574.09,281.11 L574.94,281.5 L575.8,281.88 L576.65,282.26 L577.51,282.62 L578.36,282.97 L579.22,283.32 L580.07,283.66 L580.92,283.99 L581.78,284.32 L582.63,284.64 L583.49,284.96 L584.34,285.27 L585.2,285.58 L586.05,285.89 L586.91,286.2 L587.76,286.51 L588.62,286.81 L589.47,287.12 L590.33,287.43 L591.18,287.74 L592.04,288.05 L592.89,288.36 L593.75,288.67 L594.6,288.99 L595.46,289.31 L596.31,289.63 L597.17,289.95 L598.02,290.27 L598.88,290.59 L599.73,290.92 L600.59,291.25 L601.44,291.57 L602.29,291.9 L603.15,292.24 L604,292.57 L604.86,292.9 L605.71,293.24 L606.57,293.57 L607.42,293.91 L608.28,294.25 L609.13,294.59 L609.99,294.94 L610.84,295.28 L611.7,295.62 L612.55,295.97 L613.41,296.31 L614.26,296.65 L615.12,297 L615.97,297.34 L616.83,297.68 L617.68,298.02 L618.54,298.36 L619.39,298.7 L620.25,299.04 L621.1,299.38 L621.96,299.71 L622.81,300.05 L623.66,300.38 L624.52,300.7 L625.37,301.03 L626.23,301.35 L627.08,301.67 L627.94,301.99 L628.79,302.3 L629.65,302.61 L630.5,302.92 L631.36,303.23 L632.21,303.53 L633.07,303.83 L633.92,304.13 L634.78,304.42 L635.63,304.72 L636.49,305 L637.34,305.29 L638.2,305.57 L639.05,305.85 L639.91,306.13 L640.76,306.4 L641.62,306.67 L642.47,306.94 L643.32,307.2 L644.18,307.46 L645.03,307.72 L645.89,307.98 L646.74,308.23 L647.6,308.48 L648.45,308.73 L649.31,308.98 L650.16,309.22 L651.02,309.46 L651.87,309.7 L652.73,309.94 L653.58,310.18 L654.44,310.41 L655.29,310.65 L656.15,310.88 L657,311.11 L657.86,311.34 L658.71,311.57 L659.57,311.8 L660.42,312.03 L661.28,312.26 L662.13,312.48 L662.99,312.71 L663.84,312.94" fill="none" stroke="#d62728" stroke-width="1.6" stroke-linejoin="round" />
<circle cx="485.53" cy="215.73" r="1.75" fill="#d62728"/>
<circle cx="492.13" cy="217.17" r="1.75" fill="#d62728"/>
<circle cx="498.73" cy="219.74" r="1.75" fill="#d62728"/>
<circle cx="505.33" cy="222.9" r="1.75" fill="#d62728"/>
<circle cx="511.93" cy="226.87" r="1.75" fill="#d62728"/>
<circle cx="518.53" cy="231.1" r="1.75" fill="#d62728"/>
<circle cx="525.12" cy="238.79" r="1.75" fill="#d62728"/>
<circle cx="531.72" cy="246.36" r="1.75" fill="#d62728"/>
<circle cx="538.32" cy="253.31" r="1.75" fill="#d62728"/>
<circle cx="544.92" cy="260.38" r="1.75" fill="#d62728"/>
<circle cx="551.52" cy="266.69" r="1.75" fill="#d62728"/>
<circle cx="558.12" cy="271.03" r="1.75" fill="#d62728"/>
<circle cx="564.72" cy="275.16" r="1.75" fill="#d62728"/>
<circle cx="571.32" cy="280.4" r="1.75" fill="#d62728"/>
<circle cx="577.92" cy="282.16" r="1.75" fill="#d62728"/>
<circle cx="584.51" cy="284.32" r="1.75" fill="#d62728"/>
<circle cx="591.11" cy="287.43" r="1.75" fill="#d62728"/>
<circle cx="597.71" cy="289.97" r="1.75" fill="#d62728"/>
<circle cx="604.31" cy="291.93" r="1.75" fill="#d62728"/>
<circle cx="610.91" cy="295.3" r="1.75" fill="#d62728"/>
<circle cx="617.51" cy="297.31" r="1.75" fill="#d62728"/>
<circle cx="624.11" cy="299.68" r="1.75" fill="#d62728"/>
<circle cx="630.71" cy="302.68" r="1.75" fill="#d62728"/>
<circle cx="637.3" cy="305.26" r="1.75" fill="#d62728"/>
<circle cx="643.9" cy="306.66" r="1.75" fill="#d62728"/>
<circle cx="650.5" cy="309.08" r="1.75" fill="#d62728"/>
<circle cx="657.1" cy="310.69" r="1.75" fill="#d62728"/>
<circle cx="663.7" cy="313.91" r="1.75" fill="#d62728"/>
<path d="M476.64,214.41 L477.49,214.41 L478.35,214.41 L479.2,214.46 L480.06,214.63 L480.91,214.81 L481.77,214.99 L482.62,215.16 L483.48,215.35 L484.33,215.53 L485.19,215.72 L486.04,215.91 L486.9,216.11 L487.75,216.31 L488.61,216.52 L489.46,216.74 L490.32,216.96 L491.17,217.19 L492.03,217.43 L492.88,217.68 L493.74,217.94 L494.59,218.2 L495.45,218.48 L496.3,218.77 L497.16,219.08 L498.01,219.39 L498.86,219.73 L499.72,220.07 L500.57,220.43 L501.43,220.81 L502.28,221.21 L503.14,221.62 L503.99,222.06 L504.85,222.51 L505.7,222.98 L506.56,223.48 L507.41,223.99 L508.27,224.53 L509.12,225.09 L509.98,225.68 L510.83,226.29 L511.69,226.92 L512.54,227.57 L513.4,228.24 L514.25,228.94 L515.11,229.66 L515.96,230.39 L516.82,231.15 L517.67,231.93 L518.52,232.73 L519.38,233.55 L520.23,234.39 L521.09,235.24 L521.94,236.12 L522.8,237.01 L523.65,237.93 L524.51,238.85 L525.36,239.79 L526.22,240.74 L527.07,241.7 L527.93,242.67 L528.78,243.64 L529.64,244.62 L530.49,245.59 L531.35,246.57 L532.2,247.54 L533.06,248.5 L533.91,249.46 L534.77,250.4 L535.62,251.34 L536.48,252.26 L537.33,253.17 L538.19,254.06 L539.04,254.94 L539.89,255.81 L540.75,256.67 L541.6,257.51 L542.46,258.34 L543.31,259.16 L544.17,259.97 L545.02,260.76 L545.88,261.55 L546.73,262.32 L547.59,263.08 L548.44,263.84 L549.3,264.58 L550.15,265.31 L551.01,266.03 L551.86,266.75 L552.72,267.45 L553.57,268.14 L554.43,268.82 L555.28,269.49 L556.14,270.14 L556.99,270.79 L557.85,271.42 L558.7,272.04 L559.56,272.65 L560.41,273.25 L561.26,273.83 L562.12,274.4 L562.97,274.95 L563.83,275.5 L564.68,276.03 L565.54,276.54 L566.39,277.04 L567.25,277.53 L568.1,278.01 L568.96,278.48 L569.81,278.94 L570.67,279.38 L571.52,279.82 L572.38,280.24 L573.23,280.66 L574.09,281.07 L574.94,281.47 L575.8,281.86 L576.65,282.25 L577.51,282.63 L578.36,283 L579.22,283.37 L580.07,283.74 L580.92,284.1 L581.78,284.46 L582.63,284.81 L583.49,285.17 L584.34,285.52 L585.2,285.88 L586.05,286.23 L586.91,286.59 L587.76,286.95 L588.62,287.31 L589.47,287.68 L590.33,288.06 L591.18,288.43 L592.04,288.82 L592.89,289.21 L593.75,289.6 L594.6,290 L595.46,290.41 L596.31,290.82 L597.17,291.23 L598.02,291.65 L598.88,292.08 L599.73,292.51 L600.59,292.95 L601.44,293.39 L602.29,293.84 L603.15,294.29 L604,294.75 L604.86,295.21 L605.71,295.68 L606.57,296.15 L607.42,296.63 L608.28,297.11 L609.13,297.6 L609.99,298.09 L610.84,298.59 L611.7,299.09 L612.55,299.59 L613.41,300.1 L614.26,300.61 L615.12,301.12 L615.97,301.64 L616.83,302.15 L617.68,302.67 L618.54,303.19 L619.39,303.71 L620.25,304.24 L621.1,304.76 L621.96,305.28 L622.81,305.81 L623.66,306.33 L624.52,306.86 L625.37,307.38 L626.23,307.9 L627.08,308.42 L627.94,308.94 L628.79,309.46 L629.65,309.97 L630.5,310.49 L631.36,311 L632.21,311.5 L633.07,312.01 L633.92,312.51 L634.78,313 L635.63,313.49 L636.49,313.98 L637.34,314.46 L638.2,314.94 L639.05,315.41 L639.91,315.87 L640.76,316.33 L641.62,316.78 L642.47,317.22 L643.32,317.66 L644.18,318.09 L645.03,318.52 L645.89,318.94 L646.74,319.35 L647.6,319.76 L648.45,320.16 L649.31,320.56 L650.16,320.95 L651.02,321.34 L651.87,321.73 L652.73,322.11 L653.58,322.49 L654.44,322.86 L655.29,323.23 L656.15,323.6 L657,323.97 L657.86,324.33 L658.71,324.69 L659.57,325.05 L660.42,325.41 L661.28,325.77 L662.13,326.13 L662.99,326.49 L663.84,326.84" fill="none" stroke="#9467bd" stroke-width="1.6" stroke-linejoin="round" />
<circle cx="485.53" cy="215.04" r="1.75" fill="#9467bd"/>
<circle cx="492.13" cy="217.75" r="1.75" fill="#9467bd"/>
<circle cx="498.73" cy="219.25" r="1.75" fill="#9467bd"/>
<circle cx="505.33" cy="222.31" r="1.75" fill="#9467bd"/>
<circle cx="511.93" cy="227.06" r="1.75" fill="#9467bd"/>
<circle cx="518.53" cy="232.78" r="1.75" fill="#9467bd"/>
<circle cx="525.12" cy="239.76" r="1.75" fill="#9467bd"/>
<circle cx="531.72" cy="246.76" r="1.75" fill="#9467bd"/>
<circle cx="538.32" cy="253.5" r="1.75" fill="#9467bd"/>
<circle cx="544.92" cy="260" r="1.75" fill="#9467bd"/>
<circle cx="551.52" cy="266.32" r="1.75" fill="#9467bd"/>
<circle cx="558.12" cy="271.51" r="1.75" fill="#9467bd"/>
<circle cx="564.72" cy="276.35" r="1.75" fill="#9467bd"/>
<circle cx="571.32" cy="279.52" r="1.75" fill="#9467bd"/>
<circle cx="577.92" cy="282.94" r="1.75" fill="#9467bd"/>
<circle cx="584.51" cy="285.95" r="1.75" fill="#9467bd"/>
<circle cx="591.11" cy="288.08" r="1.75" fill="#9467bd"/>
<circle cx="597.71" cy="290.36" r="1.75" fill="#9467bd"/>
<circle cx="604.31" cy="293.92" r="1.75" fill="#9467bd"/>
<circle cx="610.91" cy="297.51" r="1.75" fill="#9467bd"/>
<circle cx="617.51" cy="302.96" r="1.75" fill="#9467bd"/>
<circle cx="624.11" cy="305.78" r="1.75" fill="#9467bd"/>
<circle cx="630.71" cy="310.82" r="1.75" fill="#9467bd"/>
<circle cx="637.3" cy="314.33" r="1.75" fill="#9467bd"/>
<circle cx="643.9" cy="318.41" r="1.75" fill="#9467bd"/>
<circle cx="650.5" cy="321.21" r="1.75" fill="#9467bd"/>
<circle cx="657.1" cy="323.56" r="1.75" fill="#9467bd"/>
<circle cx="663.7" cy="326.28" r="1.75" fill="#9467bd"/>
<path d="M476.64,214.41 L477.49,214.41 L478.35,214.41 L479.2,214.46 L480.06,214.63 L480.91,214.81 L481.77,214.99 L482.62,215.16 L483.48,215.35 L484.33,215.53 L485.19,215.72 L486.04,215.91 L486.9,216.11 L487.75,216.31 L488.61,216.52 L489.46,216.74 L490.32,216.96 L491.17,217.19 L492.03,217.43 L492.88,217.68 L493.74,217.94 L494.59,218.2 L495.45,218.48 L496.3,218.77 L497.16,219.08 L498.01,219.39 L498.86,219.73 L499.72,220.07 L500.57,220.43 L501.43,220.81 L502.28,221.21 L503.14,221.62 L503.99,222.06 L504.85,222.51 L505.7,222.98 L506.56,223.48 L507.41,223.99 L508.27,224.53 L509.12,225.09 L509.98,225.68 L510.83,226.29 L511.69,226.92 L512.54,227.57 L513.4,228.24 L514.25,228.94 L515.11,229.66 L515.96,230.4 L516.82,231.15 L517.67,231.93 L518.52,232.73 L519.38,233.55 L520.23,234.39 L521.09,235.25 L521.94,236.12 L522.8,237.02 L523.65,237.93 L524.51,238.86 L525.36,239.8 L526.22,240.75 L527.07,241.71 L527.93,242.68 L528.78,243.65 L529.64,244.62 L530.49,245.6 L531.35,246.57 L532.2,247.54 L533.06,248.5 L533.91,249.46 L534.77,250.41 L535.62,251.34 L536.48,252.26 L537.33,253.17 L538.19,254.06 L539.04,254.94 L539.89,255.81 L540.75,256.66 L541.6,257.51 L542.46,258.33 L543.31,259.15 L544.17,259.96 L545.02,260.75 L545.88,261.53 L546.73,262.3 L547.59,263.06 L548.44,263.81 L549.3,264.55 L550.15,265.28 L551.01,266 L551.86,266.71 L552.72,267.4 L553.57,268.09 L554.43,268.76 L555.28,269.43 L556.14,270.08 L556.99,270.72 L557.85,271.35 L558.7,271.96 L559.56,272.57 L560.41,273.16 L561.26,273.74 L562.12,274.3 L562.97,274.85 L563.83,275.39 L564.68,275.92 L565.54,276.43 L566.39,276.93 L567.25,277.41 L568.1,277.89 L568.96,278.36 L569.81,278.81 L570.67,279.26 L571.52,279.7 L572.38,280.13 L573.23,280.56 L574.09,280.98 L574.94,281.39 L575.8,281.8 L576.65,282.21 L577.51,282.61 L578.36,283.01 L579.22,283.41 L580.07,283.81 L580.92,284.2 L581.78,284.6 L582.63,285 L583.49,285.4 L584.34,285.81 L585.2,286.22 L586.05,286.64 L586.91,287.07 L587.76,287.5 L588.62,287.94 L589.47,288.4 L590.33,288.86 L591.18,289.33 L592.04,289.82 L592.89,290.32 L593.75,290.82 L594.6,291.34 L595.46,291.86 L596.31,292.4 L597.17,292.94 L598.02,293.49 L598.88,294.04 L599.73,294.6 L600.59,295.17 L601.44,295.75 L602.29,296.33 L603.15,296.91 L604,297.5 L604.86,298.09 L605.71,298.69 L606.57,299.29 L607.42,299.89 L608.28,300.5 L609.13,301.1 L609.99,301.71 L610.84,302.32 L611.7,302.93 L612.55,303.54 L613.41,304.15 L614.26,304.76 L615.12,305.37 L615.97,305.98 L616.83,306.59 L617.68,307.2 L618.54,307.81 L619.39,308.42 L620.25,309.02 L621.1,309.62 L621.96,310.22 L622.81,310.82 L623.66,311.42 L624.52,312.01 L625.37,312.6 L626.23,313.18 L627.08,313.76 L627.94,314.34 L628.79,314.91 L629.65,315.48 L630.5,316.04 L631.36,316.6 L632.21,317.15 L633.07,317.69 L633.92,318.23 L634.78,318.76 L635.63,319.28 L636.49,319.79 L637.34,320.3 L638.2,320.8 L639.05,321.29 L639.91,321.77 L640.76,322.24 L641.62,322.7 L642.47,323.15 L643.32,323.59 L644.18,324.02 L645.03,324.44 L645.89,324.86 L646.74,325.26 L647.6,325.66 L648.45,326.05 L649.31,326.43 L650.16,326.81 L651.02,327.18 L651.87,327.54 L652.73,327.9 L653.58,328.25 L654.44,328.6 L655.29,328.95 L656.15,329.29 L657,329.62 L657.86,329.96 L658.71,330.29 L659.57,330.61 L660.42,330.94 L661.28,331.27 L662.13,331.59 L662.99,331.91 L663.84,332.23" fill="none" stroke="#8c564b" stroke-width="1.6" stroke-linejoin="round" />
<circle cx="485.53" cy="215.44" r="1.75" fill="#8c564b"/>
<circle cx="492.13" cy="217.15" r="1.75" fill="#8c564b"/>
<circle cx="498.73" cy="219.01" r="1.75" fill="#8c564b"/>
<circle cx="505.33" cy="222.36" r="1.75" fill="#8c564b"/>
<circle cx="511.93" cy="227.5" r="1.75" fill="#8c564b"/>
<circle cx="518.53" cy="231.48" r="1.75" fill="#8c564b"/>
<circle cx="525.12" cy="239.26" r="1.75" fill="#8c564b"/>
<circle cx="531.72" cy="246.14" r="1.75" fill="#8c564b"/>
<circle cx="538.32" cy="253.9" r="1.75" fill="#8c564b"/>
<circle cx="544.92" cy="260.68" r="1.75" fill="#8c564b"/>
<circle cx="551.52" cy="266" r="1.75" fill="#8c564b"/>
<circle cx="558.12" cy="271.53" r="1.75" fill="#8c564b"/>
<circle cx="564.72" cy="274.74" r="1.75" fill="#8c564b"/>
<circle cx="571.32" cy="279.75" r="1.75" fill="#8c564b"/>
<circle cx="577.92" cy="282.1" r="1.75" fill="#8c564b"/>
<circle cx="584.51" cy="285.8" r="1.75" fill="#8c564b"/>
<circle cx="591.11" cy="288.99" r="1.75" fill="#8c564b"/>
<circle cx="597.71" cy="291.59" r="1.75" fill="#8c564b"/>
<circle cx="604.31" cy="296.94" r="1.75" fill="#8c564b"/>
<circle cx="610.91" cy="302.08" r="1.75" fill="#8c564b"/>
<circle cx="617.51" cy="307.46" r="1.75" fill="#8c564b"/>
<circle cx="624.11" cy="311.47" r="1.75" fill="#8c564b"/>
<circle cx="630.71" cy="315.9" r="1.75" fill="#8c564b"/>
<circle cx="637.3" cy="319.17" r="1.75" fill="#8c564b"/>
<circle cx="643.9" cy="324.2" r="1.75" fill="#8c564b"/>
<circle cx="650.5" cy="327.46" r="1.75" fill="#8c564b"/>
<circle cx="657.1" cy="329.28" r="1.75" fill="#8c564b"/>
<circle cx="663.7" cy="331.67" r="1.75" fill="#8c564b"/>
<path d="M476.64,214.41 L477.49,214.41 L478.35,214.41 L479.2,214.46 L480.06,214.63 L480.91,214.81 L481.77,214.98 L482.62,215.16 L483.48,215.34 L484.33,215.53 L485.19,215.72 L486.04,215.91 L486.9,216.11 L487.75,216.31 L488.61,216.52 L489.46,216.74 L490.32,216.96 L491.17,217.19 L492.03,217.43 L492.88,217.68 L493.74,217.94 L494.59,218.2 L495.45,218.48 L496.3,218.77 L497.16,219.08 L498.01,219.39 L498.86,219.73 L499.72,220.07 L500.57,220.44 L501.43,220.81 L502.28,221.21 L503.14,221.62 L503.99,222.06 L504.85,222.51 L505.7,222.98 L506.56,223.48 L507.41,224 L508.27,224.53 L509.12,225.1 L509.98,225.68 L510.83,226.29 L511.69,226.92 L512.54,227.58 L513.4,228.25 L514.25,228.95 L515.11,229.66 L515.96,230.4 L516.82,231.16 L517.67,231.94 L518.52,232.74 L519.38,233.56 L520.23,234.4 L521.09,235.26 L521.94,236.13 L522.8,237.03 L523.65,237.94 L524.51,238.87 L525.36,239.81 L526.22,240.76 L527.07,241.72 L527.93,242.68 L528.78,243.65 L529.64,244.63 L530.49,245.6 L531.35,246.57 L532.2,247.54 L533.06,248.5 L533.91,249.46 L534.77,250.4 L535.62,251.33 L536.48,252.25 L537.33,253.16 L538.19,254.05 L539.04,254.92 L539.89,255.78 L540.75,256.63 L541.6,257.47 L542.46,258.29 L543.31,259.1 L544.17,259.9 L545.02,260.69 L545.88,261.47 L546.73,262.23 L547.59,262.98 L548.44,263.72 L549.3,264.45 L550.15,265.17 L551.01,265.88 L551.86,266.58 L552.72,267.26 L553.57,267.94 L554.43,268.6 L555.28,269.26 L556.14,269.9 L556.99,270.53 L557.85,271.15 L558.7,271.76 L559.56,272.36 L560.41,272.95 L561.26,273.52 L562.12,274.09 L562.97,274.64 L563.83,275.18 L564.68,275.71 L565.54,276.23 L566.39,276.74 L567.25,277.24 L568.1,277.73 L568.96,278.22 L569.81,278.7 L570.67,279.18 L571.52,279.66 L572.38,280.13 L573.23,280.61 L574.09,281.08 L574.94,281.56 L575.8,282.05 L576.65,282.53 L577.51,283.03 L578.36,283.52 L579.22,284.03 L580.07,284.55 L580.92,285.07 L581.78,285.61 L582.63,286.16 L583.49,286.71 L584.34,287.28 L585.2,287.87 L586.05,288.46 L586.91,289.07 L587.76,289.7 L588.62,290.34 L589.47,291 L590.33,291.67 L591.18,292.37 L592.04,293.07 L592.89,293.8 L593.75,294.54 L594.6,295.29 L595.46,296.05 L596.31,296.83 L597.17,297.62 L598.02,298.42 L598.88,299.23 L599.73,300.04 L600.59,300.87 L601.44,301.7 L602.29,302.54 L603.15,303.38 L604,304.23 L604.86,305.08 L605.71,305.93 L606.57,306.78 L607.42,307.64 L608.28,308.49 L609.13,309.35 L609.99,310.2 L610.84,311.06 L611.7,311.91 L612.55,312.75 L613.41,313.6 L614.26,314.44 L615.12,315.27 L615.97,316.1 L616.83,316.93 L617.68,317.75 L618.54,318.56 L619.39,319.37 L620.25,320.17 L621.1,320.96 L621.96,321.74 L622.81,322.51 L623.66,323.27 L624.52,324.02 L625.37,324.76 L626.23,325.49 L627.08,326.21 L627.94,326.92 L628.79,327.61 L629.65,328.29 L630.5,328.96 L631.36,329.62 L632.21,330.26 L633.07,330.88 L633.92,331.5 L634.78,332.1 L635.63,332.68 L636.49,333.25 L637.34,333.81 L638.2,334.34 L639.05,334.87 L639.91,335.37 L640.76,335.86 L641.62,336.33 L642.47,336.79 L643.32,337.23 L644.18,337.65 L645.03,338.06 L645.89,338.45 L646.74,338.83 L647.6,339.19 L648.45,339.54 L649.31,339.88 L650.16,340.21 L651.02,340.53 L651.87,340.84 L652.73,341.13 L653.58,341.42 L654.44,341.7 L655.29,341.98 L656.15,342.24 L657,342.5 L657.86,342.76 L658.71,343.01 L659.57,343.26 L660.42,343.5 L661.28,343.74 L662.13,343.98 L662.99,344.22 L663.84,344.45" fill="none" stroke="#e377c2" stroke-width="1.6" stroke-linejoin="round" />
<circle cx="485.53" cy="214.59" r="1.75" fill="#e377c2"/>
<circle cx="492.13" cy="217.5" r="1.75" fill="#e377c2"/>
<circle cx="498.73" cy="220.62" r="1.75" fill="#e377c2"/>
<circle cx="505.33" cy="222.73" r="1.75" fill="#e377c2"/>
<circle cx="511.93" cy="227.34" r="1.75" fill="#e377c2"/>
<circle cx="518.53" cy="232.61" r="1.75" fill="#e377c2"/>
<circle cx="525.12" cy="238.65" r="1.75" fill="#e377c2"/>
<circle cx="531.72" cy="247.27" r="1.75" fill="#e377c2"/>
<circle cx="538.32" cy="253.17" r="1.75" fill="#e377c2"/>
<circle cx="544.92" cy="260.09" r="1.75" fill="#e377c2"/>
<circle cx="551.52" cy="266.04" r="1.75" fill="#e377c2"/>
<circle cx="558.12" cy="271.39" r="1.75" fill="#e377c2"/>
<circle cx="564.72" cy="275.54" r="1.75" fill="#e377c2"/>
<circle cx="571.32" cy="279.34" r="1.75" fill="#e377c2"/>
<circle cx="577.92" cy="282.48" r="1.75" fill="#e377c2"/>
<circle cx="584.51" cy="286.35" r="1.75" fill="#e377c2"/>
<circle cx="591.11" cy="291.94" r="1.75" fill="#e377c2"/>
<circle cx="597.71" cy="297.37" r="1.75" fill="#e377c2"/>
<circle cx="604.31" cy="303.48" r="1.75" fill="#e377c2"/>
<circle cx="610.91" cy="310.09" r="1.75" fill="#e377c2"/>
<circle cx="617.51" cy="316.94" r="1.75" fill="#e377c2"/>
<circle cx="624.11" cy="322.34" r="1.75" fill="#e377c2"/>
<circle cx="630.71" cy="328.04" r="1.75" fill="#e377c2"/>
<circle cx="637.3" cy="332.56" r="1.75" fill="#e377c2"/>
<circle cx="643.9" cy="337.21" r="1.75" fill="#e377c2"/>
<circle cx="650.5" cy="340.14" r="1.75" fill="#e377c2"/>
<circle cx="657.1" cy="343.14" r="1.75" fill="#e377c2"/>
<circle cx="663.7" cy="343.26" r="1.75" fill="#e377c2"/>
</g>
<rect x="479.3" y="211.2" width="182.2" height="141.8" fill="none" stroke="#303030" stroke-width="1.0"/>
<line x1="474.8" y1="321" x2="479.3" y2="321" stroke="#303030" stroke-width="1.0" />
<text x="473.6" y="324.2" font-size="9.5" text-anchor="end" font-weight="normal" font-style="normal" font-family='"Liberation Sans", sans-serif' fill="#2b2b2b" >0.4</text>
<line x1="474.8" y1="285.6" x2="479.3" y2="285.6" stroke="#303030" stroke-width="1.0" />
<text x="473.6" y="288.8" font-size="9.5" text-anchor="end" font-weight="normal" font-style="normal" font-family='"Liberation Sans", sans-serif' fill="#2b2b2b" >0.6</text>
<line x1="474.8" y1="250.2" x2="479.3" y2="250.2" stroke="#303030" stroke-width="1.0" />
<text x="473.6" y="253.4" font-size="9.5" text-anchor="end" font-weight="normal" font-style="normal" font-family='"Liberation Sans", sans-serif' fill="#2b2b2b" >0.8</text>
<line x1="474.8" y1="214.8" x2="479.3" y2="214.8" stroke="#303030" stroke-width="1.0" />
<text x="473.6" y="218" font-size="9.5" text-anchor="end" font-weight="normal" font-style="normal" font-family='"Liberation Sans", sans-serif' fill="#2b2b2b" >1</text>
<g clip-path="url(#cEr)">
<line x1="479.3" y1="370.9" x2="661.5" y2="370.9" stroke="#c98080" stroke-width="0.6" stroke-dasharray="2,2"/>
<path d="M478,370.86 L483.68,368.92 L489.36,370.95 L495.05,371.74 L500.73,368.71 L506.41,369.02 L512.09,370.97 L517.77,372.78 L523.45,369.72 L529.14,367.59 L534.82,367.16 L540.5,367.35 L546.18,368.02 L551.86,370.19 L557.55,370.43 L563.23,371.92 L568.91,372.6 L574.59,372.78 L580.27,371.07 L585.95,368.45 L591.64,370.12 L597.32,371.13 L603,370.88 L608.68,370.56 L614.36,368.82 L620.05,367.4 L625.73,368.89 L631.41,368.33 L637.09,372.06 L642.77,370.73 L648.45,371.89 L654.14,370.07 L659.82,370.36" fill="none" stroke="#1f77b4" stroke-width="1.5" stroke-linejoin="round" />
<path d="M478,369.38 L483.68,369.73 L489.36,369.49 L495.05,370.61 L500.73,369.18 L506.41,368.43 L512.09,368.83 L517.77,371.87 L523.45,370.63 L529.14,367.74 L534.82,368.81 L540.5,368.25 L546.18,371.79 L551.86,371.02 L557.55,372.09 L563.23,372.69 L568.91,373.1 L574.59,375.81 L580.27,375.66 L585.95,371.02 L591.64,370.21 L597.32,370.3 L603,370.4 L608.68,370.69 L614.36,368.86 L620.05,369.03 L625.73,369.89 L631.41,370.04 L637.09,370.37 L642.77,371.48 L648.45,371.25 L654.14,371.04 L659.82,370.68" fill="none" stroke="#ff7f0e" stroke-width="1.5" stroke-linejoin="round" />
<path d="M478,370.42 L483.68,369.07 L489.36,370.73 L495.05,370.33 L500.73,370.58 L506.41,368.61 L512.09,369.45 L517.77,372.83 L523.45,368.74 L529.14,368.33 L534.82,365.17 L540.5,366.86 L546.18,369.26 L551.86,369.96 L557.55,370.36 L563.23,371.83 L568.91,372.07 L574.59,372.6 L580.27,372.76 L585.95,368.68 L591.64,371.61 L597.32,370.42 L603,372.54 L608.68,371.39 L614.36,369.81 L620.05,368.23 L625.73,370.71 L631.41,371.94 L637.09,372.28 L642.77,373.3 L648.45,372.47 L654.14,370.31 L659.82,372.84" fill="none" stroke="#2ca02c" stroke-width="1.5" stroke-linejoin="round" />
<path d="M478,369.03 L483.68,371.23 L489.36,370.1 L495.05,371.04 L500.73,369.89 L506.41,368.42 L512.09,368.22 L517.77,372.28 L523.45,370.45 L529.14,369.54 L534.82,366.25 L540.5,367.94 L546.18,367.92 L551.86,369.65 L557.55,369.18 L563.23,373.67 L568.91,372.38 L574.59,371.55 L580.27,371.44 L585.95,369.19 L591.64,369.85 L597.32,371.99 L603,371.78 L608.68,368.55 L614.36,368.58 L620.05,369.48 L625.73,370.21 L631.41,370.74 L637.09,370.41 L642.77,372.2 L648.45,372.22 L654.14,370.95 L659.82,371.11" fill="none" stroke="#d62728" stroke-width="1.5" stroke-linejoin="round" />
<path d="M478,369.95 L483.68,371 L489.36,371.77 L495.05,371.38 L500.73,371.85 L506.41,368.26 L512.09,370.37 L517.77,372.02 L523.45,368.88 L529.14,367.61 L534.82,367.81 L540.5,366.94 L546.18,367.62 L551.86,370.29 L557.55,371.61 L563.23,371.99 L568.91,373.55 L574.59,371.02 L580.27,373.29 L585.95,369.47 L591.64,369.86 L597.32,370.95 L603,371.74 L608.68,370.51 L614.36,369.81 L620.05,367.45 L625.73,371.35 L631.41,370.37 L637.09,371.96 L642.77,371.34 L648.45,371.4 L654.14,372.56 L659.82,372.46" fill="none" stroke="#9467bd" stroke-width="1.5" stroke-linejoin="round" />
<path d="M478,368.9 L483.68,369.68 L489.36,370.98 L495.05,368.91 L500.73,367.76 L506.41,370.25 L512.09,369.53 L517.77,370.2 L523.45,369.86 L529.14,368.47 L534.82,366.96 L540.5,368.21 L546.18,368.86 L551.86,370.11 L557.55,370.08 L563.23,372.24 L568.91,372.51 L574.59,373.42 L580.27,371.17 L585.95,369.28 L591.64,369.78 L597.32,369.81 L603,371.56 L608.68,370.3 L614.36,369.29 L620.05,368.42 L625.73,369.54 L631.41,370.65 L637.09,370.63 L642.77,372.44 L648.45,370.4 L654.14,371.71 L659.82,372.56" fill="none" stroke="#8c564b" stroke-width="1.5" stroke-linejoin="round" />
<path d="M478,370.05 L483.68,370.6 L489.36,370.23 L495.05,371.4 L500.73,368.81 L506.41,369.64 L512.09,371.85 L517.77,373.11 L523.45,372.37 L529.14,368.7 L534.82,365.82 L540.5,367.14 L546.18,369.87 L551.86,370.3 L557.55,369.15 L563.23,371.6 L568.91,372.11 L574.59,371.39 L580.27,368.92 L585.95,367.31 L591.64,369.49 L597.32,370.43 L603,371.33 L608.68,371.3 L614.36,370.57 L620.05,368.43 L625.73,370.28 L631.41,370.43 L637.09,371.23 L642.77,369.35 L648.45,372.37 L654.14,371.85 L659.82,372.03" fill="none" stroke="#e377c2" stroke-width="1.5" stroke-linejoin="round" />
</g>
<rect x="479.3" y="353" width="182.2" height="35.5" fill="none" stroke="#303030" stroke-width="1.0"/>
<line x1="474.8" y1="358.9" x2="479.3" y2="358.9" stroke="#303030" stroke-width="1.0" />
<text x="473.6" y="362.1" font-size="9.5" text-anchor="end" font-weight="normal" font-style="normal" font-family='"Liberation Sans", sans-serif' fill="#2b2b2b" >0.02</text>
<line x1="474.8" y1="370.9" x2="479.3" y2="370.9" stroke="#303030" stroke-width="1.0" />
<text x="473.6" y="374.1" font-size="9.5" text-anchor="end" font-weight="normal" font-style="normal" font-family='"Liberation Sans", sans-serif' fill="#2b2b2b" >0</text>
<line x1="474.8" y1="382.9" x2="479.3" y2="382.9" stroke="#303030" stroke-width="1.0" />
<text x="473.6" y="386.1" font-size="9.5" text-anchor="end" font-weight="normal" font-style="normal" font-family='"Liberation Sans", sans-serif' fill="#2b2b2b" >−0.02</text>
<line x1="488.39" y1="353" x2="488.39" y2="355.8" stroke="#303030" stroke-width="0.9" />
<line x1="496.63" y1="353" x2="496.63" y2="355.8" stroke="#303030" stroke-width="0.9" />
<line x1="502.48" y1="353" x2="502.48" y2="355.8" stroke="#303030" stroke-width="0.9" />
<line x1="507.01" y1="353" x2="507.01" y2="355.8" stroke="#303030" stroke-width="0.9" />
<line x1="510.72" y1="353" x2="510.72" y2="355.8" stroke="#303030" stroke-width="0.9" />
<line x1="513.85" y1="353" x2="513.85" y2="355.8" stroke="#303030" stroke-width="0.9" />
<line x1="516.56" y1="353" x2="516.56" y2="355.8" stroke="#303030" stroke-width="0.9" />
<line x1="518.96" y1="353" x2="518.96" y2="355.8" stroke="#303030" stroke-width="0.9" />
<line x1="521.1" y1="353" x2="521.1" y2="357" stroke="#303030" stroke-width="1.1" />
<line x1="535.19" y1="353" x2="535.19" y2="355.8" stroke="#303030" stroke-width="0.9" />
<line x1="543.43" y1="353" x2="543.43" y2="355.8" stroke="#303030" stroke-width="0.9" />
<line x1="549.28" y1="353" x2="549.28" y2="355.8" stroke="#303030" stroke-width="0.9" />
<line x1="553.81" y1="353" x2="553.81" y2="355.8" stroke="#303030" stroke-width="0.9" />
<line x1="557.52" y1="353" x2="557.52" y2="355.8" stroke="#303030" stroke-width="0.9" />
<line x1="560.65" y1="353" x2="560.65" y2="355.8" stroke="#303030" stroke-width="0.9" />
<line x1="563.36" y1="353" x2="563.36" y2="355.8" stroke="#303030" stroke-width="0.9" />
<line x1="565.76" y1="353" x2="565.76" y2="355.8" stroke="#303030" stroke-width="0.9" />
<line x1="567.9" y1="353" x2="567.9" y2="357" stroke="#303030" stroke-width="1.1" />
<line x1="581.99" y1="353" x2="581.99" y2="355.8" stroke="#303030" stroke-width="0.9" />
<line x1="590.23" y1="353" x2="590.23" y2="355.8" stroke="#303030" stroke-width="0.9" />
<line x1="596.08" y1="353" x2="596.08" y2="355.8" stroke="#303030" stroke-width="0.9" />
<line x1="600.61" y1="353" x2="600.61" y2="355.8" stroke="#303030" stroke-width="0.9" />
<line x1="604.32" y1="353" x2="604.32" y2="355.8" stroke="#303030" stroke-width="0.9" />
<line x1="607.45" y1="353" x2="607.45" y2="355.8" stroke="#303030" stroke-width="0.9" />
<line x1="610.16" y1="353" x2="610.16" y2="355.8" stroke="#303030" stroke-width="0.9" />
<line x1="612.56" y1="353" x2="612.56" y2="355.8" stroke="#303030" stroke-width="0.9" />
<line x1="614.7" y1="353" x2="614.7" y2="357" stroke="#303030" stroke-width="1.1" />
<line x1="628.79" y1="353" x2="628.79" y2="355.8" stroke="#303030" stroke-width="0.9" />
<line x1="637.03" y1="353" x2="637.03" y2="355.8" stroke="#303030" stroke-width="0.9" />
<line x1="642.88" y1="353" x2="642.88" y2="355.8" stroke="#303030" stroke-width="0.9" />
<line x1="647.41" y1="353" x2="647.41" y2="355.8" stroke="#303030" stroke-width="0.9" />
<line x1="651.12" y1="353" x2="651.12" y2="355.8" stroke="#303030" stroke-width="0.9" />
<line x1="654.25" y1="353" x2="654.25" y2="355.8" stroke="#303030" stroke-width="0.9" />
<line x1="656.96" y1="353" x2="656.96" y2="355.8" stroke="#303030" stroke-width="0.9" />
<line x1="659.36" y1="353" x2="659.36" y2="355.8" stroke="#303030" stroke-width="0.9" />
<line x1="661.5" y1="353" x2="661.5" y2="357" stroke="#303030" stroke-width="1.1" />
<line x1="488.39" y1="388.5" x2="488.39" y2="391.3" stroke="#303030" stroke-width="0.9" />
<line x1="496.63" y1="388.5" x2="496.63" y2="391.3" stroke="#303030" stroke-width="0.9" />
<line x1="502.48" y1="388.5" x2="502.48" y2="391.3" stroke="#303030" stroke-width="0.9" />
<line x1="507.01" y1="388.5" x2="507.01" y2="391.3" stroke="#303030" stroke-width="0.9" />
<line x1="510.72" y1="388.5" x2="510.72" y2="391.3" stroke="#303030" stroke-width="0.9" />
<line x1="513.85" y1="388.5" x2="513.85" y2="391.3" stroke="#303030" stroke-width="0.9" />
<line x1="516.56" y1="388.5" x2="516.56" y2="391.3" stroke="#303030" stroke-width="0.9" />
<line x1="518.96" y1="388.5" x2="518.96" y2="391.3" stroke="#303030" stroke-width="0.9" />
<line x1="521.1" y1="388.5" x2="521.1" y2="392.5" stroke="#303030" stroke-width="1.1" />
<line x1="535.19" y1="388.5" x2="535.19" y2="391.3" stroke="#303030" stroke-width="0.9" />
<line x1="543.43" y1="388.5" x2="543.43" y2="391.3" stroke="#303030" stroke-width="0.9" />
<line x1="549.28" y1="388.5" x2="549.28" y2="391.3" stroke="#303030" stroke-width="0.9" />
<line x1="553.81" y1="388.5" x2="553.81" y2="391.3" stroke="#303030" stroke-width="0.9" />
<line x1="557.52" y1="388.5" x2="557.52" y2="391.3" stroke="#303030" stroke-width="0.9" />
<line x1="560.65" y1="388.5" x2="560.65" y2="391.3" stroke="#303030" stroke-width="0.9" />
<line x1="563.36" y1="388.5" x2="563.36" y2="391.3" stroke="#303030" stroke-width="0.9" />
<line x1="565.76" y1="388.5" x2="565.76" y2="391.3" stroke="#303030" stroke-width="0.9" />
<line x1="567.9" y1="388.5" x2="567.9" y2="392.5" stroke="#303030" stroke-width="1.1" />
<line x1="581.99" y1="388.5" x2="581.99" y2="391.3" stroke="#303030" stroke-width="0.9" />
<line x1="590.23" y1="388.5" x2="590.23" y2="391.3" stroke="#303030" stroke-width="0.9" />
<line x1="596.08" y1="388.5" x2="596.08" y2="391.3" stroke="#303030" stroke-width="0.9" />
<line x1="600.61" y1="388.5" x2="600.61" y2="391.3" stroke="#303030" stroke-width="0.9" />
<line x1="604.32" y1="388.5" x2="604.32" y2="391.3" stroke="#303030" stroke-width="0.9" />
<line x1="607.45" y1="388.5" x2="607.45" y2="391.3" stroke="#303030" stroke-width="0.9" />
<line x1="610.16" y1="388.5" x2="610.16" y2="391.3" stroke="#303030" stroke-width="0.9" />
<line x1="612.56" y1="388.5" x2="612.56" y2="391.3" stroke="#303030" stroke-width="0.9" />
<line x1="614.7" y1="388.5" x2="614.7" y2="392.5" stroke="#303030" stroke-width="1.1" />
<line x1="628.79" y1="388.5" x2="628.79" y2="391.3" stroke="#303030" stroke-width="0.9" />
<line x1="637.03" y1="388.5" x2="637.03" y2="391.3" stroke="#303030" stroke-width="0.9" />
<line x1="642.88" y1="388.5" x2="642.88" y2="391.3" stroke="#303030" stroke-width="0.9" />
<line x1="647.41" y1="388.5" x2="647.41" y2="391.3" stroke="#303030" stroke-width="0.9" />
<line x1="651.12" y1="388.5" x2="651.12" y2="391.3" stroke="#303030" stroke-width="0.9" />
<line x1="654.25" y1="388.5" x2="654.25" y2="391.3" stroke="#303030" stroke-width="0.9" />
<line x1="656.96" y1="388.5" x2="656.96" y2="391.3" stroke="#303030" stroke-width="0.9" />
<line x1="659.36" y1="388.5" x2="659.36" y2="391.3" stroke="#303030" stroke-width="0.9" />
<line x1="661.5" y1="388.5" x2="661.5" y2="392.5" stroke="#303030" stroke-width="1.1" />
<text x="521.1" y="401.2" font-family='"Liberation Sans", sans-serif' fill="#2b2b2b" text-anchor="middle"><tspan font-size="8.7">10</tspan><tspan font-size="5.92" dy="-3.1">0</tspan></text>
<text x="567.9" y="401.2" font-family='"Liberation Sans", sans-serif' fill="#2b2b2b" text-anchor="middle"><tspan font-size="8.7">10</tspan><tspan font-size="5.92" dy="-3.1">1</tspan></text>
<text x="614.7" y="401.2" font-family='"Liberation Sans", sans-serif' fill="#2b2b2b" text-anchor="middle"><tspan font-size="8.7">10</tspan><tspan font-size="5.92" dy="-3.1">2</tspan></text>
<text x="661.5" y="401.2" font-family='"Liberation Sans", sans-serif' fill="#2b2b2b" text-anchor="middle"><tspan font-size="8.7">10</tspan><tspan font-size="5.92" dy="-3.1">3</tspan></text>
<text x="570.7" y="412.2" font-size="11.8" text-anchor="middle" font-family='"Liberation Sans", sans-serif' fill="#2b2b2b" textLength="33" lengthAdjust="spacingAndGlyphs">w (<tspan font-style="italic">μ</tspan>s)</text>
<text x="640.8" y="234.6" font-size="24.8" text-anchor="start" font-weight="bold" font-style="normal" font-family='"Liberation Sans", sans-serif' fill="#000" textLength="15.6" lengthAdjust="spacingAndGlyphs" style="stroke:#000;stroke-width:1.0px">E</text>
<rect x="505.6" y="287.6" width="47.1" height="45.4" fill="#fff" stroke="#303030" stroke-width="0.9"/>
<circle cx="507.3" cy="331.3" r="1.7" fill="#1f77b4"/>
<circle cx="509.4" cy="329.3" r="1.7" fill="#ff7f0e"/>
<circle cx="511.5" cy="327.4" r="1.7" fill="#2ca02c"/>
<circle cx="513.6" cy="325.1" r="1.7" fill="#d62728"/>
<circle cx="522.4" cy="316.7" r="1.7" fill="#9467bd"/>
<circle cx="528.8" cy="310.5" r="1.7" fill="#8c564b"/>
<circle cx="549.8" cy="289.6" r="1.7" fill="#e377c2"/>
<line x1="503.6" y1="295.5" x2="505.6" y2="295.5" stroke="#303030" stroke-width="0.7" />
<text x="502.6" y="297.7" font-size="6.3" text-anchor="end" font-weight="normal" font-style="normal" font-family='"Liberation Sans", sans-serif' fill="#2b2b2b" >0.02</text>
<line x1="503.6" y1="313.3" x2="505.6" y2="313.3" stroke="#303030" stroke-width="0.7" />
<text x="502.6" y="315.5" font-size="6.3" text-anchor="end" font-weight="normal" font-style="normal" font-family='"Liberation Sans", sans-serif' fill="#2b2b2b" >0.01</text>
<line x1="503.6" y1="331.3" x2="505.6" y2="331.3" stroke="#303030" stroke-width="0.7" />
<text x="502.6" y="333.5" font-size="6.3" text-anchor="end" font-weight="normal" font-style="normal" font-family='"Liberation Sans", sans-serif' fill="#2b2b2b" >0</text>
<line x1="506.9" y1="333" x2="506.9" y2="335" stroke="#303030" stroke-width="0.7" />
<text x="506.9" y="341" font-size="6.3" text-anchor="middle" font-weight="normal" font-style="normal" font-family='"Liberation Sans", sans-serif' fill="#2b2b2b" >0</text>
<line x1="528.6" y1="333" x2="528.6" y2="335" stroke="#303030" stroke-width="0.7" />
<text x="528.6" y="341" font-size="6.3" text-anchor="middle" font-weight="normal" font-style="normal" font-family='"Liberation Sans", sans-serif' fill="#2b2b2b" >100</text>
<line x1="550.3" y1="333" x2="550.3" y2="335" stroke="#303030" stroke-width="0.7" />
<text x="550.3" y="341" font-size="6.3" text-anchor="middle" font-weight="normal" font-style="normal" font-family='"Liberation Sans", sans-serif' fill="#2b2b2b" >200</text>
<text x="528.8" y="346.8" font-size="7.2" text-anchor="middle" font-family='"Liberation Sans", sans-serif' fill="#2b2b2b">AA [<tspan font-style="italic">μ</tspan>M]</text>
<text x="487" y="313.6" font-size="7" text-anchor="middle" font-family='"Liberation Sans", sans-serif' fill="#2b2b2b" transform="rotate(-90 487 313.6)"><tspan font-style="italic">k</tspan><tspan font-size="5" dy="1.5" font-style="italic">RED</tspan></text>
</svg></body></html>
